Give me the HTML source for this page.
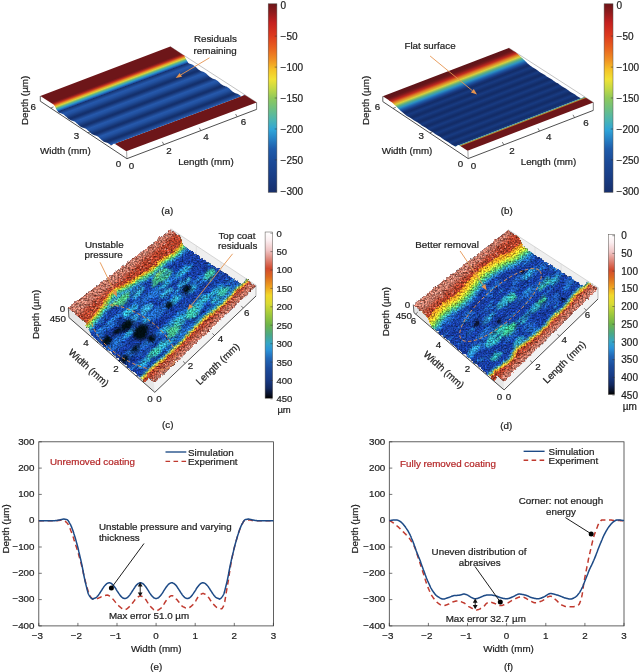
<!DOCTYPE html>
<html><head><meta charset="utf-8"><title>Figure</title>
<style>html,body{margin:0;padding:0;background:#fff;}body{width:639px;height:672px;overflow:hidden;font-family:"Liberation Sans",sans-serif;}svg{display:block;}</style></head>
<body>
<svg width="639" height="672" viewBox="0 0 639 672" font-family="'Liberation Sans', sans-serif">
<defs>
<linearGradient id="jet" x1="0" y1="0" x2="0" y2="1" gradientUnits="objectBoundingBox"><stop offset="0" stop-color="#6f1519"/><stop offset="0.04" stop-color="#8a1a1c"/><stop offset="0.1" stop-color="#c4201f"/><stop offset="0.17" stop-color="#dd3a1e"/><stop offset="0.24" stop-color="#e9651f"/><stop offset="0.3" stop-color="#f09323"/><stop offset="0.35" stop-color="#f5c327"/><stop offset="0.4" stop-color="#f1e235"/><stop offset="0.45" stop-color="#c3d945"/><stop offset="0.5" stop-color="#8fc95a"/><stop offset="0.56" stop-color="#6cbf84"/><stop offset="0.62" stop-color="#4ab4b4"/><stop offset="0.67" stop-color="#2fa4d8"/><stop offset="0.72" stop-color="#2680c4"/><stop offset="0.77" stop-color="#1f5cab"/><stop offset="0.84" stop-color="#1b4a97"/><stop offset="0.92" stop-color="#193d85"/><stop offset="1" stop-color="#172f6c"/></linearGradient>
<linearGradient id="hot" x1="0" y1="0" x2="0" y2="1" gradientUnits="objectBoundingBox"><stop offset="0" stop-color="#ffffff"/><stop offset="0.05" stop-color="#fbeef0"/><stop offset="0.11" stop-color="#f0c4c4"/><stop offset="0.16" stop-color="#e08c80"/><stop offset="0.22" stop-color="#d24a2e"/><stop offset="0.27" stop-color="#dd6a20"/><stop offset="0.33" stop-color="#eea21f"/><stop offset="0.38" stop-color="#f2d82a"/><stop offset="0.43" stop-color="#dadb33"/><stop offset="0.5" stop-color="#9cc83c"/><stop offset="0.56" stop-color="#6db44a"/><stop offset="0.62" stop-color="#4aa887"/><stop offset="0.67" stop-color="#35a6c6"/><stop offset="0.71" stop-color="#2b93d8"/><stop offset="0.76" stop-color="#2268b8"/><stop offset="0.82" stop-color="#1c4c9c"/><stop offset="0.89" stop-color="#183a84"/><stop offset="0.94" stop-color="#12285e"/><stop offset="0.98" stop-color="#080f22"/><stop offset="1" stop-color="#000000"/></linearGradient>
<linearGradient id="ga" gradientUnits="userSpaceOnUse" x1="126.30" y1="151.30" x2="97.49" y2="74.54"><stop offset="0.0000" stop-color="#6d1619"/><stop offset="0.1342" stop-color="#6d1619"/><stop offset="0.1354" stop-color="#1c4590"/><stop offset="0.1423" stop-color="#2659ac"/><stop offset="0.1882" stop-color="#15316e"/><stop offset="0.2021" stop-color="#14306c"/><stop offset="0.2535" stop-color="#21509f"/><stop offset="0.2813" stop-color="#2659ac"/><stop offset="0.3272" stop-color="#15316e"/><stop offset="0.3411" stop-color="#14306c"/><stop offset="0.3926" stop-color="#21509f"/><stop offset="0.4204" stop-color="#2659ac"/><stop offset="0.4663" stop-color="#15316e"/><stop offset="0.4802" stop-color="#14306c"/><stop offset="0.5316" stop-color="#21509f"/><stop offset="0.5594" stop-color="#2659ac"/><stop offset="0.6053" stop-color="#15316e"/><stop offset="0.6192" stop-color="#14306c"/><stop offset="0.6707" stop-color="#21509f"/><stop offset="0.6985" stop-color="#2659ac"/><stop offset="0.7443" stop-color="#15316e"/><stop offset="0.7391" stop-color="#183a84"/><stop offset="0.7562" stop-color="#1f62b4"/><stop offset="0.7733" stop-color="#2e9acb"/><stop offset="0.7915" stop-color="#66b784"/><stop offset="0.8098" stop-color="#d8d43c"/><stop offset="0.8281" stop-color="#e58f26"/><stop offset="0.8452" stop-color="#c93a1f"/><stop offset="0.8635" stop-color="#8a1a1c"/><stop offset="0.8781" stop-color="#6d1619"/><stop offset="1.0001" stop-color="#6d1619"/></linearGradient>
<linearGradient id="gb" gradientUnits="userSpaceOnUse" x1="467.60" y1="150.70" x2="438.48" y2="74.91"><stop offset="0.0000" stop-color="#6d1619"/><stop offset="0.0764" stop-color="#6d1619"/><stop offset="0.0825" stop-color="#9c3a1f"/><stop offset="0.0899" stop-color="#a89a3c"/><stop offset="0.0985" stop-color="#3d8c86"/><stop offset="0.1084" stop-color="#173a80"/><stop offset="0.1316" stop-color="#132d69"/><stop offset="0.1696" stop-color="#183b82"/><stop offset="0.2034" stop-color="#132c67"/><stop offset="0.2161" stop-color="#132d69"/><stop offset="0.2541" stop-color="#183b82"/><stop offset="0.2878" stop-color="#132c67"/><stop offset="0.3005" stop-color="#132d69"/><stop offset="0.3385" stop-color="#183b82"/><stop offset="0.3723" stop-color="#132c67"/><stop offset="0.3850" stop-color="#132d69"/><stop offset="0.4230" stop-color="#183b82"/><stop offset="0.4567" stop-color="#132c67"/><stop offset="0.4694" stop-color="#132d69"/><stop offset="0.5074" stop-color="#183b82"/><stop offset="0.5412" stop-color="#132c67"/><stop offset="0.5539" stop-color="#132d69"/><stop offset="0.5919" stop-color="#183b82"/><stop offset="0.6256" stop-color="#132c67"/><stop offset="0.6383" stop-color="#132d69"/><stop offset="0.6763" stop-color="#183b82"/><stop offset="0.7101" stop-color="#132c67"/><stop offset="0.7328" stop-color="#17357a"/><stop offset="0.7636" stop-color="#1e5aa8"/><stop offset="0.7919" stop-color="#2c92c4"/><stop offset="0.8202" stop-color="#5fb080"/><stop offset="0.8486" stop-color="#d6cf3c"/><stop offset="0.8769" stop-color="#e08226"/><stop offset="0.9052" stop-color="#c02a1f"/><stop offset="0.9335" stop-color="#821a1c"/><stop offset="0.9557" stop-color="#64161a"/><stop offset="1.0099" stop-color="#5e1418"/></linearGradient>

<filter id="rough" x="-5%" y="-5%" width="110%" height="110%" color-interpolation-filters="sRGB">
  <feTurbulence type="fractalNoise" baseFrequency="0.33" numOctaves="2" seed="7" result="n1"/>
  <feDisplacementMap in="SourceGraphic" in2="n1" scale="3.4" xChannelSelector="R" yChannelSelector="G" result="d"/>
  <feTurbulence type="fractalNoise" baseFrequency="0.62" numOctaves="2" seed="11" result="n2"/>
  <feColorMatrix in="n2" type="matrix" values="1.5 0 0 0 -0.25  1.5 0 0 0 -0.25  1.5 0 0 0 -0.25  0 0 0 0 1" result="gn"/>
  <feComposite in="gn" in2="d" operator="arithmetic" k1="0.95" k2="0" k3="0.53" k4="0" result="m"/>
  <feComposite in="m" in2="d" operator="in"/>
</filter>
<filter id="mottc" x="0" y="0" width="100%" height="100%" color-interpolation-filters="sRGB">
  <feTurbulence type="fractalNoise" baseFrequency="0.05 0.26" numOctaves="3" seed="4" result="n"/>
  <feColorMatrix in="n" type="matrix" values="0 0 0 0 0.17  0 0 0 0 0.60  0 0 0 0 0.86  3.4 0 0 0 -1.98" result="w"/>
  <feComposite in="w" in2="SourceGraphic" operator="in"/>
</filter>
<filter id="mottd" x="0" y="0" width="100%" height="100%" color-interpolation-filters="sRGB">
  <feTurbulence type="fractalNoise" baseFrequency="0.07 0.3" numOctaves="3" seed="19" result="n"/>
  <feColorMatrix in="n" type="matrix" values="0 0 0 0 0.06  0 0 0 0 0.14  0 0 0 0 0.45  3.2 0 0 0 -1.7" result="w"/>
  <feComposite in="w" in2="SourceGraphic" operator="in"/>
</filter>
<filter id="speckd" x="0" y="0" width="100%" height="100%" color-interpolation-filters="sRGB">
  <feTurbulence type="fractalNoise" baseFrequency="0.5" numOctaves="2" seed="23" result="n"/>
  <feColorMatrix in="n" type="matrix" values="0 0 0 0 0.45  0 0 0 0 0.13  0 0 0 0 0.08  2.6 0 0 0 -1.3" result="w"/>
  <feComposite in="w" in2="SourceGraphic" operator="in"/>
</filter>
<filter id="bl2"><feGaussianBlur stdDeviation="2"/></filter>
<filter id="bl1"><feGaussianBlur stdDeviation="1.1"/></filter>
<filter id="bl3"><feGaussianBlur stdDeviation="3.2"/></filter>
<filter id="speck" x="0" y="0" width="100%" height="100%" color-interpolation-filters="sRGB">
  <feTurbulence type="fractalNoise" baseFrequency="0.55" numOctaves="2" seed="5" result="n"/>
  <feColorMatrix in="n" type="matrix" values="0 0 0 0 0.98  0 0 0 0 0.86  0 0 0 0 0.84  2.2 0 0 0 -1.3" result="w"/>
  <feComposite in="w" in2="SourceGraphic" operator="in"/>
</filter>

<clipPath id="clipc"><polygon points="68.1,308.0 86.2,323.8 91.4,335.8 145.9,383.0 148.5,377.8 154.5,383.0 256.0,286.0 245.8,279.2 242.4,284.5 183.5,245.6 179.2,235.2 170.7,229.6"/></clipPath>
<clipPath id="clipd"><polygon points="413.1,304.6 427.2,316.5 432.1,327.5 494.7,380.6 497.9,376.5 503.8,381.5 598.0,288.5 587.2,281.5 583.6,286.0 523.3,247.0 518.8,237.3 508.0,230.3"/></clipPath>
</defs>
<g opacity="0.999">
<polygon points="40.3,96.0 126.3,151.3 126.9,158.7 40.3,101.2" fill="#fff"/>
<polygon points="126.3,151.3 256.6,102.4 256.6,109.4 126.9,158.7" fill="#fff"/>
<polyline points="170.3,46.6 256.6,102.4" fill="none" stroke="#9a9a9a" stroke-width="0.6"/>
<polygon points="114.7,143.8 113.9,143.7 113.1,144.1 112.4,144.7 111.6,145.2 110.8,145.4 110.1,144.5 109.3,144.0 108.5,143.5 107.7,143.1 107.0,142.8 106.2,142.6 105.4,142.3 104.6,142.0 103.9,141.7 103.1,141.2 102.3,140.6 101.6,139.9 100.8,139.2 100.0,138.4 99.2,137.7 98.5,137.1 97.7,136.5 96.9,136.1 96.1,135.7 95.4,135.4 94.6,135.2 93.8,134.9 93.0,134.6 92.3,134.2 91.5,133.7 90.7,133.1 90.0,132.4 89.2,131.6 88.4,130.9 87.6,130.2 86.9,129.6 86.1,129.0 85.3,128.6 84.5,128.3 83.8,128.1 83.0,127.8 82.2,127.5 81.5,127.2 80.7,126.8 79.9,126.2 79.1,125.6 78.4,124.9 77.6,124.1 76.8,123.4 76.0,122.7 75.3,122.1 74.5,121.6 73.7,121.2 73.0,120.9 72.2,120.7 71.4,120.4 70.6,120.1 69.9,119.8 69.1,119.3 68.3,118.7 67.5,118.1 66.8,117.3 66.0,116.6 65.2,115.9 64.5,115.2 63.7,114.6 62.9,114.2 62.1,113.8 61.4,113.5 60.6,113.3 59.8,113.1 59.0,112.7 58.3,112.3 57.5,111.1 56.7,110.0 55.9,108.4 55.2,106.8 54.4,105.4 53.6,104.6 183.7,55.2 184.5,56.1 185.2,57.5 186.0,59.1 186.8,60.6 187.6,61.8 188.3,63.0 189.1,63.4 189.9,63.8 190.7,64.0 191.4,64.3 192.2,64.6 193.0,64.9 193.8,65.4 194.5,65.9 195.3,66.6 196.1,67.3 196.9,68.1 197.6,68.8 198.4,69.5 199.2,70.1 200.0,70.5 200.7,70.9 201.5,71.2 202.3,71.5 203.1,71.7 203.8,72.0 204.6,72.4 205.4,72.9 206.2,73.5 206.9,74.2 207.7,74.9 208.5,75.7 209.3,76.4 210.0,77.1 210.8,77.6 211.6,78.0 212.4,78.4 213.1,78.7 213.9,78.9 214.7,79.2 215.5,79.5 216.3,79.9 217.0,80.4 217.8,81.1 218.6,81.8 219.4,82.5 220.1,83.3 220.9,84.0 221.7,84.6 222.5,85.1 223.2,85.5 224.0,85.8 224.8,86.1 225.6,86.4 226.3,86.6 227.1,87.0 227.9,87.4 228.7,88.0 229.4,88.6 230.2,89.4 231.0,90.1 231.8,90.9 232.5,91.6 233.3,92.1 234.1,92.6 234.9,93.0 235.6,93.3 236.4,93.5 237.2,93.8 238.0,94.1 238.7,94.5 239.5,95.0 240.3,95.6 241.1,96.4 241.8,96.3 242.6,95.7 243.4,95.1 244.2,94.7 244.9,94.9" fill="url(#ga)"/>
<polygon points="54.7,105.2 40.3,96.0 170.3,46.6 184.7,55.9" fill="url(#ga)"/>
<polygon points="126.3,151.3 114.7,143.8 244.9,94.9 256.6,102.4" fill="url(#ga)"/>
<polyline points="40.3,101.2 126.9,158.7 256.6,109.4" fill="none" stroke="#222" stroke-width="0.8"/>
<line x1="40.3" y1="96.0" x2="40.3" y2="101.2" stroke="#222" stroke-width="0.7"/>
<line x1="126.6" y1="151.3" x2="126.9" y2="158.7" stroke="#444" stroke-width="0.5"/>
<line x1="256.6" y1="102.4" x2="256.6" y2="109.4" stroke="#222" stroke-width="0.6"/>
<line x1="163.9" y1="144.6" x2="162.3" y2="141.8" stroke="#222" stroke-width="0.6"/>
<line x1="200.8" y1="130.6" x2="199.3" y2="127.8" stroke="#222" stroke-width="0.6"/>
<line x1="237.1" y1="116.8" x2="235.6" y2="114.0" stroke="#222" stroke-width="0.6"/>
<line x1="50.7" y1="108.1" x2="53.5" y2="106.9" stroke="#222" stroke-width="0.6"/>
<line x1="87.9" y1="132.8" x2="90.7" y2="131.7" stroke="#222" stroke-width="0.6"/>
<text x="33.2" y="109.9" font-size="9.8" text-anchor="middle" fill="#1e1e1e" stroke="#1e1e1e" stroke-width="0.22">6</text>
<text x="76.4" y="138.5" font-size="9.8" text-anchor="middle" fill="#1e1e1e" stroke="#1e1e1e" stroke-width="0.22">3</text>
<text x="118.6" y="166.7" font-size="9.8" text-anchor="middle" fill="#1e1e1e" stroke="#1e1e1e" stroke-width="0.22">0</text>
<text x="131.6" y="168.7" font-size="9.8" text-anchor="middle" fill="#1e1e1e" stroke="#1e1e1e" stroke-width="0.22">0</text>
<text x="169.1" y="154.4" font-size="9.8" text-anchor="middle" fill="#1e1e1e" stroke="#1e1e1e" stroke-width="0.22">2</text>
<text x="205.9" y="139.8" font-size="9.8" text-anchor="middle" fill="#1e1e1e" stroke="#1e1e1e" stroke-width="0.22">4</text>
<text x="243.4" y="125.1" font-size="9.8" text-anchor="middle" fill="#1e1e1e" stroke="#1e1e1e" stroke-width="0.22">6</text>
<text x="65.4" y="154.4" font-size="9.8" text-anchor="middle" fill="#1e1e1e" stroke="#1e1e1e" stroke-width="0.22">Width (mm)</text>
<text x="205.9" y="165.0" font-size="9.8" text-anchor="middle" fill="#1e1e1e" stroke="#1e1e1e" stroke-width="0.22">Length (mm)</text>
<text x="24.5" y="103.9" font-size="9.8" text-anchor="middle" fill="#1e1e1e" stroke="#1e1e1e" stroke-width="0.22" transform="rotate(-90 24.5 100.4)">Depth (µm)</text>
<text x="215.4" y="42.3" font-size="9.8" text-anchor="middle" fill="#1e1e1e" stroke="#1e1e1e" stroke-width="0.22">Residuals</text>
<text x="215.1" y="53.8" font-size="9.8" text-anchor="middle" fill="#1e1e1e" stroke="#1e1e1e" stroke-width="0.22">remaining</text>
<line x1="209.5" y1="57.8" x2="180.9" y2="74.8" stroke="#e59450" stroke-width="0.9"/>
<polygon points="175.7,77.9 179.7,72.9 182.0,76.8" fill="#e59450"/>
<text x="167.3" y="214.2" font-size="9.8" text-anchor="middle" fill="#1e1e1e" stroke="#1e1e1e" stroke-width="0.22">(a)</text>
<polygon points="382.8,96.3 467.6,150.7 468.2,158.6 382.8,101.6" fill="#fff"/>
<polygon points="467.6,150.7 593.3,102.4 593.3,110.4 468.2,158.6" fill="#fff"/>
<polyline points="508.8,47.9 593.3,102.4" fill="none" stroke="#9a9a9a" stroke-width="0.6"/>
<polygon points="459.1,145.3 458.2,145.1 457.3,145.6 456.4,146.3 455.6,146.7 454.7,146.3 453.8,145.8 452.9,145.3 452.0,144.8 451.1,144.3 450.2,143.6 449.3,142.9 448.4,142.3 447.5,141.7 446.6,141.2 445.8,140.7 444.9,140.2 444.0,139.7 443.1,139.1 442.2,138.4 441.3,137.7 440.4,137.1 439.5,136.6 438.6,136.1 437.7,135.6 436.8,135.1 436.0,134.5 435.1,133.9 434.2,133.2 433.3,132.5 432.4,132.0 431.5,131.5 430.6,131.0 429.7,130.5 428.8,130.0 427.9,129.3 427.0,128.7 426.2,128.0 425.3,127.4 424.4,126.9 423.5,126.4 422.6,125.9 421.7,125.4 420.8,124.8 419.9,124.1 419.0,123.5 418.1,122.8 417.2,122.3 416.4,121.8 415.5,121.3 414.6,120.8 413.7,120.3 412.8,119.6 411.9,118.9 411.0,118.3 410.1,117.7 409.2,117.2 408.3,116.7 407.4,116.2 406.6,115.7 405.7,114.9 404.8,114.3 403.9,113.6 403.0,112.8 402.1,112.1 401.2,111.2 400.3,110.4 399.4,109.6 398.5,108.7 397.6,107.8 396.8,107.0 395.9,106.1 395.0,105.2 394.1,104.4 393.2,103.6 392.3,102.8 391.4,102.1 390.5,101.4 389.6,100.7 388.7,100.1 514.7,51.7 515.6,52.3 516.5,53.0 517.4,53.7 518.3,54.4 519.2,55.2 520.0,56.0 520.9,56.9 521.8,57.7 522.7,58.6 523.6,59.4 524.5,60.3 525.4,61.2 526.3,62.0 527.1,62.9 528.0,63.7 528.9,64.5 529.8,65.2 530.7,65.9 531.6,66.6 532.5,67.3 533.4,67.8 534.2,68.3 535.1,68.8 536.0,69.3 536.9,69.9 537.8,70.6 538.7,71.2 539.6,71.9 540.5,72.5 541.3,73.0 542.2,73.4 543.1,73.9 544.0,74.5 544.9,75.1 545.8,75.8 546.7,76.4 547.6,77.1 548.5,77.6 549.3,78.0 550.2,78.5 551.1,79.0 552.0,79.6 552.9,80.3 553.8,81.0 554.7,81.6 555.6,82.2 556.4,82.7 557.3,83.1 558.2,83.6 559.1,84.2 560.0,84.9 560.9,85.5 561.8,86.2 562.7,86.8 563.5,87.3 564.4,87.8 565.3,88.2 566.2,88.8 567.1,89.4 568.0,90.1 568.9,90.7 569.8,91.4 570.6,91.9 571.5,92.4 572.4,92.9 573.3,93.4 574.2,93.9 575.1,94.6 576.0,95.3 576.9,95.9 577.7,96.5 578.6,97.0 579.5,97.5 580.4,98.0 581.3,98.4 582.2,98.0 583.1,97.3 584.0,96.8 584.8,97.0" fill="url(#gb)"/>
<polygon points="389.8,100.8 382.8,96.3 508.8,47.9 515.7,52.4" fill="url(#gb)"/>
<polygon points="467.6,150.7 459.1,145.3 584.8,97.0 593.3,102.4" fill="url(#gb)"/>
<polyline points="382.8,101.6 468.2,158.6 593.3,110.4" fill="none" stroke="#222" stroke-width="0.8"/>
<line x1="382.8" y1="96.3" x2="382.8" y2="101.6" stroke="#222" stroke-width="0.7"/>
<line x1="467.9" y1="150.7" x2="468.2" y2="158.6" stroke="#444" stroke-width="0.5"/>
<line x1="593.3" y1="102.4" x2="593.3" y2="110.4" stroke="#222" stroke-width="0.6"/>
<line x1="503.9" y1="144.9" x2="502.3" y2="142.1" stroke="#222" stroke-width="0.6"/>
<line x1="539.5" y1="131.1" x2="538.0" y2="128.3" stroke="#222" stroke-width="0.6"/>
<line x1="574.5" y1="117.6" x2="573.0" y2="114.8" stroke="#222" stroke-width="0.6"/>
<line x1="393.0" y1="108.4" x2="395.8" y2="107.3" stroke="#222" stroke-width="0.6"/>
<line x1="429.8" y1="132.9" x2="432.5" y2="131.8" stroke="#222" stroke-width="0.6"/>
<text x="377.5" y="109.8" font-size="9.8" text-anchor="middle" fill="#1e1e1e" stroke="#1e1e1e" stroke-width="0.22">6</text>
<text x="421.2" y="138.5" font-size="9.8" text-anchor="middle" fill="#1e1e1e" stroke="#1e1e1e" stroke-width="0.22">3</text>
<text x="460.6" y="167.4" font-size="9.8" text-anchor="middle" fill="#1e1e1e" stroke="#1e1e1e" stroke-width="0.22">0</text>
<text x="473.6" y="169.0" font-size="9.8" text-anchor="middle" fill="#1e1e1e" stroke="#1e1e1e" stroke-width="0.22">0</text>
<text x="512.0" y="154.4" font-size="9.8" text-anchor="middle" fill="#1e1e1e" stroke="#1e1e1e" stroke-width="0.22">2</text>
<text x="548.8" y="139.5" font-size="9.8" text-anchor="middle" fill="#1e1e1e" stroke="#1e1e1e" stroke-width="0.22">4</text>
<text x="585.9" y="125.5" font-size="9.8" text-anchor="middle" fill="#1e1e1e" stroke="#1e1e1e" stroke-width="0.22">6</text>
<text x="407.0" y="154.4" font-size="9.8" text-anchor="middle" fill="#1e1e1e" stroke="#1e1e1e" stroke-width="0.22">Width (mm)</text>
<text x="548.5" y="165.0" font-size="9.8" text-anchor="middle" fill="#1e1e1e" stroke="#1e1e1e" stroke-width="0.22">Length (mm)</text>
<text x="365.6" y="103.9" font-size="9.8" text-anchor="middle" fill="#1e1e1e" stroke="#1e1e1e" stroke-width="0.22" transform="rotate(-90 365.6 100.4)">Depth (µm)</text>
<text x="430.0" y="48.8" font-size="9.8" text-anchor="middle" fill="#1e1e1e" stroke="#1e1e1e" stroke-width="0.22">Flat surface</text>
<line x1="430.1" y1="56.0" x2="472.4" y2="90.7" stroke="#e59450" stroke-width="0.9"/>
<polygon points="477.0,94.5 470.9,92.5 473.8,88.9" fill="#e59450"/>
<text x="506.8" y="214.2" font-size="9.8" text-anchor="middle" fill="#1e1e1e" stroke="#1e1e1e" stroke-width="0.22">(b)</text>
<polygon points="170.7,228.8 256.0,285.2 256.0,295.5 170.7,239.1" fill="#efefef"/>
<line x1="170.7" y1="228.8" x2="256.0" y2="285.2" stroke="#bdbdbd" stroke-width="0.6"/>
<line x1="196.3" y1="245.7" x2="196.3" y2="254.0" stroke="#d2d2d2" stroke-width="0.5"/>
<line x1="221.0" y1="262.1" x2="221.0" y2="270.4" stroke="#d2d2d2" stroke-width="0.5"/>
<line x1="245.3" y1="278.1" x2="245.3" y2="286.4" stroke="#d2d2d2" stroke-width="0.5"/>
<polygon points="68.1,308.0 154.5,383.0 154.8,392.3 68.9,317.5" fill="#e6e6e6"/>
<polygon points="154.5,383.0 256.0,286.0 256.0,296.0 154.8,392.3" fill="#f3f3f3"/>
<g filter="url(#rough)"><g clip-path="url(#clipc)">
<polygon points="68.1,308.0 86.2,323.8 91.4,335.8 145.9,383.0 148.5,377.8 154.5,383.0 256.0,286.0 245.8,279.2 242.4,284.5 183.5,245.6 179.2,235.2 170.7,229.6" fill="#193ea2"/>
<path d="M108.5,350.9 C110.5,351.1 114.6,349.2 117.0,347.5 C119.3,345.8 120.6,342.4 122.9,340.6 C125.2,338.7 128.1,337.8 130.7,336.4 C133.3,334.9 135.9,333.6 138.3,331.9 C140.7,330.1 142.6,327.7 144.9,325.9 C147.1,324.1 149.6,322.4 152.1,320.8 C154.6,319.3 157.4,318.2 159.8,316.5 C162.1,314.7 163.8,311.9 166.1,310.2 C168.5,308.5 171.7,307.9 174.0,306.1 C176.3,304.2 177.7,301.1 179.9,299.2 C182.2,297.3 185.0,296.2 187.6,294.8 C190.3,293.5 193.4,292.8 195.8,291.1 C198.3,289.5 200.1,287.0 202.2,285.0 C204.4,282.9 208.2,280.7 208.6,278.7 C209.0,276.7 206.3,273.0 204.4,272.9 C202.5,272.8 199.5,276.1 197.1,277.9 C194.8,279.6 192.6,281.6 190.3,283.5 C188.1,285.4 186.1,287.7 183.6,289.3 C181.1,290.8 177.7,291.1 175.3,292.8 C172.9,294.5 171.7,297.8 169.4,299.6 C167.1,301.5 164.2,302.4 161.6,303.9 C159.0,305.3 156.3,306.5 153.9,308.3 C151.5,310.0 149.6,312.4 147.4,314.3 C145.1,316.2 142.6,317.7 140.4,319.6 C138.1,321.5 136.2,323.9 133.9,325.8 C131.6,327.6 129.2,329.2 126.7,330.8 C124.2,332.4 121.6,333.7 119.0,335.3 C116.5,336.8 114.0,338.3 111.6,340.0 C109.3,341.8 105.6,344.2 105.1,346.0 C104.6,347.8 106.6,350.6 108.5,350.9Z" fill="#2777d2" opacity="0.85" filter="url(#bl1)"/>
<path d="M149.6,318.0 C149.8,318.5 148.7,319.9 148.3,320.8 C148.0,321.6 148.2,322.6 147.6,323.1 C147.0,323.7 145.8,323.8 144.9,324.0 C144.0,324.3 142.7,324.9 142.0,324.8 C141.4,324.6 140.7,323.7 140.8,323.0 C140.9,322.2 142.0,321.4 142.5,320.5 C143.0,319.7 143.2,318.5 144.0,317.9 C144.7,317.4 146.1,317.4 147.0,317.4 C147.9,317.4 149.4,317.4 149.6,318.0Z" fill="#33b2cc" opacity="0.9" filter="url(#bl1)"/>
<path d="M181.0,295.4 C181.6,295.7 181.7,296.9 180.9,297.9 C180.1,298.9 177.6,300.1 176.2,301.3 C174.7,302.4 173.3,304.4 172.2,304.9 C171.1,305.5 170.1,304.9 169.5,304.7 C168.8,304.4 168.0,304.2 168.2,303.5 C168.5,302.8 169.9,301.6 170.8,300.6 C171.8,299.5 172.7,297.9 173.8,297.2 C174.9,296.5 176.2,296.5 177.4,296.2 C178.6,295.9 180.4,295.1 181.0,295.4Z" fill="#33b2cc" opacity="0.9" filter="url(#bl1)"/>
<path d="M195.9,284.7 C196.3,285.1 196.8,285.9 196.4,286.6 C196.1,287.3 194.7,288.3 193.9,288.9 C193.0,289.5 192.3,289.9 191.4,290.3 C190.4,290.7 188.9,291.6 188.2,291.6 C187.4,291.5 186.9,290.6 186.9,289.9 C187.0,289.1 187.7,288.0 188.4,287.1 C189.1,286.2 190.0,284.7 190.9,284.2 C191.8,283.8 193.0,284.4 193.8,284.4 C194.6,284.5 195.4,284.4 195.9,284.7Z" fill="#33b2cc" opacity="0.9" filter="url(#bl1)"/>
<path d="M194.1,286.0 C194.6,286.4 194.6,287.5 194.4,288.5 C194.3,289.4 194.0,290.8 193.3,291.6 C192.5,292.4 190.9,292.9 189.8,293.1 C188.7,293.4 187.1,293.4 186.7,292.9 C186.2,292.4 186.9,291.0 186.9,290.1 C186.9,289.3 186.4,288.6 186.8,288.0 C187.2,287.4 188.4,286.9 189.1,286.5 C189.9,286.2 190.6,285.8 191.5,285.8 C192.3,285.7 193.6,285.5 194.1,286.0Z" fill="#33b2cc" opacity="0.9" filter="url(#bl1)"/>
<path d="M135.4,328.2 C135.9,328.3 135.9,329.0 135.5,329.8 C135.0,330.6 134.1,332.0 132.8,333.1 C131.5,334.2 129.0,335.9 127.6,336.6 C126.2,337.3 124.7,337.5 124.2,337.2 C123.8,336.9 124.7,335.7 125.0,334.9 C125.3,334.2 125.1,333.7 125.9,332.7 C126.7,331.8 128.7,330.0 129.9,329.3 C131.1,328.6 132.0,328.9 133.0,328.7 C133.9,328.5 135.0,328.0 135.4,328.2Z" fill="#33b2cc" opacity="0.9" filter="url(#bl1)"/>
<path d="M178.8,297.0 C179.2,297.4 179.2,298.5 178.8,299.3 C178.4,300.2 177.3,301.3 176.3,302.1 C175.4,302.9 174.0,303.8 173.1,304.1 C172.2,304.3 171.6,303.8 170.9,303.6 C170.3,303.4 169.2,303.3 169.3,302.7 C169.3,302.1 170.5,301.0 171.1,300.2 C171.8,299.4 172.3,298.4 173.2,297.8 C174.0,297.1 175.4,296.6 176.4,296.5 C177.3,296.4 178.4,296.5 178.8,297.0Z" fill="#33b2cc" opacity="0.9" filter="url(#bl1)"/>
<path d="M126.8,363.1 C128.5,363.0 130.4,358.1 132.6,356.2 C134.8,354.2 137.5,352.9 139.9,351.3 C142.4,349.7 144.7,348.0 147.3,346.5 C149.8,345.0 152.8,344.1 155.2,342.4 C157.5,340.6 159.1,337.8 161.3,335.9 C163.5,334.0 166.2,332.6 168.6,330.9 C171.0,329.2 173.3,327.5 175.7,325.8 C178.1,324.1 180.3,322.2 182.8,320.6 C185.2,319.0 188.0,317.9 190.4,316.2 C192.8,314.5 194.8,312.3 197.2,310.5 C199.5,308.7 202.0,307.3 204.3,305.4 C206.6,303.6 208.6,301.4 210.8,299.4 C213.0,297.4 215.2,295.5 217.5,293.7 C219.8,291.9 224.1,290.3 224.6,288.5 C225.1,286.7 222.3,282.9 220.4,282.9 C218.5,282.8 215.7,286.4 213.4,288.2 C211.2,290.1 209.0,292.1 206.8,294.0 C204.5,295.8 202.3,297.9 199.9,299.4 C197.4,301.0 194.4,301.9 191.9,303.5 C189.4,305.0 187.1,306.9 184.8,308.6 C182.5,310.4 180.3,312.4 177.9,314.1 C175.6,315.8 172.8,317.0 170.6,319.0 C168.4,321.0 167.1,324.1 164.9,326.1 C162.7,328.0 159.9,329.1 157.5,330.7 C155.0,332.4 152.7,334.2 150.3,335.9 C148.0,337.6 145.8,339.6 143.3,341.2 C140.9,342.8 138.1,343.9 135.7,345.6 C133.3,347.3 131.2,349.5 129.0,351.4 C126.7,353.2 122.5,355.0 122.2,356.9 C121.8,358.9 125.0,363.2 126.8,363.1Z" fill="#2777d2" opacity="0.85" filter="url(#bl1)"/>
<path d="M184.4,314.6 C184.8,314.9 185.4,315.6 185.1,316.2 C184.8,316.8 183.4,317.6 182.6,318.2 C181.9,318.7 181.4,319.1 180.6,319.5 C179.9,319.8 178.7,320.4 178.2,320.2 C177.7,320.1 177.6,319.4 177.5,318.9 C177.4,318.3 177.4,317.4 177.9,316.8 C178.3,316.2 179.6,315.4 180.4,315.0 C181.2,314.7 181.9,314.5 182.6,314.4 C183.3,314.4 184.0,314.3 184.4,314.6Z" fill="#33b2cc" opacity="0.9" filter="url(#bl1)"/>
<path d="M217.0,290.3 C217.1,290.8 217.3,291.2 216.9,291.8 C216.6,292.4 215.8,293.1 215.0,293.8 C214.3,294.5 213.4,295.3 212.5,295.8 C211.5,296.4 209.7,297.3 209.3,297.1 C208.9,296.9 210.0,295.4 210.2,294.7 C210.4,294.1 210.2,293.8 210.6,293.1 C211.1,292.4 212.0,291.4 213.0,290.7 C213.9,290.0 215.6,289.0 216.3,289.0 C217.0,288.9 216.9,289.9 217.0,290.3Z" fill="#33b2cc" opacity="0.9" filter="url(#bl1)"/>
<path d="M224.2,284.9 C224.5,285.2 223.0,286.8 222.6,287.6 C222.2,288.4 222.5,289.2 221.9,289.8 C221.4,290.3 220.2,290.4 219.3,290.7 C218.4,291.1 217.1,292.0 216.4,292.0 C215.6,292.0 214.8,291.3 214.9,290.6 C214.9,290.0 215.9,288.6 216.6,287.9 C217.3,287.2 218.4,286.9 219.2,286.5 C220.0,286.2 220.4,286.0 221.2,285.7 C222.0,285.5 224.0,284.6 224.2,284.9Z" fill="#33b2cc" opacity="0.9" filter="url(#bl1)"/>
<path d="M172.1,323.8 C172.2,324.3 171.4,325.5 170.7,326.4 C169.9,327.4 168.8,328.3 167.6,329.4 C166.4,330.4 164.6,332.1 163.5,332.7 C162.4,333.3 161.6,333.0 161.1,332.8 C160.5,332.7 160.1,332.5 160.1,332.0 C160.1,331.4 160.1,330.5 161.0,329.5 C161.9,328.6 164.0,327.3 165.5,326.3 C167.0,325.3 168.9,323.9 170.0,323.5 C171.1,323.1 172.0,323.3 172.1,323.8Z" fill="#33b2cc" opacity="0.9" filter="url(#bl1)"/>
<path d="M179.5,318.3 C179.8,318.8 179.2,319.9 178.8,320.7 C178.5,321.5 178.2,322.8 177.5,323.4 C176.8,323.9 175.4,323.6 174.5,323.8 C173.6,324.0 172.9,324.6 172.2,324.6 C171.5,324.7 170.5,324.5 170.4,324.0 C170.3,323.4 171.0,322.2 171.6,321.4 C172.2,320.7 173.3,319.9 174.2,319.3 C175.2,318.7 176.2,318.2 177.1,318.1 C178.0,317.9 179.2,317.9 179.5,318.3Z" fill="#33b2cc" opacity="0.9" filter="url(#bl1)"/>
<path d="M213.9,292.6 C214.3,293.0 214.5,293.9 213.9,294.8 C213.3,295.7 211.7,296.9 210.5,297.9 C209.3,298.9 207.9,300.2 206.8,300.8 C205.6,301.4 204.3,301.6 203.5,301.5 C202.7,301.4 201.7,301.1 201.9,300.4 C202.0,299.7 203.4,298.0 204.4,297.1 C205.4,296.2 206.8,295.6 208.0,294.9 C209.2,294.1 210.6,292.7 211.6,292.4 C212.6,292.0 213.6,292.2 213.9,292.6Z" fill="#33b2cc" opacity="0.9" filter="url(#bl1)"/>
<path d="M142.3,369.1 C144.2,369.2 146.7,365.4 148.8,363.5 C151.0,361.5 153.1,359.6 155.2,357.6 C157.4,355.7 159.2,353.4 161.6,351.8 C164.0,350.3 167.4,349.9 169.6,348.2 C171.9,346.4 173.1,343.2 175.3,341.4 C177.6,339.7 181.0,339.4 183.3,337.7 C185.6,336.0 187.0,333.0 189.2,331.2 C191.4,329.4 194.3,328.4 196.6,326.7 C198.9,325.0 200.9,322.9 203.2,321.1 C205.4,319.4 208.0,318.0 210.3,316.3 C212.7,314.7 215.1,313.1 217.3,311.2 C219.5,309.4 221.4,307.2 223.5,305.3 C225.7,303.3 227.9,301.5 230.1,299.7 C232.3,297.9 236.3,296.0 236.8,294.3 C237.3,292.6 235.0,289.6 233.2,289.6 C231.4,289.6 228.2,292.5 225.9,294.2 C223.6,295.9 221.7,298.2 219.6,300.1 C217.4,302.0 215.1,303.7 212.9,305.6 C210.8,307.5 209.1,310.0 206.7,311.7 C204.4,313.4 201.3,314.0 198.9,315.7 C196.6,317.4 195.1,320.1 192.9,321.9 C190.7,323.7 188.1,325.0 185.7,326.7 C183.4,328.4 181.1,330.1 178.9,331.9 C176.7,333.8 174.9,336.2 172.5,337.7 C170.1,339.3 166.9,339.8 164.4,341.3 C161.9,342.8 159.9,345.0 157.7,346.8 C155.5,348.6 153.3,350.4 151.1,352.3 C149.0,354.2 147.1,356.4 144.8,358.2 C142.6,360.0 138.0,361.2 137.6,363.0 C137.2,364.8 140.5,369.1 142.3,369.1Z" fill="#2777d2" opacity="0.85" filter="url(#bl1)"/>
<path d="M164.0,347.2 C164.2,347.7 162.3,349.6 161.7,350.7 C161.1,351.7 161.3,352.5 160.4,353.4 C159.5,354.4 157.3,356.2 156.3,356.6 C155.3,357.0 154.8,356.0 154.2,355.7 C153.6,355.4 152.8,355.5 152.7,354.9 C152.5,354.3 152.6,353.2 153.4,352.2 C154.1,351.3 155.8,349.7 157.0,349.0 C158.2,348.2 159.4,348.1 160.6,347.8 C161.7,347.5 163.8,346.8 164.0,347.2Z" fill="#33b2cc" opacity="0.9" filter="url(#bl1)"/>
<path d="M205.7,315.1 C206.1,315.2 205.6,316.4 205.0,317.3 C204.4,318.2 203.4,319.5 202.3,320.4 C201.2,321.3 199.4,322.4 198.4,322.9 C197.3,323.4 196.4,323.5 195.8,323.4 C195.2,323.4 194.9,323.2 194.8,322.7 C194.7,322.1 194.6,321.2 195.4,320.3 C196.3,319.5 198.6,318.3 199.8,317.6 C201.0,316.9 201.6,316.6 202.6,316.2 C203.6,315.7 205.3,314.9 205.7,315.1Z" fill="#33b2cc" opacity="0.9" filter="url(#bl1)"/>
<path d="M148.8,358.9 C149.0,359.4 149.1,360.2 148.6,361.0 C148.1,361.8 147.0,362.9 146.0,363.9 C144.9,364.9 143.4,366.5 142.2,367.1 C141.0,367.8 139.8,367.8 138.9,367.7 C137.9,367.7 136.4,367.7 136.6,367.0 C136.8,366.2 139.0,364.4 140.1,363.1 C141.2,361.9 141.9,360.2 143.0,359.3 C144.2,358.5 146.2,358.1 147.1,358.1 C148.1,358.0 148.5,358.5 148.8,358.9Z" fill="#33b2cc" opacity="0.9" filter="url(#bl1)"/>
<path d="M220.9,303.4 C221.2,303.9 221.4,304.7 220.9,305.6 C220.4,306.6 219.0,308.2 217.8,309.1 C216.7,310.0 215.2,310.5 213.9,311.1 C212.7,311.7 211.4,312.5 210.3,312.6 C209.3,312.8 207.9,312.8 207.8,312.0 C207.8,311.3 208.8,309.3 210.0,308.3 C211.1,307.2 213.3,306.7 214.8,305.7 C216.2,304.8 217.8,303.1 218.8,302.7 C219.9,302.3 220.5,302.9 220.9,303.4Z" fill="#33b2cc" opacity="0.9" filter="url(#bl1)"/>
<path d="M176.2,337.8 C176.6,338.0 176.7,338.8 176.3,339.5 C175.9,340.2 174.5,341.3 173.7,341.9 C172.8,342.6 172.0,343.1 171.2,343.5 C170.4,343.8 169.6,344.1 169.0,344.1 C168.4,344.2 167.6,344.1 167.6,343.6 C167.6,343.1 168.2,341.9 168.9,341.3 C169.6,340.6 170.9,340.1 171.7,339.7 C172.5,339.2 173.0,338.8 173.7,338.5 C174.5,338.2 175.8,337.7 176.2,337.8Z" fill="#33b2cc" opacity="0.9" filter="url(#bl1)"/>
<path d="M226.0,299.4 C226.3,299.9 225.9,301.0 225.4,301.9 C224.9,302.8 224.0,304.1 223.0,305.0 C222.0,305.8 220.3,306.8 219.4,307.1 C218.4,307.5 217.7,307.3 217.2,307.1 C216.7,306.9 216.7,306.5 216.5,306.0 C216.3,305.4 215.3,304.6 216.0,303.9 C216.6,303.3 218.9,302.7 220.1,301.9 C221.4,301.1 222.6,299.7 223.5,299.3 C224.5,298.8 225.7,299.0 226.0,299.4Z" fill="#33b2cc" opacity="0.9" filter="url(#bl1)"/>
<path d="M100.3,338.3 C102.0,338.2 103.6,333.4 105.7,331.5 C107.8,329.7 110.5,328.8 112.8,327.3 C115.2,325.8 117.5,324.3 119.7,322.6 C121.9,320.8 123.8,318.7 125.9,317.0 C128.0,315.2 130.2,313.4 132.5,311.9 C134.8,310.3 137.4,309.2 139.7,307.6 C141.9,305.9 143.5,303.5 145.8,301.9 C148.2,300.4 151.2,299.9 153.6,298.5 C156.1,297.2 158.4,295.6 160.6,293.9 C162.7,292.1 164.6,290.0 166.6,288.1 C168.6,286.1 170.5,284.0 172.7,282.3 C175.0,280.7 177.8,279.8 180.0,278.3 C182.3,276.7 184.3,274.7 186.4,272.9 C188.6,271.1 192.3,269.2 192.9,267.6 C193.4,266.0 191.5,263.4 189.7,263.3 C188.0,263.3 184.6,265.7 182.4,267.3 C180.1,269.0 178.6,271.6 176.3,273.2 C174.0,274.7 171.0,275.3 168.6,276.8 C166.3,278.3 164.3,280.3 162.3,282.2 C160.2,284.1 158.6,286.5 156.3,288.1 C154.1,289.8 151.2,290.5 148.9,292.0 C146.5,293.5 144.7,295.7 142.4,297.3 C140.2,298.9 137.7,300.2 135.3,301.6 C132.9,303.1 130.5,304.5 128.2,306.1 C125.9,307.6 123.8,309.3 121.5,311.0 C119.3,312.6 116.9,314.1 114.8,315.9 C112.7,317.7 111.0,320.0 108.9,321.9 C106.8,323.7 104.5,325.2 102.3,326.9 C100.1,328.7 96.2,330.3 95.9,332.2 C95.5,334.1 98.7,338.4 100.3,338.3Z" fill="#2777d2" opacity="0.85" filter="url(#bl1)"/>
<path d="M131.5,309.7 C131.9,310.2 132.5,310.9 132.3,311.7 C132.0,312.5 130.7,313.9 129.7,314.6 C128.8,315.3 127.5,315.5 126.6,315.8 C125.7,316.0 124.7,316.2 124.2,316.0 C123.8,315.8 123.8,315.0 123.8,314.4 C123.8,313.9 123.9,313.2 124.3,312.5 C124.7,311.8 125.4,310.7 126.3,310.0 C127.2,309.4 128.7,308.7 129.6,308.7 C130.4,308.6 131.0,309.2 131.5,309.7Z" fill="#33b2cc" opacity="0.9" filter="url(#bl1)"/>
<path d="M131.9,309.3 C132.2,309.7 130.5,311.7 129.8,312.6 C129.2,313.4 129.0,313.8 128.3,314.6 C127.6,315.4 126.5,316.9 125.6,317.4 C124.7,317.8 123.6,317.4 123.0,317.1 C122.4,316.8 122.1,316.1 122.1,315.5 C122.0,314.8 122.1,313.8 122.6,313.0 C123.2,312.1 124.6,310.6 125.5,310.2 C126.4,309.8 127.1,310.5 128.2,310.4 C129.3,310.3 131.7,309.0 131.9,309.3Z" fill="#33b2cc" opacity="0.9" filter="url(#bl1)"/>
<path d="M191.5,265.7 C191.8,266.0 190.9,267.2 190.2,268.2 C189.6,269.1 188.9,270.4 187.8,271.3 C186.7,272.2 185.0,272.8 183.6,273.5 C182.2,274.2 180.7,275.1 179.7,275.3 C178.7,275.5 177.2,275.5 177.4,274.8 C177.6,274.1 179.7,272.2 180.9,271.0 C182.2,269.7 183.7,267.9 185.0,267.1 C186.3,266.4 187.4,266.6 188.5,266.3 C189.6,266.1 191.2,265.4 191.5,265.7Z" fill="#33b2cc" opacity="0.9" filter="url(#bl1)"/>
<path d="M182.4,272.3 C182.6,272.8 181.9,273.8 181.5,274.4 C181.1,275.1 180.4,275.7 179.8,276.2 C179.2,276.7 178.6,277.0 177.8,277.4 C176.9,277.8 175.2,279.0 174.9,278.8 C174.5,278.7 175.3,277.3 175.6,276.7 C175.8,276.1 175.9,275.9 176.2,275.2 C176.6,274.6 176.9,273.3 177.7,272.7 C178.4,272.1 179.9,271.8 180.7,271.7 C181.5,271.7 182.3,271.9 182.4,272.3Z" fill="#33b2cc" opacity="0.9" filter="url(#bl1)"/>
<path d="M137.5,305.2 C137.9,305.7 137.8,306.9 137.5,307.7 C137.1,308.6 136.2,309.6 135.4,310.3 C134.6,311.0 133.6,311.5 132.6,311.9 C131.6,312.4 129.8,313.1 129.2,312.9 C128.6,312.6 128.6,311.2 128.8,310.4 C129.0,309.6 129.9,308.7 130.5,308.1 C131.1,307.4 131.6,307.0 132.3,306.4 C133.1,305.9 134.2,304.9 135.0,304.7 C135.9,304.5 137.1,304.7 137.5,305.2Z" fill="#33b2cc" opacity="0.9" filter="url(#bl1)"/>
<path d="M169.7,281.6 C169.9,282.2 170.1,282.8 169.7,283.6 C169.3,284.4 168.2,285.5 167.2,286.3 C166.2,287.2 164.9,288.2 163.9,288.6 C162.9,289.0 162.1,288.9 161.2,288.8 C160.3,288.8 158.4,289.1 158.5,288.5 C158.6,287.9 160.8,286.1 161.8,285.1 C162.8,284.1 163.4,283.5 164.5,282.7 C165.6,281.9 167.5,280.4 168.4,280.2 C169.3,280.0 169.5,281.1 169.7,281.6Z" fill="#33b2cc" opacity="0.9" filter="url(#bl1)"/>
<path d="M155.4,373.9 C157.1,373.8 160.4,371.3 162.5,369.5 C164.6,367.7 165.9,365.0 167.9,363.1 C169.9,361.3 172.5,360.0 174.6,358.3 C176.8,356.6 178.6,354.5 180.8,352.8 C183.0,351.1 185.5,349.8 187.6,348.1 C189.7,346.3 191.4,344.1 193.4,342.2 C195.4,340.3 197.5,338.4 199.6,336.6 C201.7,334.8 203.7,332.9 205.9,331.4 C208.2,329.8 211.0,328.8 213.2,327.2 C215.4,325.6 217.2,323.4 219.2,321.5 C221.2,319.6 223.2,317.7 225.2,315.8 C227.3,314.0 229.4,312.3 231.6,310.5 C233.7,308.8 236.0,307.3 238.1,305.5 C240.3,303.8 243.9,301.7 244.4,300.2 C244.9,298.6 242.7,295.9 241.2,296.2 C239.7,296.5 237.4,300.2 235.2,302.0 C233.1,303.7 230.3,304.7 228.3,306.6 C226.3,308.4 225.0,311.2 222.9,313.0 C220.9,314.9 218.2,316.0 216.1,317.7 C213.9,319.4 211.8,321.2 209.8,323.1 C207.7,324.9 205.8,326.9 203.7,328.7 C201.7,330.5 199.6,332.4 197.4,334.0 C195.2,335.6 192.6,336.8 190.3,338.4 C188.1,340.0 185.9,341.6 183.8,343.4 C181.6,345.2 179.7,347.2 177.7,349.0 C175.6,350.8 173.3,352.4 171.3,354.3 C169.3,356.1 167.6,358.5 165.4,360.2 C163.3,361.8 160.3,362.6 158.2,364.3 C156.0,366.0 152.9,368.8 152.5,370.4 C152.0,372.0 153.7,374.1 155.4,373.9Z" fill="#2777d2" opacity="0.85" filter="url(#bl1)"/>
<path d="M219.5,318.0 C219.9,318.1 219.9,318.7 219.6,319.4 C219.2,320.1 218.2,321.2 217.3,322.0 C216.4,322.9 215.3,323.7 214.2,324.3 C213.1,325.0 211.7,325.8 211.0,325.9 C210.3,326.0 209.6,325.6 210.0,324.9 C210.4,324.2 212.3,322.7 213.2,321.8 C214.0,320.9 214.5,320.1 215.2,319.6 C215.9,319.1 216.7,319.0 217.4,318.7 C218.1,318.5 219.1,317.9 219.5,318.0Z" fill="#33b2cc" opacity="0.9" filter="url(#bl1)"/>
<path d="M193.8,339.2 C193.7,339.8 192.4,341.1 191.8,342.0 C191.3,342.9 191.4,343.7 190.5,344.7 C189.5,345.6 187.2,347.1 186.1,347.7 C185.0,348.3 184.5,348.1 183.7,348.3 C182.9,348.4 181.2,349.0 181.5,348.4 C181.7,347.9 184.1,345.8 185.2,344.8 C186.2,343.8 186.7,343.2 187.8,342.2 C189.0,341.2 191.1,339.4 192.1,338.9 C193.1,338.4 193.8,338.7 193.8,339.2Z" fill="#33b2cc" opacity="0.9" filter="url(#bl1)"/>
<path d="M164.3,363.5 C164.6,363.7 164.4,364.6 163.9,365.3 C163.5,365.9 162.4,366.7 161.6,367.3 C160.9,367.9 160.4,368.5 159.7,369.0 C158.9,369.4 157.6,370.3 157.2,370.2 C156.7,370.2 156.9,369.3 157.1,368.8 C157.3,368.3 157.7,367.6 158.2,367.0 C158.7,366.4 159.5,365.9 160.1,365.5 C160.8,365.0 161.4,364.4 162.2,364.1 C162.9,363.8 164.0,363.3 164.3,363.5Z" fill="#33b2cc" opacity="0.9" filter="url(#bl1)"/>
<path d="M238.6,302.3 C238.8,302.6 238.6,303.5 238.2,304.2 C237.7,304.9 236.8,305.6 236.1,306.3 C235.3,306.9 234.5,308.0 233.9,308.2 C233.3,308.5 233.0,308.0 232.5,307.9 C232.1,307.8 231.2,308.0 231.2,307.6 C231.2,307.2 231.9,306.4 232.4,305.7 C232.9,305.0 233.3,304.0 234.0,303.4 C234.7,302.8 236.0,302.3 236.8,302.1 C237.5,301.9 238.4,301.9 238.6,302.3Z" fill="#33b2cc" opacity="0.9" filter="url(#bl1)"/>
<path d="M225.8,312.8 C226.1,313.0 224.8,314.7 224.2,315.6 C223.6,316.5 223.2,317.4 222.4,318.1 C221.7,318.8 220.4,319.3 219.6,319.7 C218.8,320.0 218.3,320.1 217.7,320.2 C217.0,320.3 215.4,320.8 215.5,320.4 C215.6,319.9 217.3,318.5 218.1,317.6 C218.8,316.7 219.2,315.6 220.0,315.0 C220.7,314.5 221.4,314.8 222.4,314.4 C223.4,314.0 225.5,312.6 225.8,312.8Z" fill="#33b2cc" opacity="0.9" filter="url(#bl1)"/>
<path d="M217.7,319.5 C218.1,319.7 217.8,320.6 217.3,321.4 C216.8,322.2 215.8,323.3 214.8,324.4 C213.7,325.4 212.2,326.9 210.9,327.7 C209.7,328.4 207.7,329.3 207.3,329.1 C206.9,328.9 208.0,327.3 208.3,326.5 C208.7,325.7 208.5,325.2 209.2,324.4 C209.9,323.7 211.4,322.7 212.4,321.9 C213.5,321.1 214.6,320.3 215.5,319.9 C216.4,319.5 217.4,319.2 217.7,319.5Z" fill="#33b2cc" opacity="0.9" filter="url(#bl1)"/>
<path d="M127.8,288.3 C129.3,289.7 130.7,292.0 130.2,294.7 C129.8,297.4 127.4,302.3 125.0,304.2 C122.6,306.2 118.3,305.5 115.6,306.3 C112.8,307.1 110.8,309.0 108.5,309.1 C106.2,309.2 102.4,308.8 102.0,307.0 C101.6,305.3 104.4,300.9 106.2,298.4 C108.0,295.9 110.3,294.1 112.9,292.0 C115.4,290.0 118.8,286.8 121.3,286.1 C123.8,285.5 126.3,286.8 127.8,288.3Z" fill="#4fc37a" opacity="0.95" filter="url(#bl1)"/>
<path d="M118.2,295.6 C118.7,296.3 116.9,299.1 116.4,300.6 C115.9,302.2 116.3,303.7 115.4,304.8 C114.5,305.8 112.3,306.3 111.0,306.7 C109.6,307.1 108.5,307.3 107.4,307.2 C106.2,307.0 104.4,306.8 104.2,305.8 C103.9,304.9 105.3,303.1 106.0,301.5 C106.7,300.0 107.2,297.5 108.4,296.6 C109.6,295.7 111.6,296.2 113.2,296.0 C114.9,295.8 117.6,294.8 118.2,295.6Z" fill="#9fd640" opacity="0.95" filter="url(#bl1)"/>
<path d="M168.4,268.5 C169.8,269.3 172.3,270.8 172.1,272.6 C171.9,274.3 168.8,277.4 167.0,278.9 C165.2,280.5 163.6,280.6 161.2,282.0 C158.8,283.4 154.1,287.7 152.7,287.3 C151.3,286.9 152.5,281.8 152.7,279.6 C152.9,277.4 153.1,276.1 153.9,274.2 C154.7,272.2 155.8,269.0 157.4,267.9 C159.0,266.9 161.7,267.8 163.5,267.9 C165.4,268.0 167.0,267.7 168.4,268.5Z" fill="#45bd80" opacity="0.95" filter="url(#bl1)"/>
<path d="M164.0,264.6 C164.5,265.1 163.0,267.8 162.5,269.0 C161.9,270.2 161.6,270.6 160.8,271.9 C160.1,273.2 159.1,276.0 158.0,276.7 C156.8,277.3 155.3,276.1 154.1,275.7 C152.8,275.2 151.0,275.2 150.6,274.1 C150.2,273.1 150.8,270.8 151.6,269.4 C152.4,267.9 154.3,266.0 155.6,265.4 C156.9,264.8 158.1,266.0 159.5,265.8 C160.9,265.7 163.5,264.1 164.0,264.6Z" fill="#9fd640" opacity="0.95" filter="url(#bl1)"/>
<path d="M215.9,270.0 C216.2,270.9 215.2,272.8 214.7,274.0 C214.2,275.1 213.8,275.7 213.0,276.9 C212.3,278.1 211.3,280.8 210.2,281.3 C209.2,281.9 207.9,280.4 206.8,280.0 C205.7,279.6 203.8,279.7 203.5,278.8 C203.2,277.9 204.2,275.9 204.9,274.5 C205.7,273.1 206.6,271.3 207.8,270.3 C209.1,269.4 211.1,268.9 212.4,268.9 C213.8,268.8 215.5,269.2 215.9,270.0Z" fill="#3fc09a" opacity="0.95" filter="url(#bl1)"/>
<path d="M202.4,302.6 C203.2,303.2 201.3,306.4 200.7,308.3 C200.0,310.2 199.8,312.2 198.4,313.9 C196.9,315.6 193.8,317.8 191.9,318.7 C190.0,319.5 188.0,319.4 186.8,318.9 C185.7,318.5 184.9,317.4 184.9,316.2 C184.9,314.9 185.8,313.0 186.8,311.3 C187.8,309.6 189.5,307.1 191.0,306.0 C192.5,304.9 194.1,305.5 196.0,304.9 C197.9,304.3 201.6,302.0 202.4,302.6Z" fill="#3cc3a0" opacity="0.95" filter="url(#bl1)"/>
<path d="M207.4,295.6 C208.0,296.2 208.7,297.0 208.4,298.0 C208.0,299.1 206.3,300.7 205.3,301.7 C204.2,302.7 202.9,303.6 201.9,304.0 C200.9,304.4 200.3,304.2 199.2,304.2 C198.2,304.3 196.2,304.9 195.8,304.2 C195.3,303.6 196.0,301.6 196.8,300.2 C197.6,298.9 199.3,297.1 200.7,296.1 C202.1,295.1 204.1,294.3 205.2,294.2 C206.3,294.2 206.9,295.0 207.4,295.6Z" fill="#36b4c4" opacity="0.95" filter="url(#bl1)"/>
<path d="M182.1,322.8 C182.4,324.0 180.6,326.1 180.2,327.9 C179.9,329.6 181.1,331.6 180.0,333.1 C178.9,334.5 175.6,335.6 173.5,336.4 C171.5,337.3 168.8,338.7 167.8,338.3 C166.9,337.8 168.0,335.2 167.8,333.8 C167.6,332.4 165.8,331.2 166.6,329.9 C167.4,328.5 170.5,327.5 172.5,325.9 C174.5,324.3 177.0,320.8 178.6,320.3 C180.2,319.8 181.8,321.5 182.1,322.8Z" fill="#46c489" opacity="0.95" filter="url(#bl1)"/>
<path d="M185.5,317.5 C186.1,317.9 185.8,319.5 185.5,320.6 C185.2,321.7 184.7,323.2 183.8,324.1 C183.0,324.9 181.5,325.2 180.3,325.6 C179.2,326.1 177.7,326.9 177.1,326.7 C176.5,326.5 176.7,325.1 176.7,324.2 C176.6,323.4 176.4,322.7 176.8,321.8 C177.2,321.0 178.3,319.8 179.2,319.2 C180.0,318.6 181.0,318.4 182.1,318.2 C183.1,317.9 184.9,317.1 185.5,317.5Z" fill="#38b6c0" opacity="0.95" filter="url(#bl1)"/>
<path d="M161.8,346.0 C162.3,346.6 161.4,348.7 160.8,349.9 C160.2,351.1 159.5,352.2 158.5,353.4 C157.5,354.6 156.4,355.9 154.8,357.1 C153.2,358.3 150.0,360.5 148.8,360.4 C147.5,360.4 147.1,358.3 147.2,356.8 C147.4,355.4 148.6,353.3 149.8,351.9 C150.9,350.4 152.6,349.1 154.0,348.2 C155.3,347.2 156.7,346.8 158.0,346.4 C159.3,346.1 161.4,345.4 161.8,346.0Z" fill="#3cc3a0" opacity="0.95" filter="url(#bl1)"/>
<path d="M167.5,340.1 C168.1,340.6 168.7,341.4 168.6,342.4 C168.5,343.4 167.9,345.2 166.9,346.1 C166.0,347.1 164.4,347.5 163.1,348.1 C161.8,348.7 160.2,349.6 159.2,349.5 C158.3,349.4 157.6,348.3 157.4,347.3 C157.3,346.3 157.4,344.7 158.2,343.6 C158.9,342.6 160.7,341.7 161.9,341.0 C163.1,340.3 164.2,339.4 165.2,339.3 C166.1,339.1 167.0,339.6 167.5,340.1Z" fill="#36b4c4" opacity="0.95" filter="url(#bl1)"/>
<path d="M171.8,287.4 C172.5,288.0 174.0,288.4 173.6,289.5 C173.2,290.5 170.6,292.3 169.2,293.7 C167.9,295.1 166.6,297.1 165.4,297.8 C164.2,298.5 163.1,297.9 162.1,297.7 C161.0,297.6 159.4,297.7 159.3,296.9 C159.3,296.0 160.8,293.9 161.8,292.7 C162.8,291.4 164.0,290.5 165.4,289.4 C166.7,288.3 168.6,286.4 169.7,286.1 C170.8,285.7 171.2,286.8 171.8,287.4Z" fill="#38b0d0" opacity="0.95" filter="url(#bl1)"/>
<path d="M152.5,303.7 C153.2,304.2 153.6,305.5 153.1,306.7 C152.5,308.0 150.4,309.6 149.1,311.0 C147.7,312.4 146.3,314.3 145.0,315.1 C143.8,315.8 142.1,315.8 141.3,315.4 C140.6,315.1 140.7,314.0 140.6,313.1 C140.5,312.1 140.0,311.2 140.7,309.9 C141.3,308.6 143.1,306.2 144.5,305.2 C145.9,304.1 147.8,303.9 149.1,303.7 C150.4,303.5 151.8,303.2 152.5,303.7Z" fill="#37a8d8" opacity="0.95" filter="url(#bl1)"/>
<path d="M190.3,276.9 C191.1,277.2 191.4,278.9 190.7,280.1 C190.0,281.3 187.4,282.9 186.1,284.1 C184.8,285.3 183.9,286.4 182.8,287.0 C181.7,287.7 180.4,288.1 179.4,288.1 C178.4,288.1 177.0,288.1 176.9,287.3 C176.8,286.5 177.8,284.7 178.7,283.3 C179.6,282.0 181.1,280.1 182.3,279.3 C183.5,278.5 184.6,278.9 186.0,278.5 C187.3,278.1 189.5,276.6 190.3,276.9Z" fill="#38b0d0" opacity="0.95" filter="url(#bl1)"/>
<path d="M138.8,314.2 C139.1,314.7 138.7,315.8 138.5,316.9 C138.2,318.0 138.3,319.5 137.4,320.8 C136.4,322.0 133.9,323.8 132.5,324.3 C131.2,324.9 130.4,324.2 129.3,324.2 C128.2,324.1 125.8,324.7 125.8,323.9 C125.9,323.1 128.4,320.5 129.6,319.2 C130.7,318.0 131.5,317.3 132.6,316.3 C133.8,315.4 135.4,313.9 136.4,313.5 C137.4,313.2 138.4,313.6 138.8,314.2Z" fill="#37a8d8" opacity="0.95" filter="url(#bl1)"/>
<path d="M229.3,286.4 C230.1,286.7 230.9,288.0 230.3,289.3 C229.8,290.5 227.5,292.8 226.1,293.9 C224.7,295.1 223.4,295.5 222.0,296.2 C220.6,297.0 218.4,298.7 217.7,298.5 C217.1,298.4 218.2,296.3 218.1,295.3 C218.0,294.4 216.3,293.8 216.9,292.8 C217.4,291.8 220.2,290.0 221.6,289.1 C223.0,288.3 223.8,288.3 225.1,287.8 C226.4,287.4 228.4,286.2 229.3,286.4Z" fill="#3cc3a0" opacity="0.95" filter="url(#bl1)"/>
<path d="M220.1,295.3 C220.7,295.6 222.1,295.8 222.1,296.6 C222.0,297.5 220.9,299.5 219.9,300.4 C218.9,301.3 217.4,301.1 216.1,301.8 C214.8,302.5 212.9,304.3 212.0,304.4 C211.1,304.4 210.5,303.1 210.6,302.2 C210.8,301.2 212.1,299.6 212.9,298.6 C213.7,297.7 214.7,297.0 215.6,296.4 C216.5,295.8 217.5,295.1 218.2,294.9 C219.0,294.7 219.4,295.0 220.1,295.3Z" fill="#36b4c4" opacity="0.95" filter="url(#bl1)"/>
<path d="M144.0,287.1 C144.3,288.0 143.9,289.3 143.5,290.5 C143.0,291.6 142.2,292.9 141.3,293.9 C140.3,295.0 139.1,295.9 137.7,296.9 C136.2,297.8 133.3,299.9 132.6,299.6 C131.9,299.3 133.6,296.5 133.4,295.3 C133.3,294.1 131.2,293.5 131.7,292.4 C132.2,291.3 135.1,289.7 136.7,288.5 C138.3,287.4 140.2,285.7 141.5,285.5 C142.7,285.2 143.6,286.3 144.0,287.1Z" fill="#38b0d0" opacity="0.95" filter="url(#bl1)"/>
<g transform="rotate(-42 162.1 306.3)" opacity="0.9"><rect x="52.1" y="226.3" width="220" height="160" fill="#fff" filter="url(#mottd)"/><rect x="52.1" y="226.3" width="220" height="160" fill="#fff" filter="url(#mottc)"/></g>
<path d="M133.6,318.7 C135.0,319.3 137.1,321.2 136.6,322.8 C136.0,324.5 132.1,327.0 130.3,328.6 C128.4,330.2 127.3,331.4 125.5,332.3 C123.8,333.2 121.2,334.3 119.8,334.0 C118.4,333.8 117.1,332.3 116.9,330.8 C116.8,329.3 117.8,327.0 118.9,325.3 C119.9,323.6 121.7,321.6 123.2,320.6 C124.8,319.6 126.5,319.6 128.2,319.3 C130.0,319.0 132.2,318.1 133.6,318.7Z" fill="#14327a" opacity="0.8" filter="url(#bl2)"/>
<path d="M130.9,321.1 C131.6,321.9 132.7,322.7 132.6,323.9 C132.5,325.1 131.3,327.4 130.2,328.5 C129.0,329.6 127.1,329.9 125.6,330.6 C124.0,331.3 121.9,332.8 120.7,332.7 C119.5,332.6 118.3,331.2 118.3,330.0 C118.4,328.8 120.2,326.7 121.2,325.5 C122.2,324.2 123.1,323.8 124.3,322.7 C125.4,321.7 127.2,319.4 128.3,319.1 C129.4,318.9 130.2,320.3 130.9,321.1Z" fill="#05070f" opacity="0.95" filter="url(#bl1)"/>
<path d="M153.8,321.4 C155.4,322.4 154.4,326.8 154.1,329.6 C153.7,332.5 153.5,336.4 151.5,338.5 C149.6,340.5 145.2,341.3 142.5,342.0 C139.7,342.6 136.5,343.4 135.1,342.5 C133.6,341.6 134.0,338.4 133.7,336.4 C133.3,334.4 132.3,333.0 132.8,330.6 C133.3,328.2 134.7,323.2 136.7,322.1 C138.7,320.9 141.8,323.7 144.6,323.6 C147.5,323.5 152.2,320.4 153.8,321.4Z" fill="#14327a" opacity="0.8" filter="url(#bl2)"/>
<path d="M147.0,327.5 C147.6,328.6 147.5,329.6 147.5,330.9 C147.5,332.3 147.9,334.1 147.0,335.4 C146.2,336.8 144.0,338.5 142.3,339.1 C140.7,339.7 138.9,339.4 137.4,339.0 C135.8,338.6 133.6,338.0 133.1,336.7 C132.7,335.3 133.7,332.7 134.7,330.9 C135.7,329.2 137.3,327.3 138.9,326.3 C140.5,325.2 143.0,324.2 144.4,324.4 C145.7,324.6 146.5,326.4 147.0,327.5Z" fill="#05070f" opacity="0.95" filter="url(#bl1)"/>
<path d="M113.7,334.1 C114.2,334.9 113.1,337.2 112.6,338.6 C112.0,339.9 111.5,340.9 110.5,342.3 C109.5,343.8 107.9,346.5 106.6,347.1 C105.3,347.7 103.8,346.5 102.7,346.0 C101.6,345.6 100.3,345.3 99.8,344.3 C99.4,343.3 99.3,341.3 100.0,339.8 C100.8,338.2 103.0,336.0 104.5,335.0 C106.1,334.1 107.9,334.2 109.4,334.1 C110.9,333.9 113.1,333.4 113.7,334.1Z" fill="#14327a" opacity="0.8" filter="url(#bl2)"/>
<path d="M110.8,336.7 C111.2,337.2 111.0,338.1 110.9,339.1 C110.8,340.0 111.0,341.2 110.3,342.2 C109.6,343.2 107.7,344.7 106.7,345.0 C105.7,345.2 104.9,344.3 104.3,343.9 C103.6,343.5 102.7,343.3 102.6,342.7 C102.5,342.0 103.1,341.0 103.5,340.0 C104.0,339.0 104.5,337.4 105.3,336.7 C106.2,336.0 107.7,336.0 108.6,336.0 C109.6,336.0 110.5,336.2 110.8,336.7Z" fill="#05070f" opacity="0.95" filter="url(#bl1)"/>
<path d="M192.8,283.7 C193.4,284.2 192.1,286.7 191.8,288.0 C191.5,289.4 191.7,290.8 190.9,291.9 C190.1,293.0 188.3,294.0 186.9,294.7 C185.4,295.4 183.3,296.2 182.2,295.9 C181.1,295.5 180.6,293.9 180.3,292.7 C180.0,291.4 179.7,289.7 180.4,288.4 C181.1,287.1 183.3,285.4 184.6,284.9 C185.9,284.3 186.8,285.3 188.1,285.1 C189.5,284.9 192.2,283.2 192.8,283.7Z" fill="#14327a" opacity="0.8" filter="url(#bl2)"/>
<path d="M189.8,286.4 C190.3,286.8 191.2,287.5 191.1,288.2 C191.0,288.9 189.8,289.9 189.1,290.7 C188.4,291.5 187.5,292.7 186.8,292.9 C186.1,293.1 185.5,292.2 184.8,292.0 C184.1,291.7 182.8,291.9 182.6,291.4 C182.4,290.9 183.2,289.7 183.6,288.8 C184.0,287.8 184.3,286.2 185.0,285.8 C185.7,285.4 186.9,286.2 187.7,286.3 C188.5,286.4 189.2,286.1 189.8,286.4Z" fill="#05070f" opacity="0.95" filter="url(#bl1)"/>
<path d="M155.5,334.6 C156.2,335.4 157.6,336.2 157.5,337.2 C157.4,338.3 155.9,339.8 154.9,340.7 C153.9,341.7 152.8,342.8 151.8,343.1 C150.7,343.4 149.3,343.2 148.5,342.8 C147.8,342.3 147.6,341.2 147.3,340.3 C147.1,339.5 146.8,338.6 147.0,337.5 C147.3,336.4 147.7,334.3 148.7,333.5 C149.7,332.6 152.0,332.1 153.1,332.3 C154.2,332.5 154.8,333.8 155.5,334.6Z" fill="#14327a" opacity="0.8" filter="url(#bl2)"/>
<path d="M154.0,335.9 C154.5,336.5 155.3,336.9 155.3,337.6 C155.3,338.4 154.9,339.6 154.3,340.3 C153.7,341.1 152.4,342.0 151.7,342.1 C150.9,342.2 150.3,341.2 149.8,340.8 C149.3,340.4 149.0,340.3 148.6,339.7 C148.2,339.2 147.1,338.2 147.3,337.6 C147.6,336.9 149.2,336.5 150.1,336.0 C151.0,335.4 151.9,334.3 152.5,334.3 C153.2,334.3 153.6,335.4 154.0,335.9Z" fill="#05070f" opacity="0.95" filter="url(#bl1)"/>
<path d="M121.1,327.1 C121.8,327.8 122.8,328.9 122.4,329.9 C122.0,330.8 119.8,331.8 118.8,333.0 C117.8,334.2 117.4,336.2 116.3,336.9 C115.2,337.6 113.0,337.7 112.3,337.1 C111.6,336.6 112.2,334.9 112.0,333.8 C111.9,332.8 110.9,331.8 111.4,331.0 C111.9,330.1 113.9,329.8 115.1,328.9 C116.3,328.0 117.5,325.9 118.5,325.6 C119.5,325.3 120.5,326.4 121.1,327.1Z" fill="#14327a" opacity="0.8" filter="url(#bl2)"/>
<path d="M119.2,328.9 C119.6,329.2 120.2,329.8 120.1,330.4 C120.1,331.1 119.5,332.5 118.9,333.0 C118.2,333.5 117.2,333.2 116.3,333.6 C115.4,334.0 114.1,335.4 113.6,335.2 C113.2,335.1 113.7,333.6 113.7,332.9 C113.8,332.2 113.7,331.8 114.0,331.2 C114.2,330.6 114.7,329.6 115.2,329.2 C115.8,328.7 116.7,328.7 117.4,328.6 C118.0,328.6 118.7,328.6 119.2,328.9Z" fill="#05070f" opacity="0.95" filter="url(#bl1)"/>
<path d="M139.9,344.3 C140.3,345.0 139.5,346.5 139.3,347.6 C139.0,348.7 139.3,349.8 138.6,350.8 C137.9,351.8 136.3,353.1 135.1,353.7 C133.8,354.3 131.7,355.0 130.9,354.6 C130.1,354.2 130.3,352.3 130.4,351.3 C130.4,350.2 130.7,349.3 131.2,348.3 C131.7,347.2 132.4,345.9 133.3,345.0 C134.3,344.2 136.0,343.5 137.1,343.4 C138.2,343.2 139.6,343.6 139.9,344.3Z" fill="#14327a" opacity="0.8" filter="url(#bl2)"/>
<path d="M138.8,345.3 C139.2,345.6 138.9,347.0 138.6,347.7 C138.4,348.5 137.8,349.4 137.2,349.9 C136.6,350.5 135.8,350.9 135.1,351.2 C134.3,351.6 133.2,352.3 132.6,352.2 C132.0,352.1 131.4,351.3 131.5,350.7 C131.5,350.0 132.4,349.1 132.9,348.4 C133.3,347.7 133.6,347.0 134.1,346.6 C134.6,346.2 135.3,346.2 136.1,346.0 C136.9,345.8 138.4,345.0 138.8,345.3Z" fill="#05070f" opacity="0.95" filter="url(#bl1)"/>
<path d="M173.4,301.3 C174.0,301.7 174.1,303.1 173.8,304.0 C173.6,304.8 172.8,305.7 172.1,306.5 C171.4,307.4 170.7,308.6 169.8,309.1 C168.8,309.5 167.2,309.8 166.5,309.4 C165.8,309.1 165.7,307.9 165.4,307.0 C165.1,306.0 164.2,304.8 164.6,304.0 C165.1,303.2 167.2,302.6 168.2,302.2 C169.1,301.8 169.7,301.6 170.6,301.4 C171.5,301.3 172.9,300.9 173.4,301.3Z" fill="#14327a" opacity="0.8" filter="url(#bl2)"/>
<path d="M172.4,302.2 C172.8,302.6 172.8,303.5 172.7,304.2 C172.6,304.9 172.4,305.8 171.9,306.4 C171.4,307.1 170.4,308.1 169.7,308.3 C169.0,308.5 168.3,307.9 167.7,307.7 C167.0,307.4 166.2,307.2 166.0,306.7 C165.8,306.1 166.2,305.0 166.6,304.3 C167.0,303.7 167.7,303.0 168.3,302.6 C169.0,302.1 169.8,301.9 170.5,301.8 C171.1,301.8 172.1,301.8 172.4,302.2Z" fill="#05070f" opacity="0.95" filter="url(#bl1)"/>
<path d="M131.3,353.2 C131.9,353.9 130.4,356.6 129.8,358.0 C129.3,359.5 128.9,360.8 127.9,361.9 C127.0,363.1 125.4,364.2 124.0,364.9 C122.6,365.6 120.4,366.3 119.6,365.9 C118.9,365.5 119.7,363.4 119.4,362.3 C119.2,361.2 117.8,360.1 118.3,359.2 C118.9,358.2 121.3,357.4 122.7,356.5 C124.0,355.6 124.9,354.5 126.3,354.0 C127.8,353.4 130.7,352.5 131.3,353.2Z" fill="#14327a" opacity="0.8" filter="url(#bl2)"/>
<path d="M127.8,356.3 C128.2,356.9 128.6,357.6 128.5,358.4 C128.3,359.2 127.6,360.4 126.9,361.3 C126.2,362.1 124.8,363.2 124.0,363.4 C123.2,363.6 122.7,362.7 122.1,362.5 C121.5,362.2 120.7,362.3 120.4,361.7 C120.0,361.2 119.7,360.1 120.1,359.3 C120.5,358.5 121.9,357.7 122.9,356.9 C123.9,356.2 125.2,355.0 126.0,354.9 C126.8,354.8 127.4,355.8 127.8,356.3Z" fill="#05070f" opacity="0.95" filter="url(#bl1)"/>
<path d="M80.0,329.0 C80.5,328.6 82.0,327.3 83.0,326.5 C84.0,325.7 84.8,325.3 86.0,324.0 C87.2,322.7 88.4,320.7 90.3,318.5 C92.2,316.3 95.2,313.1 97.2,310.7 C99.2,308.3 100.7,306.5 102.4,303.9 C104.1,301.3 105.5,297.9 107.5,295.3 C109.5,292.7 111.8,290.1 114.4,288.4 C117.0,286.7 120.1,286.3 123.0,284.9 C125.9,283.5 128.7,281.5 131.6,279.8 C134.5,278.1 137.4,276.3 140.3,274.6 C143.2,272.9 146.3,271.1 148.9,269.4 C151.5,267.7 153.7,266.0 155.7,264.3 C157.7,262.6 158.6,260.8 160.9,259.1 C163.2,257.4 166.9,255.6 169.5,253.9 C172.1,252.2 174.4,250.8 176.4,248.8 C178.4,246.8 180.0,244.0 181.6,241.9 C183.2,239.8 184.8,237.7 186.0,236.0 C187.2,234.3 188.5,232.7 189.0,232.0" fill="none" stroke="#2f8fd0" stroke-width="17" stroke-linejoin="round" filter="url(#bl1)"/>
<path d="M80.0,329.0 C80.5,328.6 82.0,327.3 83.0,326.5 C84.0,325.7 84.8,325.3 86.0,324.0 C87.2,322.7 88.4,320.7 90.3,318.5 C92.2,316.3 95.2,313.1 97.2,310.7 C99.2,308.3 100.7,306.5 102.4,303.9 C104.1,301.3 105.5,297.9 107.5,295.3 C109.5,292.7 111.8,290.1 114.4,288.4 C117.0,286.7 120.1,286.3 123.0,284.9 C125.9,283.5 128.7,281.5 131.6,279.8 C134.5,278.1 137.4,276.3 140.3,274.6 C143.2,272.9 146.3,271.1 148.9,269.4 C151.5,267.7 153.7,266.0 155.7,264.3 C157.7,262.6 158.6,260.8 160.9,259.1 C163.2,257.4 166.9,255.6 169.5,253.9 C172.1,252.2 174.4,250.8 176.4,248.8 C178.4,246.8 180.0,244.0 181.6,241.9 C183.2,239.8 184.8,237.7 186.0,236.0 C187.2,234.3 188.5,232.7 189.0,232.0" fill="none" stroke="#3fb58c" stroke-width="12.5" stroke-linejoin="round" filter="url(#bl1)"/>
<path d="M80.0,329.0 C80.5,328.6 82.0,327.3 83.0,326.5 C84.0,325.7 84.8,325.3 86.0,324.0 C87.2,322.7 88.4,320.7 90.3,318.5 C92.2,316.3 95.2,313.1 97.2,310.7 C99.2,308.3 100.7,306.5 102.4,303.9 C104.1,301.3 105.5,297.9 107.5,295.3 C109.5,292.7 111.8,290.1 114.4,288.4 C117.0,286.7 120.1,286.3 123.0,284.9 C125.9,283.5 128.7,281.5 131.6,279.8 C134.5,278.1 137.4,276.3 140.3,274.6 C143.2,272.9 146.3,271.1 148.9,269.4 C151.5,267.7 153.7,266.0 155.7,264.3 C157.7,262.6 158.6,260.8 160.9,259.1 C163.2,257.4 166.9,255.6 169.5,253.9 C172.1,252.2 174.4,250.8 176.4,248.8 C178.4,246.8 180.0,244.0 181.6,241.9 C183.2,239.8 184.8,237.7 186.0,236.0 C187.2,234.3 188.5,232.7 189.0,232.0" fill="none" stroke="#7fcf50" stroke-width="8" stroke-linejoin="round" filter="url(#bl1)"/>
<path d="M80.0,329.0 C80.5,328.6 82.0,327.3 83.0,326.5 C84.0,325.7 84.8,325.3 86.0,324.0 C87.2,322.7 88.4,320.7 90.3,318.5 C92.2,316.3 95.2,313.1 97.2,310.7 C99.2,308.3 100.7,306.5 102.4,303.9 C104.1,301.3 105.5,297.9 107.5,295.3 C109.5,292.7 111.8,290.1 114.4,288.4 C117.0,286.7 120.1,286.3 123.0,284.9 C125.9,283.5 128.7,281.5 131.6,279.8 C134.5,278.1 137.4,276.3 140.3,274.6 C143.2,272.9 146.3,271.1 148.9,269.4 C151.5,267.7 153.7,266.0 155.7,264.3 C157.7,262.6 158.6,260.8 160.9,259.1 C163.2,257.4 166.9,255.6 169.5,253.9 C172.1,252.2 174.4,250.8 176.4,248.8 C178.4,246.8 180.0,244.0 181.6,241.9 C183.2,239.8 184.8,237.7 186.0,236.0 C187.2,234.3 188.5,232.7 189.0,232.0" fill="none" stroke="#e6c72c" stroke-width="4.6" stroke-linejoin="round" filter="url(#bl1)"/>
<path d="M80.0,329.0 C80.5,328.6 82.0,327.3 83.0,326.5 C84.0,325.7 84.8,325.3 86.0,324.0 C87.2,322.7 88.4,320.7 90.3,318.5 C92.2,316.3 95.2,313.1 97.2,310.7 C99.2,308.3 100.7,306.5 102.4,303.9 C104.1,301.3 105.5,297.9 107.5,295.3 C109.5,292.7 111.8,290.1 114.4,288.4 C117.0,286.7 120.1,286.3 123.0,284.9 C125.9,283.5 128.7,281.5 131.6,279.8 C134.5,278.1 137.4,276.3 140.3,274.6 C143.2,272.9 146.3,271.1 148.9,269.4 C151.5,267.7 153.7,266.0 155.7,264.3 C157.7,262.6 158.6,260.8 160.9,259.1 C163.2,257.4 166.9,255.6 169.5,253.9 C172.1,252.2 174.4,250.8 176.4,248.8 C178.4,246.8 180.0,244.0 181.6,241.9 C183.2,239.8 184.8,237.7 186.0,236.0 C187.2,234.3 188.5,232.7 189.0,232.0" fill="none" stroke="#ec8522" stroke-width="2.6" stroke-linejoin="round" filter="url(#bl1)"/>
<path d="M139.0,384.0 C139.7,383.3 141.2,381.9 143.0,380.0 C144.8,378.1 147.3,375.0 150.0,372.3 C152.7,369.6 156.6,366.2 159.4,363.8 C162.2,361.4 164.4,360.4 166.9,358.2 C169.4,356.0 172.1,352.9 174.4,350.7 C176.8,348.5 178.8,347.3 181.0,345.1 C183.2,342.9 184.9,340.4 187.6,337.6 C190.2,334.8 193.8,331.3 196.9,328.2 C200.0,325.1 203.2,321.5 206.3,318.8 C209.4,316.1 212.6,314.7 215.7,312.2 C218.8,309.7 222.3,306.6 225.1,304.0 C227.9,301.4 230.4,298.8 232.6,296.5 C234.8,294.2 236.4,291.8 238.3,290.0 C240.2,288.2 242.1,287.2 244.0,285.5 C245.9,283.8 248.3,281.6 250.0,280.0 C251.7,278.4 253.3,276.7 254.0,276.0" fill="none" stroke="#2f8fd0" stroke-width="8" stroke-linejoin="round" filter="url(#bl1)"/>
<path d="M139.0,384.0 C139.7,383.3 141.2,381.9 143.0,380.0 C144.8,378.1 147.3,375.0 150.0,372.3 C152.7,369.6 156.6,366.2 159.4,363.8 C162.2,361.4 164.4,360.4 166.9,358.2 C169.4,356.0 172.1,352.9 174.4,350.7 C176.8,348.5 178.8,347.3 181.0,345.1 C183.2,342.9 184.9,340.4 187.6,337.6 C190.2,334.8 193.8,331.3 196.9,328.2 C200.0,325.1 203.2,321.5 206.3,318.8 C209.4,316.1 212.6,314.7 215.7,312.2 C218.8,309.7 222.3,306.6 225.1,304.0 C227.9,301.4 230.4,298.8 232.6,296.5 C234.8,294.2 236.4,291.8 238.3,290.0 C240.2,288.2 242.1,287.2 244.0,285.5 C245.9,283.8 248.3,281.6 250.0,280.0 C251.7,278.4 253.3,276.7 254.0,276.0" fill="none" stroke="#5fc070" stroke-width="5.5" stroke-linejoin="round" filter="url(#bl1)"/>
<path d="M139.0,384.0 C139.7,383.3 141.2,381.9 143.0,380.0 C144.8,378.1 147.3,375.0 150.0,372.3 C152.7,369.6 156.6,366.2 159.4,363.8 C162.2,361.4 164.4,360.4 166.9,358.2 C169.4,356.0 172.1,352.9 174.4,350.7 C176.8,348.5 178.8,347.3 181.0,345.1 C183.2,342.9 184.9,340.4 187.6,337.6 C190.2,334.8 193.8,331.3 196.9,328.2 C200.0,325.1 203.2,321.5 206.3,318.8 C209.4,316.1 212.6,314.7 215.7,312.2 C218.8,309.7 222.3,306.6 225.1,304.0 C227.9,301.4 230.4,298.8 232.6,296.5 C234.8,294.2 236.4,291.8 238.3,290.0 C240.2,288.2 242.1,287.2 244.0,285.5 C245.9,283.8 248.3,281.6 250.0,280.0 C251.7,278.4 253.3,276.7 254.0,276.0" fill="none" stroke="#e9d030" stroke-width="3.6" stroke-linejoin="round" filter="url(#bl1)"/>
<path d="M139.0,384.0 C139.7,383.3 141.2,381.9 143.0,380.0 C144.8,378.1 147.3,375.0 150.0,372.3 C152.7,369.6 156.6,366.2 159.4,363.8 C162.2,361.4 164.4,360.4 166.9,358.2 C169.4,356.0 172.1,352.9 174.4,350.7 C176.8,348.5 178.8,347.3 181.0,345.1 C183.2,342.9 184.9,340.4 187.6,337.6 C190.2,334.8 193.8,331.3 196.9,328.2 C200.0,325.1 203.2,321.5 206.3,318.8 C209.4,316.1 212.6,314.7 215.7,312.2 C218.8,309.7 222.3,306.6 225.1,304.0 C227.9,301.4 230.4,298.8 232.6,296.5 C234.8,294.2 236.4,291.8 238.3,290.0 C240.2,288.2 242.1,287.2 244.0,285.5 C245.9,283.8 248.3,281.6 250.0,280.0 C251.7,278.4 253.3,276.7 254.0,276.0" fill="none" stroke="#ee8c22" stroke-width="2.0" stroke-linejoin="round" filter="url(#bl1)"/>
<path d="M80.0,329.0 C80.5,328.6 82.0,327.3 83.0,326.5 C84.0,325.7 84.8,325.3 86.0,324.0 C87.2,322.7 88.4,320.7 90.3,318.5 C92.2,316.3 95.2,313.1 97.2,310.7 C99.2,308.3 100.7,306.5 102.4,303.9 C104.1,301.3 105.5,297.9 107.5,295.3 C109.5,292.7 111.8,290.1 114.4,288.4 C117.0,286.7 120.1,286.3 123.0,284.9 C125.9,283.5 128.7,281.5 131.6,279.8 C134.5,278.1 137.4,276.3 140.3,274.6 C143.2,272.9 146.3,271.1 148.9,269.4 C151.5,267.7 153.7,266.0 155.7,264.3 C157.7,262.6 158.6,260.8 160.9,259.1 C163.2,257.4 166.9,255.6 169.5,253.9 C172.1,252.2 174.4,250.8 176.4,248.8 C178.4,246.8 180.0,244.0 181.6,241.9 C183.2,239.8 184.8,237.7 186.0,236.0 C187.2,234.3 188.5,232.7 189.0,232.0 L167.7,223.6 L60.1,305.0 Z" fill="#b4412a"/>
<path d="M139.0,384.0 C139.7,383.3 141.2,381.9 143.0,380.0 C144.8,378.1 147.3,375.0 150.0,372.3 C152.7,369.6 156.6,366.2 159.4,363.8 C162.2,361.4 164.4,360.4 166.9,358.2 C169.4,356.0 172.1,352.9 174.4,350.7 C176.8,348.5 178.8,347.3 181.0,345.1 C183.2,342.9 184.9,340.4 187.6,337.6 C190.2,334.8 193.8,331.3 196.9,328.2 C200.0,325.1 203.2,321.5 206.3,318.8 C209.4,316.1 212.6,314.7 215.7,312.2 C218.8,309.7 222.3,306.6 225.1,304.0 C227.9,301.4 230.4,298.8 232.6,296.5 C234.8,294.2 236.4,291.8 238.3,290.0 C240.2,288.2 242.1,287.2 244.0,285.5 C245.9,283.8 248.3,281.6 250.0,280.0 C251.7,278.4 253.3,276.7 254.0,276.0 L262.0,290.0 L156.5,391.0 Z" fill="#b4412a"/>
<polygon points="76.7,315.5 175.4,232.7 168.7,224.6 62.1,306.0" fill="#cf9a8c" opacity="0.7" filter="url(#bl2)"/>
<polygon points="150.6,379.6 251.3,282.9 261.0,289.0 156.5,389.0" fill="#cf9a8c" opacity="0.7" filter="url(#bl2)"/>
<g filter="url(#speck)"><path d="M80.0,329.0 C80.5,328.6 82.0,327.3 83.0,326.5 C84.0,325.7 84.8,325.3 86.0,324.0 C87.2,322.7 88.4,320.7 90.3,318.5 C92.2,316.3 95.2,313.1 97.2,310.7 C99.2,308.3 100.7,306.5 102.4,303.9 C104.1,301.3 105.5,297.9 107.5,295.3 C109.5,292.7 111.8,290.1 114.4,288.4 C117.0,286.7 120.1,286.3 123.0,284.9 C125.9,283.5 128.7,281.5 131.6,279.8 C134.5,278.1 137.4,276.3 140.3,274.6 C143.2,272.9 146.3,271.1 148.9,269.4 C151.5,267.7 153.7,266.0 155.7,264.3 C157.7,262.6 158.6,260.8 160.9,259.1 C163.2,257.4 166.9,255.6 169.5,253.9 C172.1,252.2 174.4,250.8 176.4,248.8 C178.4,246.8 180.0,244.0 181.6,241.9 C183.2,239.8 184.8,237.7 186.0,236.0 C187.2,234.3 188.5,232.7 189.0,232.0 L167.7,223.6 L60.1,305.0 Z" fill="#fff"/><path d="M139.0,384.0 C139.7,383.3 141.2,381.9 143.0,380.0 C144.8,378.1 147.3,375.0 150.0,372.3 C152.7,369.6 156.6,366.2 159.4,363.8 C162.2,361.4 164.4,360.4 166.9,358.2 C169.4,356.0 172.1,352.9 174.4,350.7 C176.8,348.5 178.8,347.3 181.0,345.1 C183.2,342.9 184.9,340.4 187.6,337.6 C190.2,334.8 193.8,331.3 196.9,328.2 C200.0,325.1 203.2,321.5 206.3,318.8 C209.4,316.1 212.6,314.7 215.7,312.2 C218.8,309.7 222.3,306.6 225.1,304.0 C227.9,301.4 230.4,298.8 232.6,296.5 C234.8,294.2 236.4,291.8 238.3,290.0 C240.2,288.2 242.1,287.2 244.0,285.5 C245.9,283.8 248.3,281.6 250.0,280.0 C251.7,278.4 253.3,276.7 254.0,276.0 L262.0,290.0 L156.5,391.0 Z" fill="#fff"/></g>
<g filter="url(#speckd)"><path d="M80.0,329.0 C80.5,328.6 82.0,327.3 83.0,326.5 C84.0,325.7 84.8,325.3 86.0,324.0 C87.2,322.7 88.4,320.7 90.3,318.5 C92.2,316.3 95.2,313.1 97.2,310.7 C99.2,308.3 100.7,306.5 102.4,303.9 C104.1,301.3 105.5,297.9 107.5,295.3 C109.5,292.7 111.8,290.1 114.4,288.4 C117.0,286.7 120.1,286.3 123.0,284.9 C125.9,283.5 128.7,281.5 131.6,279.8 C134.5,278.1 137.4,276.3 140.3,274.6 C143.2,272.9 146.3,271.1 148.9,269.4 C151.5,267.7 153.7,266.0 155.7,264.3 C157.7,262.6 158.6,260.8 160.9,259.1 C163.2,257.4 166.9,255.6 169.5,253.9 C172.1,252.2 174.4,250.8 176.4,248.8 C178.4,246.8 180.0,244.0 181.6,241.9 C183.2,239.8 184.8,237.7 186.0,236.0 C187.2,234.3 188.5,232.7 189.0,232.0 L167.7,223.6 L60.1,305.0 Z" fill="#fff"/><path d="M139.0,384.0 C139.7,383.3 141.2,381.9 143.0,380.0 C144.8,378.1 147.3,375.0 150.0,372.3 C152.7,369.6 156.6,366.2 159.4,363.8 C162.2,361.4 164.4,360.4 166.9,358.2 C169.4,356.0 172.1,352.9 174.4,350.7 C176.8,348.5 178.8,347.3 181.0,345.1 C183.2,342.9 184.9,340.4 187.6,337.6 C190.2,334.8 193.8,331.3 196.9,328.2 C200.0,325.1 203.2,321.5 206.3,318.8 C209.4,316.1 212.6,314.7 215.7,312.2 C218.8,309.7 222.3,306.6 225.1,304.0 C227.9,301.4 230.4,298.8 232.6,296.5 C234.8,294.2 236.4,291.8 238.3,290.0 C240.2,288.2 242.1,287.2 244.0,285.5 C245.9,283.8 248.3,281.6 250.0,280.0 C251.7,278.4 253.3,276.7 254.0,276.0 L262.0,290.0 L156.5,391.0 Z" fill="#fff"/></g>
</g></g>
<polyline points="68.9,317.5 154.8,392.3 256.0,296.0" fill="none" stroke="#222" stroke-width="0.8"/>
<line x1="68.3" y1="308.0" x2="68.9" y2="317.5" stroke="#222" stroke-width="0.7"/>
<line x1="256.0" y1="285.0" x2="256.0" y2="296.0" stroke="#777" stroke-width="0.5"/>
<line x1="185.2" y1="363.4" x2="183.0" y2="361.3" stroke="#222" stroke-width="0.6"/>
<line x1="214.5" y1="335.5" x2="212.4" y2="333.4" stroke="#222" stroke-width="0.6"/>
<line x1="243.3" y1="308.0" x2="241.2" y2="305.9" stroke="#222" stroke-width="0.6"/>
<line x1="97.2" y1="342.2" x2="99.4" y2="340.1" stroke="#222" stroke-width="0.6"/>
<line x1="126.0" y1="367.2" x2="128.1" y2="365.1" stroke="#222" stroke-width="0.6"/>
<text x="62.5" y="312.0" font-size="9.8" text-anchor="middle" fill="#1e1e1e" stroke="#1e1e1e" stroke-width="0.22">0</text>
<text x="66.0" y="322.3" font-size="9.8" text-anchor="end" fill="#1e1e1e" stroke="#1e1e1e" stroke-width="0.22">450</text>
<text x="86.0" y="345.8" font-size="9.8" text-anchor="middle" fill="#1e1e1e" stroke="#1e1e1e" stroke-width="0.22">4</text>
<text x="116.0" y="372.0" font-size="9.8" text-anchor="middle" fill="#1e1e1e" stroke="#1e1e1e" stroke-width="0.22">2</text>
<text x="150.0" y="401.9" font-size="9.8" text-anchor="middle" fill="#1e1e1e" stroke="#1e1e1e" stroke-width="0.22">0</text>
<text x="159.0" y="401.9" font-size="9.8" text-anchor="middle" fill="#1e1e1e" stroke="#1e1e1e" stroke-width="0.22">0</text>
<text x="190.4" y="369.2" font-size="9.8" text-anchor="middle" fill="#1e1e1e" stroke="#1e1e1e" stroke-width="0.22">2</text>
<text x="220.4" y="342.0" font-size="9.8" text-anchor="middle" fill="#1e1e1e" stroke="#1e1e1e" stroke-width="0.22">4</text>
<text x="246.7" y="315.7" font-size="9.8" text-anchor="middle" fill="#1e1e1e" stroke="#1e1e1e" stroke-width="0.22">6</text>
<text x="88.8" y="371.1" font-size="9.8" text-anchor="middle" fill="#1e1e1e" stroke="#1e1e1e" stroke-width="0.22" transform="rotate(42 88.8 367.6)">Width (mm)</text>
<text x="217.6" y="367.3" font-size="9.8" text-anchor="middle" fill="#1e1e1e" stroke="#1e1e1e" stroke-width="0.22" transform="rotate(-43.5 217.6 363.8)">Length (mm)</text>
<text x="35.6" y="317.9" font-size="9.8" text-anchor="middle" fill="#1e1e1e" stroke="#1e1e1e" stroke-width="0.22" transform="rotate(-90 35.6 314.4)">Depth (µm)</text>
<text x="104.3" y="247.9" font-size="9.8" text-anchor="middle" fill="#1e1e1e" stroke="#1e1e1e" stroke-width="0.22">Unstable</text>
<text x="103.6" y="258.2" font-size="9.8" text-anchor="middle" fill="#1e1e1e" stroke="#1e1e1e" stroke-width="0.22">pressure</text>
<line x1="100.1" y1="262.3" x2="114.4" y2="291.6" stroke="#e59450" stroke-width="0.9"/>
<polygon points="117.0,297.0 112.3,292.6 116.4,290.6" fill="#e59450"/>
<text x="236.9" y="239.1" font-size="9.8" text-anchor="middle" fill="#1e1e1e" stroke="#1e1e1e" stroke-width="0.22">Top coat</text>
<text x="237.7" y="249.4" font-size="9.8" text-anchor="middle" fill="#1e1e1e" stroke="#1e1e1e" stroke-width="0.22">residuals</text>
<line x1="232.6" y1="253.8" x2="191.3" y2="305.4" stroke="#e59450" stroke-width="0.9"/>
<polygon points="187.6,310.1 189.5,304.0 193.1,306.8" fill="#e59450"/>
<ellipse cx="133.5" cy="337.5" rx="48" ry="23" transform="rotate(33 133.5 337)" fill="none" stroke="#e59450" stroke-width="0.9" stroke-dasharray="3.4 2.4"/>
<text x="167.8" y="427.8" font-size="9.8" text-anchor="middle" fill="#1e1e1e" stroke="#1e1e1e" stroke-width="0.22">(c)</text>
<polygon points="508.0,229.5 598.0,287.7 598.0,297.3 508.0,239.1" fill="#efefef"/>
<line x1="508.0" y1="229.5" x2="598.0" y2="287.7" stroke="#bdbdbd" stroke-width="0.6"/>
<line x1="535.0" y1="247.0" x2="535.0" y2="254.6" stroke="#d2d2d2" stroke-width="0.5"/>
<line x1="561.1" y1="263.8" x2="561.1" y2="271.4" stroke="#d2d2d2" stroke-width="0.5"/>
<line x1="586.8" y1="280.4" x2="586.8" y2="288.0" stroke="#d2d2d2" stroke-width="0.5"/>
<polygon points="413.1,304.6 503.8,381.5 504.1,389.9 413.9,312.6" fill="#e6e6e6"/>
<polygon points="503.8,381.5 598.0,288.5 598.0,299.0 504.1,389.9" fill="#f3f3f3"/>
<g filter="url(#rough)"><g clip-path="url(#clipd)">
<polygon points="413.1,304.6 427.2,316.5 432.1,327.5 494.7,380.6 497.9,376.5 503.8,381.5 598.0,288.5 587.2,281.5 583.6,286.0 523.3,247.0 518.8,237.3 508.0,230.3" fill="#193ea2"/>
<path d="M476.8,295.2 C477.3,295.6 477.4,296.7 477.0,297.7 C476.6,298.6 475.4,300.1 474.4,300.9 C473.4,301.7 472.1,302.1 471.0,302.6 C469.8,303.2 468.0,304.2 467.3,304.1 C466.6,303.9 466.7,302.7 466.8,301.9 C466.8,301.1 467.2,300.0 467.9,299.2 C468.6,298.3 469.8,297.2 470.9,296.5 C471.9,295.9 473.1,295.4 474.1,295.2 C475.1,294.9 476.3,294.8 476.8,295.2Z" fill="#2670c8" opacity="0.7" filter="url(#bl1)"/>
<path d="M545.9,278.5 C546.6,278.9 547.3,279.9 546.8,280.9 C546.3,281.9 544.1,283.4 542.9,284.4 C541.8,285.4 541.0,286.6 540.0,287.1 C539.1,287.6 537.8,287.8 537.3,287.6 C536.8,287.4 536.9,286.4 536.9,285.8 C536.9,285.1 536.8,284.4 537.3,283.6 C537.8,282.7 538.7,281.4 539.6,280.6 C540.6,279.8 541.9,279.2 543.0,278.8 C544.0,278.5 545.3,278.2 545.9,278.5Z" fill="#2670c8" opacity="0.7" filter="url(#bl1)"/>
<path d="M527.5,291.4 C527.7,292.0 527.1,293.2 526.7,294.2 C526.3,295.3 525.9,296.5 525.0,297.7 C524.1,299.0 522.6,300.7 521.3,301.9 C520.0,303.1 518.3,304.6 517.3,305.0 C516.3,305.4 515.1,305.3 515.4,304.3 C515.8,303.3 518.2,300.6 519.2,298.9 C520.3,297.2 520.4,295.5 521.5,294.1 C522.6,292.7 525.0,291.1 526.0,290.6 C527.0,290.2 527.4,290.8 527.5,291.4Z" fill="#2670c8" opacity="0.7" filter="url(#bl1)"/>
<path d="M575.3,275.4 C575.6,276.0 576.0,276.6 575.6,277.5 C575.2,278.4 573.8,279.7 572.8,280.7 C571.7,281.8 570.3,283.0 569.2,283.7 C568.0,284.3 566.5,284.8 565.7,284.8 C564.9,284.7 564.3,284.2 564.3,283.4 C564.3,282.6 564.6,281.2 565.5,280.1 C566.4,279.1 568.3,278.1 569.7,277.1 C571.0,276.1 572.7,274.6 573.7,274.3 C574.6,274.0 575.0,274.9 575.3,275.4Z" fill="#2670c8" opacity="0.7" filter="url(#bl1)"/>
<path d="M473.9,327.0 C474.1,327.5 474.9,327.3 474.6,328.1 C474.4,328.9 473.3,330.6 472.3,331.8 C471.4,333.0 469.7,334.8 468.8,335.5 C467.8,336.2 467.5,335.6 466.7,335.8 C465.8,336.1 463.9,337.3 463.8,336.8 C463.8,336.3 465.4,334.0 466.3,332.8 C467.2,331.5 468.1,330.5 469.3,329.2 C470.5,327.9 472.8,325.2 473.5,324.8 C474.3,324.4 473.7,326.4 473.9,327.0Z" fill="#2670c8" opacity="0.7" filter="url(#bl1)"/>
<path d="M515.5,286.1 C515.7,286.7 516.2,286.9 515.9,287.8 C515.5,288.7 514.3,290.3 513.3,291.6 C512.3,292.9 511.3,294.4 510.0,295.6 C508.7,296.9 506.5,299.0 505.6,299.3 C504.7,299.6 504.5,298.4 504.8,297.3 C505.1,296.2 506.4,294.3 507.4,292.9 C508.3,291.5 509.2,290.3 510.4,289.0 C511.6,287.6 513.6,285.1 514.5,284.6 C515.3,284.1 515.2,285.6 515.5,286.1Z" fill="#2670c8" opacity="0.7" filter="url(#bl1)"/>
<path d="M549.1,260.0 C549.7,260.4 550.9,260.6 550.6,261.5 C550.3,262.5 548.3,264.3 547.3,265.5 C546.4,266.7 545.7,267.9 544.7,268.7 C543.7,269.5 542.4,270.3 541.5,270.5 C540.6,270.7 539.3,270.7 539.2,269.9 C539.0,269.1 540.1,267.1 540.8,265.8 C541.6,264.6 542.7,263.3 543.8,262.3 C544.8,261.2 546.2,259.8 547.1,259.4 C548.0,259.1 548.5,259.7 549.1,260.0Z" fill="#2670c8" opacity="0.7" filter="url(#bl1)"/>
<path d="M518.9,330.6 C519.0,331.2 518.2,332.3 517.6,333.3 C517.0,334.3 516.7,335.4 515.4,336.7 C514.1,338.0 511.5,339.9 509.5,341.1 C507.5,342.3 504.5,343.8 503.5,343.8 C502.6,343.8 502.9,342.1 503.7,340.9 C504.5,339.7 506.8,337.9 508.2,336.5 C509.6,335.0 510.6,333.4 512.1,332.3 C513.6,331.2 515.9,330.2 517.1,330.0 C518.2,329.7 518.9,330.1 518.9,330.6Z" fill="#2670c8" opacity="0.7" filter="url(#bl1)"/>
<path d="M475.5,309.1 C476.2,309.3 476.0,311.1 475.2,312.5 C474.4,313.8 472.2,315.7 470.7,317.2 C469.2,318.7 467.9,320.3 466.3,321.4 C464.6,322.6 461.8,324.3 460.9,324.1 C460.1,324.0 460.7,321.9 461.1,320.7 C461.6,319.5 462.5,318.1 463.5,316.9 C464.5,315.7 465.9,314.4 467.1,313.5 C468.3,312.5 469.4,311.9 470.8,311.2 C472.2,310.5 474.7,308.9 475.5,309.1Z" fill="#2670c8" opacity="0.7" filter="url(#bl1)"/>
<path d="M536.4,321.1 C536.8,321.6 535.5,323.5 534.7,324.9 C533.9,326.2 533.3,327.7 531.8,329.1 C530.4,330.4 527.3,332.5 525.9,332.9 C524.6,333.4 524.1,332.3 523.5,331.9 C523.0,331.4 522.7,331.1 522.7,330.5 C522.8,329.8 523.0,329.0 523.8,327.8 C524.6,326.5 526.0,324.0 527.4,323.0 C528.8,322.0 530.7,322.2 532.2,321.9 C533.7,321.6 536.0,320.6 536.4,321.1Z" fill="#2670c8" opacity="0.7" filter="url(#bl1)"/>
<path d="M550.9,279.3 C551.5,279.6 552.4,280.1 551.8,281.2 C551.2,282.4 548.9,284.6 547.2,286.2 C545.4,287.7 542.7,290.0 541.3,290.7 C539.8,291.4 539.1,290.6 538.5,290.3 C537.9,290.0 537.7,289.6 537.7,288.9 C537.7,288.2 537.6,287.3 538.6,286.1 C539.6,284.9 541.9,282.7 543.4,281.6 C545.0,280.6 546.7,280.0 548.0,279.6 C549.2,279.2 550.2,279.0 550.9,279.3Z" fill="#2670c8" opacity="0.7" filter="url(#bl1)"/>
<path d="M500.5,333.0 C500.5,333.7 499.2,335.7 498.3,337.1 C497.5,338.5 496.7,339.6 495.4,341.3 C494.0,343.0 491.8,346.1 490.3,347.5 C488.8,348.8 487.1,349.2 486.4,349.1 C485.8,349.0 486.4,347.7 486.4,346.9 C486.4,346.1 485.3,345.6 486.3,344.2 C487.3,342.8 490.5,340.2 492.5,338.4 C494.4,336.6 496.6,334.0 498.0,333.1 C499.3,332.2 500.4,332.3 500.5,333.0Z" fill="#2670c8" opacity="0.7" filter="url(#bl1)"/>
<path d="M549.6,300.3 C550.3,300.6 551.8,300.7 551.8,301.5 C551.9,302.3 550.6,304.0 549.8,305.1 C549.0,306.3 548.1,307.8 547.1,308.5 C546.1,309.2 544.5,309.6 543.6,309.4 C542.8,309.2 541.9,308.3 541.9,307.4 C541.9,306.5 543.2,305.1 543.6,304.0 C544.1,302.9 544.1,301.6 544.8,301.0 C545.4,300.3 546.8,300.0 547.6,299.8 C548.4,299.7 548.9,300.0 549.6,300.3Z" fill="#2670c8" opacity="0.7" filter="url(#bl1)"/>
<path d="M492.5,325.6 C493.4,325.8 494.4,326.7 493.8,328.1 C493.3,329.4 490.9,332.0 489.2,333.8 C487.5,335.6 485.3,338.1 483.7,339.0 C482.1,340.0 480.8,339.6 479.6,339.7 C478.3,339.7 476.0,340.4 475.9,339.4 C475.8,338.4 477.7,335.5 479.1,333.8 C480.5,332.0 482.7,330.0 484.2,328.8 C485.8,327.7 487.1,327.4 488.5,326.9 C489.9,326.3 491.6,325.4 492.5,325.6Z" fill="#2670c8" opacity="0.7" filter="url(#bl1)"/>
<path d="M571.6,283.7 C571.7,284.2 570.5,285.6 569.9,286.3 C569.4,287.1 569.0,287.6 568.4,288.2 C567.8,288.8 567.0,289.4 566.1,289.9 C565.2,290.5 563.6,291.6 563.0,291.5 C562.5,291.5 562.9,290.5 562.9,289.8 C562.9,289.2 562.6,288.7 563.2,287.8 C563.7,287.0 565.2,285.5 566.3,284.8 C567.3,284.1 568.6,283.8 569.5,283.6 C570.4,283.4 571.5,283.3 571.6,283.7Z" fill="#2670c8" opacity="0.7" filter="url(#bl1)"/>
<path d="M493.4,288.5 C494.0,289.1 495.0,289.2 495.0,290.1 C495.0,291.1 494.3,293.0 493.4,294.2 C492.6,295.4 491.0,296.5 489.9,297.2 C488.8,297.9 487.8,298.4 486.8,298.5 C485.9,298.6 484.7,298.6 484.4,297.8 C484.2,297.1 484.5,295.4 485.1,294.0 C485.7,292.7 486.8,291.1 487.9,289.8 C489.0,288.6 490.9,286.8 491.8,286.6 C492.7,286.4 492.9,288.0 493.4,288.5Z" fill="#2670c8" opacity="0.7" filter="url(#bl1)"/>
<path d="M491.9,339.2 C492.6,339.6 493.5,340.5 492.9,341.7 C492.3,342.9 489.8,345.4 488.2,346.6 C486.6,347.9 485.1,348.0 483.2,349.0 C481.4,350.0 478.2,352.6 477.2,352.6 C476.3,352.6 476.8,350.5 477.4,349.3 C477.9,348.1 479.5,346.6 480.6,345.4 C481.7,344.1 482.7,342.8 484.0,341.9 C485.3,340.9 487.0,340.1 488.3,339.7 C489.6,339.2 491.1,338.9 491.9,339.2Z" fill="#2670c8" opacity="0.7" filter="url(#bl1)"/>
<path d="M457.3,313.0 C457.9,313.2 456.8,315.5 456.0,316.7 C455.3,318.0 454.1,319.3 453.0,320.4 C451.9,321.6 450.4,322.9 449.3,323.6 C448.2,324.2 447.2,324.2 446.3,324.3 C445.3,324.3 443.8,324.7 443.6,324.0 C443.4,323.3 443.9,321.4 444.9,320.2 C445.9,319.0 448.3,317.7 449.6,316.9 C450.8,316.1 451.3,316.1 452.6,315.4 C453.9,314.8 456.8,312.7 457.3,313.0Z" fill="#2670c8" opacity="0.7" filter="url(#bl1)"/>
<path d="M542.8,262.0 C542.9,262.5 540.0,266.3 539.2,268.0 C538.4,269.6 539.0,270.4 537.8,272.1 C536.7,273.8 533.9,276.5 532.1,278.1 C530.3,279.6 528.0,281.3 527.2,281.4 C526.4,281.4 526.8,279.8 527.2,278.5 C527.6,277.3 528.8,275.4 529.9,273.9 C531.0,272.4 532.4,271.1 533.8,269.5 C535.2,268.0 536.8,266.0 538.3,264.7 C539.8,263.4 542.6,261.5 542.8,262.0Z" fill="#2670c8" opacity="0.7" filter="url(#bl1)"/>
<path d="M567.5,265.3 C567.6,265.8 566.0,267.8 565.2,269.0 C564.4,270.2 563.8,271.4 562.7,272.4 C561.6,273.5 559.7,274.6 558.5,275.3 C557.3,276.0 556.0,276.7 555.4,276.7 C554.9,276.6 555.3,275.7 555.4,275.1 C555.5,274.4 555.3,273.9 556.0,272.9 C556.7,271.8 558.3,269.8 559.7,268.6 C561.1,267.4 563.2,266.3 564.5,265.7 C565.8,265.2 567.4,264.8 567.5,265.3Z" fill="#2670c8" opacity="0.7" filter="url(#bl1)"/>
<path d="M538.9,285.8 C539.3,286.3 538.1,288.7 537.6,290.0 C537.0,291.4 536.6,292.7 535.7,293.8 C534.8,295.0 533.5,295.8 532.3,296.7 C531.2,297.7 529.8,299.1 528.8,299.5 C527.8,299.8 526.4,299.9 526.4,299.0 C526.3,298.2 527.6,296.0 528.5,294.5 C529.3,293.0 530.3,291.4 531.4,290.1 C532.6,288.8 534.2,287.5 535.5,286.7 C536.7,286.0 538.6,285.2 538.9,285.8Z" fill="#2670c8" opacity="0.7" filter="url(#bl1)"/>
<path d="M535.9,255.7 C536.5,256.0 537.1,256.8 536.4,257.8 C535.7,258.8 533.2,260.6 531.8,261.7 C530.4,262.8 529.5,263.6 528.2,264.4 C526.8,265.2 524.7,266.5 523.9,266.6 C523.0,266.7 522.7,265.8 523.0,265.0 C523.3,264.1 524.6,262.6 525.6,261.5 C526.6,260.3 528.0,259.1 529.2,258.2 C530.4,257.3 531.9,256.5 533.0,256.1 C534.2,255.7 535.4,255.5 535.9,255.7Z" fill="#2670c8" opacity="0.7" filter="url(#bl1)"/>
<path d="M559.6,292.8 C560.0,293.2 559.8,294.5 559.7,295.5 C559.5,296.6 559.5,298.0 558.7,299.1 C558.0,300.3 556.2,302.0 555.2,302.5 C554.2,303.0 553.2,302.6 552.5,302.3 C551.9,302.0 551.4,301.6 551.4,300.9 C551.3,300.2 551.8,299.2 552.2,298.2 C552.6,297.3 552.9,295.9 553.7,295.1 C554.5,294.2 555.8,293.4 556.8,293.0 C557.8,292.6 559.1,292.4 559.6,292.8Z" fill="#2670c8" opacity="0.7" filter="url(#bl1)"/>
<path d="M525.1,272.6 C525.4,273.2 524.5,274.6 524.0,275.8 C523.5,277.1 523.3,278.6 522.1,280.0 C520.8,281.5 517.7,284.1 516.3,284.8 C514.9,285.5 514.2,284.5 513.5,284.2 C512.8,284.0 512.1,283.9 512.0,283.2 C511.8,282.5 511.9,281.2 512.8,279.9 C513.8,278.7 516.0,277.0 517.6,275.8 C519.2,274.5 521.1,272.9 522.4,272.4 C523.6,271.8 524.8,272.0 525.1,272.6Z" fill="#2670c8" opacity="0.7" filter="url(#bl1)"/>
<path d="M558.6,274.0 C558.9,274.6 559.4,275.3 558.9,276.3 C558.3,277.4 556.5,279.2 555.4,280.4 C554.3,281.6 553.5,282.4 552.2,283.6 C550.8,284.8 548.0,287.4 547.3,287.5 C546.6,287.6 547.6,285.1 547.9,284.0 C548.2,282.9 548.1,282.2 548.8,281.0 C549.5,279.8 550.7,278.1 552.1,276.7 C553.5,275.3 555.9,272.9 557.0,272.5 C558.1,272.0 558.3,273.4 558.6,274.0Z" fill="#2670c8" opacity="0.7" filter="url(#bl1)"/>
<path d="M536.8,284.2 C537.1,284.4 537.5,284.9 537.0,285.8 C536.5,286.6 535.0,288.2 533.7,289.4 C532.4,290.6 530.3,292.3 529.1,293.0 C527.9,293.7 527.4,293.3 526.3,293.6 C525.2,293.9 522.2,295.3 522.3,294.7 C522.4,294.1 525.3,291.4 526.8,289.9 C528.2,288.4 529.7,286.6 531.0,285.6 C532.4,284.7 533.9,284.5 534.8,284.2 C535.8,284.0 536.4,283.9 536.8,284.2Z" fill="#2670c8" opacity="0.7" filter="url(#bl1)"/>
<path d="M508.2,325.5 C508.9,326.5 508.9,328.6 508.1,330.4 C507.2,332.2 504.7,334.3 502.9,336.3 C501.2,338.3 499.6,341.0 497.5,342.6 C495.5,344.1 492.4,345.3 490.6,345.4 C488.9,345.5 487.1,344.6 487.0,342.9 C486.9,341.3 488.4,338.2 490.0,335.8 C491.5,333.3 494.1,330.1 496.4,328.3 C498.8,326.4 501.9,324.9 503.9,324.5 C505.9,324.0 507.5,324.6 508.2,325.5Z" fill="#34bfae" opacity="0.95" filter="url(#bl1)"/>
<path d="M517.1,322.9 C517.6,323.6 516.8,325.6 516.3,327.1 C515.7,328.5 514.8,330.2 513.6,331.6 C512.4,332.9 510.6,334.1 509.1,335.0 C507.5,336.0 505.3,337.3 504.3,337.2 C503.3,337.1 503.2,335.6 503.2,334.5 C503.1,333.4 503.3,332.1 504.1,330.5 C504.9,328.9 506.4,326.4 507.9,325.1 C509.4,323.8 511.7,323.1 513.3,322.7 C514.8,322.3 516.6,322.2 517.1,322.9Z" fill="#3cc58c" opacity="0.95" filter="url(#bl1)"/>
<path d="M496.9,334.6 C497.4,335.4 497.4,336.5 497.1,337.8 C496.9,339.1 496.3,340.9 495.2,342.3 C494.1,343.7 492.1,345.3 490.5,346.2 C488.9,347.1 486.5,348.2 485.6,347.8 C484.7,347.4 485.3,345.2 485.3,344.0 C485.4,342.8 485.2,341.8 485.9,340.5 C486.5,339.2 487.9,337.4 489.2,336.2 C490.6,335.0 492.8,333.4 494.1,333.1 C495.4,332.8 496.4,333.8 496.9,334.6Z" fill="#36b4c4" opacity="0.95" filter="url(#bl1)"/>
<path d="M512.4,294.7 C512.8,295.1 511.5,297.2 511.0,298.6 C510.5,300.0 510.4,301.9 509.3,303.1 C508.1,304.4 505.6,305.2 504.0,306.2 C502.3,307.2 500.7,308.6 499.2,309.1 C497.8,309.5 495.6,309.9 495.5,308.9 C495.3,307.9 496.8,305.2 498.2,303.3 C499.6,301.3 502.0,298.4 503.8,297.2 C505.5,295.9 507.1,296.2 508.5,295.8 C509.9,295.4 512.0,294.2 512.4,294.7Z" fill="#36b4c4" opacity="0.95" filter="url(#bl1)"/>
<path d="M516.1,293.3 C516.5,293.7 516.6,294.2 516.6,295.0 C516.6,295.7 516.9,296.9 516.2,298.0 C515.5,299.0 513.8,300.6 512.5,301.3 C511.3,302.0 509.4,302.6 508.7,302.3 C508.0,301.9 508.4,300.4 508.4,299.4 C508.3,298.5 508.0,297.7 508.5,296.6 C509.0,295.5 510.4,293.6 511.4,293.0 C512.4,292.4 513.7,292.9 514.5,292.9 C515.2,293.0 515.8,293.0 516.1,293.3Z" fill="#3cc3a0" opacity="0.95" filter="url(#bl1)"/>
<path d="M546.2,296.8 C546.7,297.5 547.5,298.2 546.9,299.4 C546.3,300.7 544.1,302.9 542.7,304.4 C541.3,305.8 539.4,307.7 538.3,308.3 C537.1,309.0 536.4,308.3 535.7,308.1 C535.0,308.0 534.0,308.1 534.0,307.4 C533.9,306.8 534.7,305.4 535.4,304.2 C536.2,302.9 537.1,301.4 538.5,299.9 C539.9,298.5 542.7,296.0 544.0,295.5 C545.2,295.0 545.7,296.2 546.2,296.8Z" fill="#3cc58c" opacity="0.95" filter="url(#bl1)"/>
<path d="M550.4,278.6 C550.8,279.3 550.8,280.4 550.3,281.6 C549.7,282.8 548.3,284.5 547.1,285.6 C546.0,286.7 544.8,287.4 543.5,288.2 C542.3,289.0 540.6,290.2 539.7,290.4 C538.8,290.5 538.2,289.7 538.2,288.8 C538.2,288.0 539.1,286.3 540.0,285.2 C540.8,284.0 542.0,283.3 543.4,282.0 C544.7,280.7 546.8,277.9 548.0,277.3 C549.2,276.7 550.0,277.8 550.4,278.6Z" fill="#3cc3a0" opacity="0.95" filter="url(#bl1)"/>
<path d="M539.5,303.5 C540.0,304.0 540.0,305.1 539.7,306.1 C539.4,307.1 538.7,308.4 537.8,309.4 C537.0,310.4 535.6,311.5 534.5,312.1 C533.4,312.7 532.2,313.0 531.4,312.8 C530.6,312.7 529.7,312.2 529.7,311.4 C529.7,310.6 530.8,309.1 531.4,308.1 C532.1,307.2 532.9,306.5 533.8,305.6 C534.8,304.8 536.0,303.5 536.9,303.2 C537.9,302.8 539.1,303.0 539.5,303.5Z" fill="#36b4c4" opacity="0.95" filter="url(#bl1)"/>
<path d="M495.5,311.6 C496.1,311.9 494.8,314.3 494.1,315.7 C493.4,317.1 492.5,318.9 491.3,320.1 C490.1,321.3 488.4,321.8 487.0,322.8 C485.5,323.7 483.4,325.5 482.6,325.6 C481.7,325.7 482.0,324.3 481.8,323.4 C481.7,322.5 481.0,321.4 481.9,320.2 C482.8,319.0 485.6,317.4 487.1,316.3 C488.6,315.2 489.5,314.4 490.9,313.6 C492.3,312.8 495.0,311.2 495.5,311.6Z" fill="#36a8d8" opacity="0.95" filter="url(#bl1)"/>
<path d="M530.6,312.5 C530.7,313.2 528.9,315.5 528.3,316.7 C527.6,318.0 527.6,318.8 526.7,319.9 C525.8,321.1 524.1,322.8 522.8,323.6 C521.6,324.5 520.1,324.9 519.2,324.9 C518.4,324.9 517.9,324.3 517.7,323.5 C517.5,322.7 517.1,321.2 518.0,320.0 C518.9,318.9 521.6,317.9 523.2,316.6 C524.7,315.4 526.1,313.3 527.3,312.6 C528.6,311.9 530.4,311.8 530.6,312.5Z" fill="#36b4c4" opacity="0.95" filter="url(#bl1)"/>
<path d="M480.6,343.6 C481.1,344.0 481.1,345.3 480.7,346.3 C480.2,347.3 479.0,348.7 478.0,349.8 C477.0,350.9 476.1,351.8 474.8,352.9 C473.4,353.9 471.0,355.9 469.8,356.1 C468.6,356.3 467.8,355.1 467.7,354.0 C467.6,352.9 468.1,350.9 469.2,349.4 C470.2,347.9 472.6,346.1 474.0,345.2 C475.4,344.3 476.6,344.2 477.7,343.9 C478.8,343.7 480.1,343.2 480.6,343.6Z" fill="#36a8d8" opacity="0.95" filter="url(#bl1)"/>
<path d="M558.5,276.6 C558.8,277.3 559.4,277.4 559.4,278.2 C559.3,278.9 558.8,280.2 558.0,281.2 C557.3,282.1 556.0,283.0 554.9,283.7 C553.7,284.4 551.9,285.5 551.2,285.4 C550.5,285.3 550.6,283.8 550.5,282.9 C550.4,282.0 550.0,281.0 550.6,280.0 C551.2,279.1 552.9,278.3 554.1,277.3 C555.3,276.3 557.0,274.1 557.7,274.0 C558.5,273.9 558.2,275.9 558.5,276.6Z" fill="#36b4c4" opacity="0.95" filter="url(#bl1)"/>
<path d="M534.2,268.2 C534.5,268.8 532.9,271.1 532.3,272.5 C531.7,273.9 531.9,275.2 530.8,276.5 C529.7,277.8 527.3,279.3 525.9,280.0 C524.6,280.7 523.4,280.8 522.7,280.6 C521.9,280.5 521.5,279.9 521.5,279.2 C521.4,278.4 521.7,277.0 522.5,276.0 C523.3,274.9 524.9,274.0 526.3,272.8 C527.6,271.5 529.3,269.3 530.6,268.5 C531.9,267.8 533.9,267.5 534.2,268.2Z" fill="#36a8d8" opacity="0.95" filter="url(#bl1)"/>
<path d="M500.2,352.2 C500.8,352.4 502.1,352.9 501.8,353.7 C501.4,354.6 499.2,356.3 498.1,357.5 C497.0,358.6 496.0,360.2 495.1,360.7 C494.1,361.2 493.4,360.8 492.6,360.7 C491.8,360.6 490.6,360.9 490.3,360.3 C490.1,359.7 490.3,358.2 491.0,357.1 C491.7,355.9 493.4,354.2 494.6,353.4 C495.7,352.6 496.9,352.5 497.8,352.3 C498.7,352.1 499.5,352.0 500.2,352.2Z" fill="#34bfae" opacity="0.95" filter="url(#bl1)"/>
<path d="M524.0,336.3 C524.5,336.8 524.5,338.2 524.0,339.5 C523.6,340.8 522.5,342.8 521.3,344.0 C520.2,345.2 518.3,346.0 517.0,346.6 C515.7,347.2 514.2,348.0 513.6,347.8 C513.0,347.6 513.1,346.3 513.2,345.5 C513.3,344.7 513.6,343.9 514.1,342.8 C514.6,341.8 515.3,340.2 516.4,339.2 C517.5,338.1 519.3,337.1 520.5,336.6 C521.8,336.1 523.4,335.8 524.0,336.3Z" fill="#36b4c4" opacity="0.95" filter="url(#bl1)"/>
<g transform="rotate(-42 505.6 305.9)" opacity="0.9"><rect x="395.6" y="225.9" width="220" height="160" fill="#fff" filter="url(#mottd)"/><rect x="395.6" y="225.9" width="220" height="160" fill="#fff" filter="url(#mottc)"/></g>
<path d="M479.9,320.2 C480.5,320.9 481.2,321.5 481.2,322.4 C481.1,323.3 480.5,324.8 479.7,325.7 C479.0,326.5 477.6,327.2 476.6,327.5 C475.7,327.9 474.8,327.7 473.9,327.6 C472.9,327.4 471.1,327.4 471.0,326.7 C470.9,325.9 472.5,324.2 473.1,323.3 C473.8,322.3 474.0,321.6 474.8,320.8 C475.6,320.0 477.0,318.4 477.9,318.3 C478.7,318.2 479.4,319.5 479.9,320.2Z" fill="#14327a" opacity="0.8" filter="url(#bl1)"/>
<path d="M478.8,321.2 C479.2,321.6 479.3,322.3 479.2,322.9 C479.1,323.5 478.7,324.3 478.3,324.8 C477.8,325.2 477.1,325.5 476.5,325.8 C475.9,326.1 475.1,326.6 474.6,326.5 C474.1,326.4 473.7,325.7 473.6,325.2 C473.5,324.7 473.8,324.0 474.1,323.4 C474.4,322.8 474.7,322.0 475.2,321.6 C475.7,321.2 476.6,320.9 477.2,320.8 C477.8,320.7 478.5,320.9 478.8,321.2Z" fill="#0a1430" opacity="0.9"/>
<path d="M502.1,318.3 C502.4,318.9 502.0,320.0 501.8,320.7 C501.6,321.4 501.2,322.0 500.7,322.5 C500.3,323.1 499.7,323.5 499.1,323.8 C498.4,324.2 497.5,324.7 496.9,324.7 C496.2,324.6 495.6,324.1 495.3,323.5 C495.0,322.9 494.8,321.8 495.1,321.0 C495.5,320.2 496.7,319.6 497.5,318.9 C498.3,318.3 499.3,317.3 500.1,317.2 C500.9,317.1 501.8,317.7 502.1,318.3Z" fill="#14327a" opacity="0.8" filter="url(#bl1)"/>
<path d="M500.7,319.6 C500.9,320.0 500.7,320.6 500.6,321.0 C500.5,321.4 500.3,321.7 500.0,322.1 C499.8,322.5 499.4,323.2 499.0,323.4 C498.7,323.6 498.0,323.5 497.7,323.4 C497.4,323.2 497.3,322.7 497.2,322.4 C497.1,322.0 497.0,321.7 497.1,321.2 C497.2,320.7 497.4,320.0 497.8,319.6 C498.3,319.1 499.2,318.6 499.7,318.6 C500.2,318.6 500.6,319.2 500.7,319.6Z" fill="#0a1430" opacity="0.9"/>
<path d="M524.3,270.1 C524.5,270.5 524.7,271.0 524.7,271.4 C524.6,271.9 524.4,272.5 524.0,273.0 C523.7,273.5 523.2,274.3 522.6,274.5 C522.1,274.8 521.2,274.9 520.7,274.7 C520.2,274.5 520.0,273.9 519.7,273.4 C519.5,272.9 518.9,272.1 519.1,271.5 C519.4,270.9 520.6,270.4 521.2,270.0 C521.9,269.6 522.6,269.1 523.1,269.2 C523.6,269.2 524.0,269.7 524.3,270.1Z" fill="#14327a" opacity="0.8" filter="url(#bl1)"/>
<path d="M523.8,270.5 C524.1,270.8 524.3,271.2 524.2,271.5 C524.2,271.9 523.8,272.3 523.5,272.7 C523.3,273.1 522.9,273.7 522.6,273.9 C522.2,274.1 521.6,274.0 521.2,273.8 C520.9,273.7 520.4,273.4 520.3,273.1 C520.3,272.7 520.5,272.1 520.7,271.7 C520.9,271.3 521.3,271.0 521.6,270.7 C522.0,270.4 522.5,270.1 522.9,270.1 C523.2,270.0 523.6,270.3 523.8,270.5Z" fill="#0a1430" opacity="0.9"/>
<path d="M566.2,296.4 C566.8,296.7 567.4,297.8 567.3,298.6 C567.2,299.4 566.5,300.7 565.8,301.3 C565.2,301.9 564.1,301.9 563.4,302.1 C562.6,302.4 561.9,302.6 561.3,302.5 C560.6,302.4 559.7,302.1 559.4,301.5 C559.1,300.9 558.9,299.6 559.3,298.9 C559.7,298.2 561.0,297.7 561.8,297.3 C562.5,296.9 563.0,296.8 563.8,296.7 C564.5,296.5 565.6,296.1 566.2,296.4Z" fill="#14327a" opacity="0.8" filter="url(#bl1)"/>
<path d="M564.5,298.1 C564.7,298.5 565.4,298.6 565.4,299.0 C565.4,299.4 564.7,299.9 564.3,300.3 C564.0,300.7 563.7,301.4 563.3,301.6 C562.9,301.8 562.3,301.7 561.8,301.6 C561.4,301.4 560.8,301.2 560.7,300.8 C560.6,300.4 561.0,299.7 561.2,299.2 C561.4,298.7 561.7,298.2 562.1,297.8 C562.5,297.5 563.3,296.8 563.7,296.9 C564.1,296.9 564.2,297.8 564.5,298.1Z" fill="#0a1430" opacity="0.9"/>
<path d="M421.0,325.0 C421.6,324.4 423.3,322.6 424.5,321.5 C425.7,320.4 426.2,320.4 428.1,318.3 C430.0,316.2 432.9,311.7 435.7,308.9 C438.5,306.1 441.9,303.6 445.0,301.4 C448.1,299.2 451.3,298.2 454.4,295.7 C457.5,293.2 461.0,289.4 463.8,286.3 C466.6,283.2 468.8,279.7 471.3,276.9 C473.8,274.1 475.7,271.9 478.8,269.4 C481.9,266.9 486.7,264.1 490.1,261.9 C493.6,259.7 496.4,257.9 499.5,256.3 C502.6,254.7 506.1,254.1 508.9,252.5 C511.7,250.9 514.2,248.5 516.4,246.9 C518.6,245.3 520.4,244.5 522.0,243.1 C523.6,241.7 524.7,240.0 526.0,238.5 C527.3,237.0 529.3,234.8 530.0,234.0" fill="none" stroke="#2f8fd0" stroke-width="31" stroke-linejoin="round" filter="url(#bl1)"/>
<path d="M421.0,325.0 C421.6,324.4 423.3,322.6 424.5,321.5 C425.7,320.4 426.2,320.4 428.1,318.3 C430.0,316.2 432.9,311.7 435.7,308.9 C438.5,306.1 441.9,303.6 445.0,301.4 C448.1,299.2 451.3,298.2 454.4,295.7 C457.5,293.2 461.0,289.4 463.8,286.3 C466.6,283.2 468.8,279.7 471.3,276.9 C473.8,274.1 475.7,271.9 478.8,269.4 C481.9,266.9 486.7,264.1 490.1,261.9 C493.6,259.7 496.4,257.9 499.5,256.3 C502.6,254.7 506.1,254.1 508.9,252.5 C511.7,250.9 514.2,248.5 516.4,246.9 C518.6,245.3 520.4,244.5 522.0,243.1 C523.6,241.7 524.7,240.0 526.0,238.5 C527.3,237.0 529.3,234.8 530.0,234.0" fill="none" stroke="#3fb58c" stroke-width="25" stroke-linejoin="round" filter="url(#bl1)"/>
<path d="M421.0,325.0 C421.6,324.4 423.3,322.6 424.5,321.5 C425.7,320.4 426.2,320.4 428.1,318.3 C430.0,316.2 432.9,311.7 435.7,308.9 C438.5,306.1 441.9,303.6 445.0,301.4 C448.1,299.2 451.3,298.2 454.4,295.7 C457.5,293.2 461.0,289.4 463.8,286.3 C466.6,283.2 468.8,279.7 471.3,276.9 C473.8,274.1 475.7,271.9 478.8,269.4 C481.9,266.9 486.7,264.1 490.1,261.9 C493.6,259.7 496.4,257.9 499.5,256.3 C502.6,254.7 506.1,254.1 508.9,252.5 C511.7,250.9 514.2,248.5 516.4,246.9 C518.6,245.3 520.4,244.5 522.0,243.1 C523.6,241.7 524.7,240.0 526.0,238.5 C527.3,237.0 529.3,234.8 530.0,234.0" fill="none" stroke="#8ccf45" stroke-width="19" stroke-linejoin="round" filter="url(#bl1)"/>
<path d="M421.0,325.0 C421.6,324.4 423.3,322.6 424.5,321.5 C425.7,320.4 426.2,320.4 428.1,318.3 C430.0,316.2 432.9,311.7 435.7,308.9 C438.5,306.1 441.9,303.6 445.0,301.4 C448.1,299.2 451.3,298.2 454.4,295.7 C457.5,293.2 461.0,289.4 463.8,286.3 C466.6,283.2 468.8,279.7 471.3,276.9 C473.8,274.1 475.7,271.9 478.8,269.4 C481.9,266.9 486.7,264.1 490.1,261.9 C493.6,259.7 496.4,257.9 499.5,256.3 C502.6,254.7 506.1,254.1 508.9,252.5 C511.7,250.9 514.2,248.5 516.4,246.9 C518.6,245.3 520.4,244.5 522.0,243.1 C523.6,241.7 524.7,240.0 526.0,238.5 C527.3,237.0 529.3,234.8 530.0,234.0" fill="none" stroke="#e8da30" stroke-width="13" stroke-linejoin="round" filter="url(#bl1)"/>
<path d="M421.0,325.0 C421.6,324.4 423.3,322.6 424.5,321.5 C425.7,320.4 426.2,320.4 428.1,318.3 C430.0,316.2 432.9,311.7 435.7,308.9 C438.5,306.1 441.9,303.6 445.0,301.4 C448.1,299.2 451.3,298.2 454.4,295.7 C457.5,293.2 461.0,289.4 463.8,286.3 C466.6,283.2 468.8,279.7 471.3,276.9 C473.8,274.1 475.7,271.9 478.8,269.4 C481.9,266.9 486.7,264.1 490.1,261.9 C493.6,259.7 496.4,257.9 499.5,256.3 C502.6,254.7 506.1,254.1 508.9,252.5 C511.7,250.9 514.2,248.5 516.4,246.9 C518.6,245.3 520.4,244.5 522.0,243.1 C523.6,241.7 524.7,240.0 526.0,238.5 C527.3,237.0 529.3,234.8 530.0,234.0" fill="none" stroke="#ee9a22" stroke-width="6.5" stroke-linejoin="round" filter="url(#bl1)"/>
<path d="M487.0,380.0 C487.7,379.4 489.6,377.7 491.0,376.5 C492.4,375.3 493.2,374.3 495.3,372.7 C497.4,371.1 500.8,369.2 503.8,367.0 C506.8,364.8 510.9,362.3 513.2,359.5 C515.6,356.7 515.7,352.6 517.9,350.1 C520.1,347.6 523.6,346.4 526.3,344.5 C528.9,342.6 531.3,340.7 533.8,338.8 C536.3,336.9 538.8,335.4 541.3,333.2 C543.8,331.0 546.6,328.2 548.8,325.7 C551.0,323.2 552.3,320.4 554.5,318.2 C556.7,316.0 559.5,314.8 562.0,312.6 C564.5,310.4 567.3,307.5 569.5,305.0 C571.7,302.5 573.2,299.7 575.1,297.5 C577.0,295.3 578.8,293.6 580.8,291.9 C582.8,290.2 585.4,288.7 587.3,287.2 C589.2,285.7 590.5,284.4 592.0,283.0 C593.5,281.6 595.3,279.7 596.0,279.0" fill="none" stroke="#2f8fd0" stroke-width="9" stroke-linejoin="round" filter="url(#bl1)"/>
<path d="M487.0,380.0 C487.7,379.4 489.6,377.7 491.0,376.5 C492.4,375.3 493.2,374.3 495.3,372.7 C497.4,371.1 500.8,369.2 503.8,367.0 C506.8,364.8 510.9,362.3 513.2,359.5 C515.6,356.7 515.7,352.6 517.9,350.1 C520.1,347.6 523.6,346.4 526.3,344.5 C528.9,342.6 531.3,340.7 533.8,338.8 C536.3,336.9 538.8,335.4 541.3,333.2 C543.8,331.0 546.6,328.2 548.8,325.7 C551.0,323.2 552.3,320.4 554.5,318.2 C556.7,316.0 559.5,314.8 562.0,312.6 C564.5,310.4 567.3,307.5 569.5,305.0 C571.7,302.5 573.2,299.7 575.1,297.5 C577.0,295.3 578.8,293.6 580.8,291.9 C582.8,290.2 585.4,288.7 587.3,287.2 C589.2,285.7 590.5,284.4 592.0,283.0 C593.5,281.6 595.3,279.7 596.0,279.0" fill="none" stroke="#5fc070" stroke-width="6.2" stroke-linejoin="round" filter="url(#bl1)"/>
<path d="M487.0,380.0 C487.7,379.4 489.6,377.7 491.0,376.5 C492.4,375.3 493.2,374.3 495.3,372.7 C497.4,371.1 500.8,369.2 503.8,367.0 C506.8,364.8 510.9,362.3 513.2,359.5 C515.6,356.7 515.7,352.6 517.9,350.1 C520.1,347.6 523.6,346.4 526.3,344.5 C528.9,342.6 531.3,340.7 533.8,338.8 C536.3,336.9 538.8,335.4 541.3,333.2 C543.8,331.0 546.6,328.2 548.8,325.7 C551.0,323.2 552.3,320.4 554.5,318.2 C556.7,316.0 559.5,314.8 562.0,312.6 C564.5,310.4 567.3,307.5 569.5,305.0 C571.7,302.5 573.2,299.7 575.1,297.5 C577.0,295.3 578.8,293.6 580.8,291.9 C582.8,290.2 585.4,288.7 587.3,287.2 C589.2,285.7 590.5,284.4 592.0,283.0 C593.5,281.6 595.3,279.7 596.0,279.0" fill="none" stroke="#e9d030" stroke-width="4.0" stroke-linejoin="round" filter="url(#bl1)"/>
<path d="M487.0,380.0 C487.7,379.4 489.6,377.7 491.0,376.5 C492.4,375.3 493.2,374.3 495.3,372.7 C497.4,371.1 500.8,369.2 503.8,367.0 C506.8,364.8 510.9,362.3 513.2,359.5 C515.6,356.7 515.7,352.6 517.9,350.1 C520.1,347.6 523.6,346.4 526.3,344.5 C528.9,342.6 531.3,340.7 533.8,338.8 C536.3,336.9 538.8,335.4 541.3,333.2 C543.8,331.0 546.6,328.2 548.8,325.7 C551.0,323.2 552.3,320.4 554.5,318.2 C556.7,316.0 559.5,314.8 562.0,312.6 C564.5,310.4 567.3,307.5 569.5,305.0 C571.7,302.5 573.2,299.7 575.1,297.5 C577.0,295.3 578.8,293.6 580.8,291.9 C582.8,290.2 585.4,288.7 587.3,287.2 C589.2,285.7 590.5,284.4 592.0,283.0 C593.5,281.6 595.3,279.7 596.0,279.0" fill="none" stroke="#ee8c22" stroke-width="2.2" stroke-linejoin="round" filter="url(#bl1)"/>
<path d="M421.0,325.0 C421.6,324.4 423.3,322.6 424.5,321.5 C425.7,320.4 426.2,320.4 428.1,318.3 C430.0,316.2 432.9,311.7 435.7,308.9 C438.5,306.1 441.9,303.6 445.0,301.4 C448.1,299.2 451.3,298.2 454.4,295.7 C457.5,293.2 461.0,289.4 463.8,286.3 C466.6,283.2 468.8,279.7 471.3,276.9 C473.8,274.1 475.7,271.9 478.8,269.4 C481.9,266.9 486.7,264.1 490.1,261.9 C493.6,259.7 496.4,257.9 499.5,256.3 C502.6,254.7 506.1,254.1 508.9,252.5 C511.7,250.9 514.2,248.5 516.4,246.9 C518.6,245.3 520.4,244.5 522.0,243.1 C523.6,241.7 524.7,240.0 526.0,238.5 C527.3,237.0 529.3,234.8 530.0,234.0 L505.0,224.3 L405.1,301.6 Z" fill="#b4412a"/>
<path d="M487.0,380.0 C487.7,379.4 489.6,377.7 491.0,376.5 C492.4,375.3 493.2,374.3 495.3,372.7 C497.4,371.1 500.8,369.2 503.8,367.0 C506.8,364.8 510.9,362.3 513.2,359.5 C515.6,356.7 515.7,352.6 517.9,350.1 C520.1,347.6 523.6,346.4 526.3,344.5 C528.9,342.6 531.3,340.7 533.8,338.8 C536.3,336.9 538.8,335.4 541.3,333.2 C543.8,331.0 546.6,328.2 548.8,325.7 C551.0,323.2 552.3,320.4 554.5,318.2 C556.7,316.0 559.5,314.8 562.0,312.6 C564.5,310.4 567.3,307.5 569.5,305.0 C571.7,302.5 573.2,299.7 575.1,297.5 C577.0,295.3 578.8,293.6 580.8,291.9 C582.8,290.2 585.4,288.7 587.3,287.2 C589.2,285.7 590.5,284.4 592.0,283.0 C593.5,281.6 595.3,279.7 596.0,279.0 L604.0,292.5 L505.8,389.5 Z" fill="#b4412a"/>
<polygon points="422.2,312.3 513.0,233.5 506.0,225.3 407.1,302.6" fill="#cf9a8c" opacity="0.7" filter="url(#bl2)"/>
<polygon points="499.7,378.0 593.0,285.3 603.0,291.5 505.8,387.5" fill="#cf9a8c" opacity="0.7" filter="url(#bl2)"/>
<g filter="url(#speck)"><path d="M421.0,325.0 C421.6,324.4 423.3,322.6 424.5,321.5 C425.7,320.4 426.2,320.4 428.1,318.3 C430.0,316.2 432.9,311.7 435.7,308.9 C438.5,306.1 441.9,303.6 445.0,301.4 C448.1,299.2 451.3,298.2 454.4,295.7 C457.5,293.2 461.0,289.4 463.8,286.3 C466.6,283.2 468.8,279.7 471.3,276.9 C473.8,274.1 475.7,271.9 478.8,269.4 C481.9,266.9 486.7,264.1 490.1,261.9 C493.6,259.7 496.4,257.9 499.5,256.3 C502.6,254.7 506.1,254.1 508.9,252.5 C511.7,250.9 514.2,248.5 516.4,246.9 C518.6,245.3 520.4,244.5 522.0,243.1 C523.6,241.7 524.7,240.0 526.0,238.5 C527.3,237.0 529.3,234.8 530.0,234.0 L505.0,224.3 L405.1,301.6 Z" fill="#fff"/><path d="M487.0,380.0 C487.7,379.4 489.6,377.7 491.0,376.5 C492.4,375.3 493.2,374.3 495.3,372.7 C497.4,371.1 500.8,369.2 503.8,367.0 C506.8,364.8 510.9,362.3 513.2,359.5 C515.6,356.7 515.7,352.6 517.9,350.1 C520.1,347.6 523.6,346.4 526.3,344.5 C528.9,342.6 531.3,340.7 533.8,338.8 C536.3,336.9 538.8,335.4 541.3,333.2 C543.8,331.0 546.6,328.2 548.8,325.7 C551.0,323.2 552.3,320.4 554.5,318.2 C556.7,316.0 559.5,314.8 562.0,312.6 C564.5,310.4 567.3,307.5 569.5,305.0 C571.7,302.5 573.2,299.7 575.1,297.5 C577.0,295.3 578.8,293.6 580.8,291.9 C582.8,290.2 585.4,288.7 587.3,287.2 C589.2,285.7 590.5,284.4 592.0,283.0 C593.5,281.6 595.3,279.7 596.0,279.0 L604.0,292.5 L505.8,389.5 Z" fill="#fff"/></g>
<g filter="url(#speckd)"><path d="M421.0,325.0 C421.6,324.4 423.3,322.6 424.5,321.5 C425.7,320.4 426.2,320.4 428.1,318.3 C430.0,316.2 432.9,311.7 435.7,308.9 C438.5,306.1 441.9,303.6 445.0,301.4 C448.1,299.2 451.3,298.2 454.4,295.7 C457.5,293.2 461.0,289.4 463.8,286.3 C466.6,283.2 468.8,279.7 471.3,276.9 C473.8,274.1 475.7,271.9 478.8,269.4 C481.9,266.9 486.7,264.1 490.1,261.9 C493.6,259.7 496.4,257.9 499.5,256.3 C502.6,254.7 506.1,254.1 508.9,252.5 C511.7,250.9 514.2,248.5 516.4,246.9 C518.6,245.3 520.4,244.5 522.0,243.1 C523.6,241.7 524.7,240.0 526.0,238.5 C527.3,237.0 529.3,234.8 530.0,234.0 L505.0,224.3 L405.1,301.6 Z" fill="#fff"/><path d="M487.0,380.0 C487.7,379.4 489.6,377.7 491.0,376.5 C492.4,375.3 493.2,374.3 495.3,372.7 C497.4,371.1 500.8,369.2 503.8,367.0 C506.8,364.8 510.9,362.3 513.2,359.5 C515.6,356.7 515.7,352.6 517.9,350.1 C520.1,347.6 523.6,346.4 526.3,344.5 C528.9,342.6 531.3,340.7 533.8,338.8 C536.3,336.9 538.8,335.4 541.3,333.2 C543.8,331.0 546.6,328.2 548.8,325.7 C551.0,323.2 552.3,320.4 554.5,318.2 C556.7,316.0 559.5,314.8 562.0,312.6 C564.5,310.4 567.3,307.5 569.5,305.0 C571.7,302.5 573.2,299.7 575.1,297.5 C577.0,295.3 578.8,293.6 580.8,291.9 C582.8,290.2 585.4,288.7 587.3,287.2 C589.2,285.7 590.5,284.4 592.0,283.0 C593.5,281.6 595.3,279.7 596.0,279.0 L604.0,292.5 L505.8,389.5 Z" fill="#fff"/></g>
</g></g>
<polyline points="413.9,312.6 504.1,389.9 598.0,299.0" fill="none" stroke="#222" stroke-width="0.8"/>
<line x1="413.3" y1="304.6" x2="413.9" y2="312.6" stroke="#222" stroke-width="0.7"/>
<line x1="598.0" y1="287.5" x2="598.0" y2="299.0" stroke="#777" stroke-width="0.5"/>
<line x1="532.3" y1="362.6" x2="530.1" y2="360.5" stroke="#222" stroke-width="0.6"/>
<line x1="559.5" y1="336.3" x2="557.4" y2="334.1" stroke="#222" stroke-width="0.6"/>
<line x1="586.3" y1="310.4" x2="584.1" y2="308.2" stroke="#222" stroke-width="0.6"/>
<line x1="415.7" y1="314.1" x2="417.8" y2="312.0" stroke="#222" stroke-width="0.6"/>
<line x1="443.7" y1="338.1" x2="445.8" y2="336.0" stroke="#222" stroke-width="0.6"/>
<line x1="473.9" y1="364.0" x2="476.0" y2="361.9" stroke="#222" stroke-width="0.6"/>
<text x="407.5" y="308.2" font-size="9.8" text-anchor="middle" fill="#1e1e1e" stroke="#1e1e1e" stroke-width="0.22">0</text>
<text x="412.0" y="318.5" font-size="9.8" text-anchor="end" fill="#1e1e1e" stroke="#1e1e1e" stroke-width="0.22">450</text>
<text x="413.5" y="324.2" font-size="9.8" text-anchor="middle" fill="#1e1e1e" stroke="#1e1e1e" stroke-width="0.22">6</text>
<text x="438.5" y="347.6" font-size="9.8" text-anchor="middle" fill="#1e1e1e" stroke="#1e1e1e" stroke-width="0.22">4</text>
<text x="467.6" y="372.0" font-size="9.8" text-anchor="middle" fill="#1e1e1e" stroke="#1e1e1e" stroke-width="0.22">2</text>
<text x="499.6" y="399.5" font-size="9.8" text-anchor="middle" fill="#1e1e1e" stroke="#1e1e1e" stroke-width="0.22">0</text>
<text x="508.6" y="399.5" font-size="9.8" text-anchor="middle" fill="#1e1e1e" stroke="#1e1e1e" stroke-width="0.22">0</text>
<text x="537.9" y="370.2" font-size="9.8" text-anchor="middle" fill="#1e1e1e" stroke="#1e1e1e" stroke-width="0.22">2</text>
<text x="564.2" y="342.9" font-size="9.8" text-anchor="middle" fill="#1e1e1e" stroke="#1e1e1e" stroke-width="0.22">4</text>
<text x="587.4" y="317.6" font-size="9.8" text-anchor="middle" fill="#1e1e1e" stroke="#1e1e1e" stroke-width="0.22">6</text>
<text x="444.0" y="373.0" font-size="9.8" text-anchor="middle" fill="#1e1e1e" stroke="#1e1e1e" stroke-width="0.22" transform="rotate(42 444.0 369.5)">Width (mm)</text>
<text x="564.2" y="365.5" font-size="9.8" text-anchor="middle" fill="#1e1e1e" stroke="#1e1e1e" stroke-width="0.22" transform="rotate(-45 564.2 362.0)">Length (mm)</text>
<text x="385.6" y="315.1" font-size="9.8" text-anchor="middle" fill="#1e1e1e" stroke="#1e1e1e" stroke-width="0.22" transform="rotate(-90 385.6 311.6)">Depth (µm)</text>
<text x="447.1" y="248.3" font-size="9.8" text-anchor="middle" fill="#1e1e1e" stroke="#1e1e1e" stroke-width="0.22">Better removal</text>
<line x1="460.1" y1="251.0" x2="483.4" y2="285.4" stroke="#e59450" stroke-width="0.9"/>
<polygon points="486.8,290.4 481.5,286.7 485.3,284.1" fill="#e59450"/>
<ellipse cx="500.5" cy="305" rx="52" ry="17" transform="rotate(-41 500.5 305)" fill="none" stroke="#e59450" stroke-width="0.9" stroke-dasharray="3.4 2.4"/>
<text x="506.3" y="428.8" font-size="9.8" text-anchor="middle" fill="#1e1e1e" stroke="#1e1e1e" stroke-width="0.22">(d)</text>
<rect x="38.8" y="441.8" width="234.59999999999997" height="184.09999999999997" fill="#fff" stroke="#3a3a3a" stroke-width="0.8"/>
<line x1="38.8" y1="625.9" x2="41.8" y2="625.9" stroke="#3a3a3a" stroke-width="0.7"/>
<text x="34.5" y="628.6" font-size="9.8" text-anchor="end" fill="#1e1e1e" stroke="#1e1e1e" stroke-width="0.22">−400</text>
<line x1="38.8" y1="599.6" x2="41.8" y2="599.6" stroke="#3a3a3a" stroke-width="0.7"/>
<text x="34.5" y="602.3" font-size="9.8" text-anchor="end" fill="#1e1e1e" stroke="#1e1e1e" stroke-width="0.22">−300</text>
<line x1="38.8" y1="573.3" x2="41.8" y2="573.3" stroke="#3a3a3a" stroke-width="0.7"/>
<text x="34.5" y="576.0" font-size="9.8" text-anchor="end" fill="#1e1e1e" stroke="#1e1e1e" stroke-width="0.22">−200</text>
<line x1="38.8" y1="547.0" x2="41.8" y2="547.0" stroke="#3a3a3a" stroke-width="0.7"/>
<text x="34.5" y="549.7" font-size="9.8" text-anchor="end" fill="#1e1e1e" stroke="#1e1e1e" stroke-width="0.22">−100</text>
<line x1="38.8" y1="520.7" x2="41.8" y2="520.7" stroke="#3a3a3a" stroke-width="0.7"/>
<text x="34.5" y="523.4" font-size="9.8" text-anchor="end" fill="#1e1e1e" stroke="#1e1e1e" stroke-width="0.22">0</text>
<line x1="38.8" y1="494.4" x2="41.8" y2="494.4" stroke="#3a3a3a" stroke-width="0.7"/>
<text x="34.5" y="497.1" font-size="9.8" text-anchor="end" fill="#1e1e1e" stroke="#1e1e1e" stroke-width="0.22">100</text>
<line x1="38.8" y1="468.1" x2="41.8" y2="468.1" stroke="#3a3a3a" stroke-width="0.7"/>
<text x="34.5" y="470.8" font-size="9.8" text-anchor="end" fill="#1e1e1e" stroke="#1e1e1e" stroke-width="0.22">200</text>
<line x1="38.8" y1="441.8" x2="41.8" y2="441.8" stroke="#3a3a3a" stroke-width="0.7"/>
<text x="34.5" y="444.5" font-size="9.8" text-anchor="end" fill="#1e1e1e" stroke="#1e1e1e" stroke-width="0.22">300</text>
<line x1="38.8" y1="625.9" x2="38.8" y2="622.9" stroke="#3a3a3a" stroke-width="0.7"/>
<text x="37.3" y="639.1" font-size="9.8" text-anchor="middle" fill="#1e1e1e" stroke="#1e1e1e" stroke-width="0.22">−3</text>
<line x1="77.9" y1="625.9" x2="77.9" y2="622.9" stroke="#3a3a3a" stroke-width="0.7"/>
<text x="76.4" y="639.1" font-size="9.8" text-anchor="middle" fill="#1e1e1e" stroke="#1e1e1e" stroke-width="0.22">−2</text>
<line x1="117.0" y1="625.9" x2="117.0" y2="622.9" stroke="#3a3a3a" stroke-width="0.7"/>
<text x="115.5" y="639.1" font-size="9.8" text-anchor="middle" fill="#1e1e1e" stroke="#1e1e1e" stroke-width="0.22">−1</text>
<line x1="156.1" y1="625.9" x2="156.1" y2="622.9" stroke="#3a3a3a" stroke-width="0.7"/>
<text x="156.1" y="639.1" font-size="9.8" text-anchor="middle" fill="#1e1e1e" stroke="#1e1e1e" stroke-width="0.22">0</text>
<line x1="195.2" y1="625.9" x2="195.2" y2="622.9" stroke="#3a3a3a" stroke-width="0.7"/>
<text x="195.2" y="639.1" font-size="9.8" text-anchor="middle" fill="#1e1e1e" stroke="#1e1e1e" stroke-width="0.22">1</text>
<line x1="234.3" y1="625.9" x2="234.3" y2="622.9" stroke="#3a3a3a" stroke-width="0.7"/>
<text x="234.3" y="639.1" font-size="9.8" text-anchor="middle" fill="#1e1e1e" stroke="#1e1e1e" stroke-width="0.22">2</text>
<line x1="273.4" y1="625.9" x2="273.4" y2="622.9" stroke="#3a3a3a" stroke-width="0.7"/>
<text x="273.4" y="639.1" font-size="9.8" text-anchor="middle" fill="#1e1e1e" stroke="#1e1e1e" stroke-width="0.22">3</text>
<path d="M38.8,520.7 L39.2,520.7 L39.6,520.7 L40.0,520.7 L40.4,520.7 L40.8,520.7 L41.1,520.7 L41.5,520.7 L41.9,520.7 L42.3,520.7 L42.7,520.7 L43.1,520.7 L43.5,520.7 L43.9,520.7 L44.3,520.7 L44.7,520.7 L45.1,520.7 L45.5,520.7 L45.8,520.7 L46.2,520.7 L46.6,520.7 L47.0,520.7 L47.4,520.7 L47.8,520.7 L48.2,520.7 L48.6,520.7 L49.0,520.7 L49.4,520.7 L49.8,520.7 L50.2,520.7 L50.5,520.7 L50.9,520.7 L51.3,520.7 L51.7,520.7 L52.1,520.7 L52.5,520.7 L52.9,520.7 L53.3,520.7 L53.7,520.7 L54.1,520.7 L54.5,520.7 L54.9,520.7 L55.2,520.7 L55.6,520.7 L56.0,520.7 L56.4,520.7 L56.8,520.7 L57.2,520.7 L57.6,520.6 L58.0,520.6 L58.4,520.5 L58.8,520.5 L59.2,520.4 L59.6,520.3 L59.9,520.3 L60.3,520.2 L60.7,520.2 L61.1,520.2 L61.5,520.2 L61.9,520.2 L62.3,520.3 L62.7,520.3 L63.1,520.4 L63.5,520.6 L63.9,520.7 L64.3,520.9 L64.6,521.1 L65.0,521.2 L65.4,521.5 L65.8,521.8 L66.2,522.1 L66.6,522.5 L67.0,522.9 L67.4,523.4 L67.8,523.9 L68.2,524.5 L68.6,525.1 L69.0,525.8 L69.3,526.7 L69.7,527.6 L70.1,528.6 L70.5,529.7 L70.9,530.8 L71.3,531.8 L71.7,532.9 L72.1,534.0 L72.5,535.1 L72.9,536.2 L73.3,537.3 L73.7,538.5 L74.0,539.7 L74.4,540.9 L74.8,542.2 L75.2,543.4 L75.6,544.6 L76.0,545.9 L76.4,547.1 L76.8,548.4 L77.2,549.6 L77.6,550.9 L78.0,552.2 L78.4,553.5 L78.7,554.8 L79.1,556.2 L79.5,557.6 L79.9,559.0 L80.3,560.4 L80.7,561.9 L81.1,563.5 L81.5,565.1 L81.9,566.7 L82.3,568.4 L82.7,570.0 L83.1,571.7 L83.4,573.3 L83.8,574.9 L84.2,576.5 L84.6,578.2 L85.0,579.9 L85.4,581.5 L85.8,583.1 L86.2,584.7 L86.6,586.2 L87.0,587.6 L87.4,588.8 L87.8,590.0 L88.1,591.2 L88.5,592.3 L88.9,593.4 L89.3,594.4 L89.7,595.2 L90.1,596.0 L90.5,596.6 L90.9,597.1 L91.3,597.6 L91.7,598.1 L92.1,598.5 L92.5,598.9 L92.8,599.1 L93.2,599.3 L93.6,599.3 L94.0,599.3 L94.4,599.3 L94.8,599.2 L95.2,599.1 L95.6,599.1 L96.0,599.0 L96.4,598.9 L96.8,598.7 L97.2,598.6 L97.5,598.5 L97.9,598.4 L98.3,598.2 L98.7,598.1 L99.1,597.9 L99.5,597.7 L99.9,597.5 L100.3,597.3 L100.7,597.1 L101.1,596.9 L101.5,596.7 L101.9,596.5 L102.2,596.4 L102.6,596.3 L103.0,596.1 L103.4,596.0 L103.8,595.9 L104.2,595.7 L104.6,595.6 L105.0,595.5 L105.4,595.4 L105.8,595.3 L106.2,595.2 L106.6,595.2 L106.9,595.1 L107.3,595.1 L107.7,595.2 L108.1,595.3 L108.5,595.5 L108.9,595.7 L109.3,595.9 L109.7,596.2 L110.1,596.6 L110.5,596.9 L110.9,597.2 L111.3,597.6 L111.6,598.0 L112.0,598.3 L112.4,598.7 L112.8,599.0 L113.2,599.4 L113.6,599.9 L114.0,600.4 L114.4,600.9 L114.8,601.4 L115.2,601.9 L115.6,602.4 L116.0,602.9 L116.3,603.4 L116.7,603.9 L117.1,604.4 L117.5,604.8 L117.9,605.2 L118.3,605.5 L118.7,605.8 L119.1,606.2 L119.5,606.5 L119.9,606.8 L120.3,607.2 L120.7,607.5 L121.0,607.8 L121.4,608.1 L121.8,608.4 L122.2,608.7 L122.6,608.9 L123.0,609.1 L123.4,609.3 L123.8,609.4 L124.2,609.5 L124.6,609.6 L125.0,609.6 L125.4,609.5 L125.7,609.4 L126.1,609.3 L126.5,609.1 L126.9,608.8 L127.3,608.5 L127.7,608.2 L128.1,607.9 L128.5,607.5 L128.9,607.1 L129.3,606.7 L129.7,606.4 L130.1,606.0 L130.4,605.6 L130.8,605.2 L131.2,604.8 L131.6,604.4 L132.0,603.9 L132.4,603.3 L132.8,602.8 L133.2,602.2 L133.6,601.6 L134.0,601.1 L134.4,600.5 L134.8,600.0 L135.1,599.4 L135.5,599.0 L135.9,598.6 L136.3,598.2 L136.7,597.9 L137.1,597.6 L137.5,597.3 L137.9,597.0 L138.3,596.8 L138.7,596.5 L139.1,596.3 L139.5,596.1 L139.8,596.0 L140.2,595.9 L140.6,595.9 L141.0,596.0 L141.4,596.1 L141.8,596.3 L142.2,596.5 L142.6,596.7 L143.0,597.0 L143.4,597.3 L143.8,597.6 L144.2,597.9 L144.5,598.2 L144.9,598.5 L145.3,599.0 L145.7,599.5 L146.1,600.0 L146.5,600.6 L146.9,601.3 L147.3,601.9 L147.7,602.6 L148.1,603.2 L148.5,603.8 L148.9,604.4 L149.2,605.0 L149.6,605.5 L150.0,606.0 L150.4,606.4 L150.8,606.8 L151.2,607.2 L151.6,607.6 L152.0,608.0 L152.4,608.4 L152.8,608.8 L153.2,609.1 L153.6,609.5 L153.9,609.8 L154.3,610.0 L154.7,610.3 L155.1,610.4 L155.5,610.6 L155.9,610.6 L156.3,610.6 L156.7,610.6 L157.1,610.5 L157.5,610.4 L157.9,610.2 L158.3,610.0 L158.6,609.8 L159.0,609.5 L159.4,609.3 L159.8,609.0 L160.2,608.7 L160.6,608.4 L161.0,608.1 L161.4,607.8 L161.8,607.3 L162.2,606.8 L162.6,606.3 L163.0,605.7 L163.3,605.1 L163.7,604.4 L164.1,603.8 L164.5,603.1 L164.9,602.5 L165.3,601.9 L165.7,601.3 L166.1,600.8 L166.5,600.3 L166.9,599.9 L167.3,599.4 L167.7,599.0 L168.0,598.5 L168.4,598.1 L168.8,597.6 L169.2,597.2 L169.6,596.8 L170.0,596.4 L170.4,596.1 L170.8,595.9 L171.2,595.7 L171.6,595.7 L172.0,595.7 L172.4,595.8 L172.7,595.9 L173.1,596.1 L173.5,596.4 L173.9,596.7 L174.3,597.1 L174.7,597.4 L175.1,597.8 L175.5,598.3 L175.9,598.7 L176.3,599.1 L176.7,599.4 L177.1,599.8 L177.4,600.2 L177.8,600.7 L178.2,601.2 L178.6,601.7 L179.0,602.2 L179.4,602.8 L179.8,603.3 L180.2,603.9 L180.6,604.4 L181.0,604.9 L181.4,605.3 L181.8,605.7 L182.1,606.1 L182.5,606.3 L182.9,606.6 L183.3,606.8 L183.7,607.0 L184.1,607.2 L184.5,607.4 L184.9,607.6 L185.3,607.8 L185.7,608.0 L186.1,608.1 L186.5,608.2 L186.8,608.2 L187.2,608.3 L187.6,608.3 L188.0,608.2 L188.4,608.1 L188.8,607.9 L189.2,607.7 L189.6,607.5 L190.0,607.2 L190.4,606.9 L190.8,606.6 L191.2,606.3 L191.5,605.9 L191.9,605.6 L192.3,605.2 L192.7,604.8 L193.1,604.5 L193.5,604.1 L193.9,603.6 L194.3,603.1 L194.7,602.5 L195.1,601.9 L195.5,601.3 L195.9,600.6 L196.2,599.9 L196.6,599.3 L197.0,598.6 L197.4,598.0 L197.8,597.4 L198.2,596.9 L198.6,596.4 L199.0,596.0 L199.4,595.7 L199.8,595.4 L200.2,595.0 L200.6,594.7 L200.9,594.4 L201.3,594.1 L201.7,593.9 L202.1,593.7 L202.5,593.6 L202.9,593.6 L203.3,593.6 L203.7,593.6 L204.1,593.8 L204.5,594.0 L204.9,594.2 L205.3,594.4 L205.6,594.7 L206.0,595.0 L206.4,595.3 L206.8,595.6 L207.2,595.9 L207.6,596.3 L208.0,596.7 L208.4,597.2 L208.8,597.7 L209.2,598.3 L209.6,598.9 L210.0,599.5 L210.3,600.1 L210.7,600.7 L211.1,601.3 L211.5,601.9 L211.9,602.5 L212.3,603.0 L212.7,603.4 L213.1,603.9 L213.5,604.3 L213.9,604.7 L214.3,605.1 L214.7,605.5 L215.0,605.9 L215.4,606.3 L215.8,606.7 L216.2,607.0 L216.6,607.3 L217.0,607.6 L217.4,607.8 L217.8,608.0 L218.2,608.1 L218.6,608.2 L219.0,608.4 L219.4,608.5 L219.7,608.6 L220.1,608.7 L220.5,608.7 L220.9,608.8 L221.3,608.8 L221.7,608.7 L222.1,608.4 L222.5,607.9 L222.9,607.2 L223.3,606.4 L223.7,605.5 L224.1,604.5 L224.4,603.3 L224.8,601.5 L225.2,599.2 L225.6,596.7 L226.0,594.1 L226.4,591.6 L226.8,589.4 L227.2,587.1 L227.6,584.8 L228.0,582.4 L228.4,580.1 L228.8,577.7 L229.1,575.3 L229.5,572.7 L229.9,570.1 L230.3,567.6 L230.7,565.1 L231.1,562.7 L231.5,560.5 L231.9,558.5 L232.3,556.6 L232.7,554.8 L233.1,553.1 L233.5,551.4 L233.8,549.8 L234.2,548.2 L234.6,546.6 L235.0,545.1 L235.4,543.7 L235.8,542.2 L236.2,540.8 L236.6,539.4 L237.0,538.1 L237.4,536.8 L237.8,535.5 L238.2,534.3 L238.5,533.1 L238.9,531.9 L239.3,530.8 L239.7,529.6 L240.1,528.5 L240.5,527.5 L240.9,526.4 L241.3,525.5 L241.7,524.7 L242.1,523.9 L242.5,523.3 L242.9,522.7 L243.2,522.1 L243.6,521.5 L244.0,521.0 L244.4,520.6 L244.8,520.3 L245.2,520.2 L245.6,520.1 L246.0,520.1 L246.4,520.0 L246.8,520.0 L247.2,520.0 L247.6,520.0 L247.9,519.9 L248.3,519.9 L248.7,519.9 L249.1,519.9 L249.5,519.9 L249.9,520.0 L250.3,520.0 L250.7,520.1 L251.1,520.2 L251.5,520.3 L251.9,520.4 L252.3,520.5 L252.6,520.6 L253.0,520.6 L253.4,520.7 L253.8,520.7 L254.2,520.7 L254.6,520.7 L255.0,520.7 L255.4,520.7 L255.8,520.7 L256.2,520.7 L256.6,520.7 L257.0,520.7 L257.3,520.7 L257.7,520.7 L258.1,520.7 L258.5,520.7 L258.9,520.7 L259.3,520.7 L259.7,520.7 L260.1,520.7 L260.5,520.7 L260.9,520.7 L261.3,520.7 L261.7,520.7 L262.0,520.7 L262.4,520.7 L262.8,520.7 L263.2,520.7 L263.6,520.7 L264.0,520.7 L264.4,520.7 L264.8,520.7 L265.2,520.7 L265.6,520.7 L266.0,520.7 L266.4,520.7 L266.7,520.7 L267.1,520.7 L267.5,520.7 L267.9,520.7 L268.3,520.7 L268.7,520.7 L269.1,520.7 L269.5,520.7 L269.9,520.7 L270.3,520.7 L270.7,520.7 L271.1,520.7 L271.4,520.7 L271.8,520.7 L272.2,520.7 L272.6,520.7 L273.0,520.7 L273.4,520.7" fill="none" stroke="#c0392e" stroke-width="1.5" stroke-dasharray="5.2 3.6"/>
<path d="M38.8,520.7 L39.2,520.7 L39.6,520.7 L40.0,520.7 L40.4,520.7 L40.8,520.7 L41.1,520.7 L41.5,520.7 L41.9,520.7 L42.3,520.7 L42.7,520.7 L43.1,520.7 L43.5,520.7 L43.9,520.7 L44.3,520.7 L44.7,520.7 L45.1,520.7 L45.5,520.7 L45.8,520.7 L46.2,520.7 L46.6,520.7 L47.0,520.7 L47.4,520.7 L47.8,520.7 L48.2,520.7 L48.6,520.7 L49.0,520.7 L49.4,520.7 L49.8,520.7 L50.2,520.7 L50.5,520.7 L50.9,520.7 L51.3,520.7 L51.7,520.7 L52.1,520.7 L52.5,520.7 L52.9,520.7 L53.3,520.7 L53.7,520.7 L54.1,520.7 L54.5,520.7 L54.9,520.7 L55.2,520.7 L55.6,520.6 L56.0,520.6 L56.4,520.5 L56.8,520.5 L57.2,520.4 L57.6,520.3 L58.0,520.3 L58.4,520.2 L58.8,520.1 L59.2,520.0 L59.6,520.0 L59.9,519.9 L60.3,519.8 L60.7,519.7 L61.1,519.6 L61.5,519.5 L61.9,519.4 L62.3,519.3 L62.7,519.2 L63.1,519.2 L63.5,519.1 L63.9,519.1 L64.3,519.1 L64.6,519.2 L65.0,519.2 L65.4,519.3 L65.8,519.4 L66.2,519.4 L66.6,519.5 L67.0,519.7 L67.4,519.9 L67.8,520.2 L68.2,520.7 L68.6,521.3 L69.0,521.9 L69.3,522.6 L69.7,523.3 L70.1,523.9 L70.5,524.7 L70.9,525.5 L71.3,526.4 L71.7,527.4 L72.1,528.4 L72.5,529.5 L72.9,530.6 L73.3,531.7 L73.7,532.9 L74.0,534.0 L74.4,535.2 L74.8,536.5 L75.2,537.8 L75.6,539.2 L76.0,540.6 L76.4,542.1 L76.8,543.5 L77.2,545.0 L77.6,546.5 L78.0,548.0 L78.4,549.6 L78.7,551.2 L79.1,552.8 L79.5,554.4 L79.9,556.1 L80.3,557.8 L80.7,559.5 L81.1,561.3 L81.5,563.1 L81.9,565.0 L82.3,567.0 L82.7,569.0 L83.1,571.0 L83.4,573.0 L83.8,575.0 L84.2,577.0 L84.6,578.9 L85.0,580.8 L85.4,582.5 L85.8,584.1 L86.2,585.8 L86.6,587.4 L87.0,589.0 L87.4,590.6 L87.8,592.0 L88.1,593.2 L88.5,594.3 L88.9,595.0 L89.3,595.7 L89.7,596.3 L90.1,596.9 L90.5,597.4 L90.9,597.9 L91.3,598.3 L91.7,598.6 L92.1,598.9 L92.5,599.0 L92.8,599.1 L93.2,598.8 L93.6,598.5 L94.0,598.4 L94.4,598.3 L94.8,598.2 L95.2,598.1 L95.6,597.9 L96.0,597.7 L96.4,597.3 L96.8,597.0 L97.2,596.5 L97.5,596.1 L97.9,595.7 L98.3,595.2 L98.7,594.6 L99.1,594.1 L99.5,593.5 L99.9,593.0 L100.3,592.3 L100.7,591.7 L101.1,591.1 L101.5,590.5 L101.9,589.9 L102.2,589.3 L102.6,588.6 L103.0,588.1 L103.4,587.5 L103.8,586.9 L104.2,586.4 L104.6,585.9 L105.0,585.4 L105.4,585.0 L105.8,584.6 L106.2,584.2 L106.6,583.8 L106.9,583.5 L107.3,583.3 L107.7,583.1 L108.1,583.0 L108.5,582.9 L108.9,582.8 L109.3,582.8 L109.7,582.8 L110.1,582.9 L110.5,583.1 L110.9,583.2 L111.3,583.4 L111.6,583.7 L112.0,584.0 L112.4,584.4 L112.8,584.8 L113.2,585.2 L113.6,585.7 L114.0,586.2 L114.4,586.7 L114.8,587.3 L115.2,587.8 L115.6,588.4 L116.0,589.0 L116.3,589.6 L116.7,590.3 L117.1,590.9 L117.5,591.5 L117.9,592.1 L118.3,592.7 L118.7,593.3 L119.1,593.9 L119.5,594.4 L119.9,595.0 L120.3,595.5 L120.7,596.0 L121.0,596.4 L121.4,596.8 L121.8,597.2 L122.2,597.5 L122.6,597.8 L123.0,598.0 L123.4,598.2 L123.8,598.3 L124.2,598.5 L124.6,598.5 L125.0,598.5 L125.4,598.5 L125.7,598.4 L126.1,598.2 L126.5,598.1 L126.9,597.9 L127.3,597.6 L127.7,597.3 L128.1,596.9 L128.5,596.5 L128.9,596.1 L129.3,595.6 L129.7,595.1 L130.1,594.6 L130.4,594.0 L130.8,593.5 L131.2,592.9 L131.6,592.3 L132.0,591.6 L132.4,591.0 L132.8,590.4 L133.2,589.8 L133.6,589.2 L134.0,588.6 L134.4,588.0 L134.8,587.4 L135.1,586.9 L135.5,586.3 L135.9,585.8 L136.3,585.3 L136.7,584.9 L137.1,584.5 L137.5,584.1 L137.9,583.8 L138.3,583.5 L138.7,583.3 L139.1,583.1 L139.5,583.0 L139.8,582.8 L140.2,582.8 L140.6,582.8 L141.0,582.8 L141.4,582.9 L141.8,583.1 L142.2,583.3 L142.6,583.5 L143.0,583.7 L143.4,584.1 L143.8,584.4 L144.2,584.9 L144.5,585.3 L144.9,585.7 L145.3,586.2 L145.7,586.8 L146.1,587.3 L146.5,587.9 L146.9,588.5 L147.3,589.1 L147.7,589.7 L148.1,590.3 L148.5,590.9 L148.9,591.6 L149.2,592.2 L149.6,592.8 L150.0,593.4 L150.4,593.9 L150.8,594.5 L151.2,595.0 L151.6,595.5 L152.0,596.0 L152.4,596.4 L152.8,596.8 L153.2,597.2 L153.6,597.6 L153.9,597.8 L154.3,598.0 L154.7,598.2 L155.1,598.4 L155.5,598.5 L155.9,598.5 L156.3,598.5 L156.7,598.5 L157.1,598.4 L157.5,598.2 L157.9,598.0 L158.3,597.8 L158.6,597.6 L159.0,597.2 L159.4,596.8 L159.8,596.4 L160.2,596.0 L160.6,595.5 L161.0,595.0 L161.4,594.5 L161.8,593.9 L162.2,593.4 L162.6,592.8 L163.0,592.2 L163.3,591.6 L163.7,590.9 L164.1,590.3 L164.5,589.7 L164.9,589.1 L165.3,588.5 L165.7,587.9 L166.1,587.3 L166.5,586.8 L166.9,586.2 L167.3,585.7 L167.7,585.3 L168.0,584.9 L168.4,584.4 L168.8,584.1 L169.2,583.7 L169.6,583.5 L170.0,583.3 L170.4,583.1 L170.8,582.9 L171.2,582.8 L171.6,582.8 L172.0,582.8 L172.4,582.8 L172.7,583.0 L173.1,583.1 L173.5,583.3 L173.9,583.5 L174.3,583.8 L174.7,584.1 L175.1,584.5 L175.5,584.9 L175.9,585.3 L176.3,585.8 L176.7,586.3 L177.1,586.9 L177.4,587.4 L177.8,588.0 L178.2,588.6 L178.6,589.2 L179.0,589.8 L179.4,590.4 L179.8,591.0 L180.2,591.6 L180.6,592.3 L181.0,592.9 L181.4,593.5 L181.8,594.0 L182.1,594.6 L182.5,595.1 L182.9,595.6 L183.3,596.1 L183.7,596.5 L184.1,596.9 L184.5,597.3 L184.9,597.6 L185.3,597.9 L185.7,598.1 L186.1,598.2 L186.5,598.4 L186.8,598.5 L187.2,598.5 L187.6,598.5 L188.0,598.5 L188.4,598.3 L188.8,598.2 L189.2,598.0 L189.6,597.8 L190.0,597.5 L190.4,597.2 L190.8,596.8 L191.2,596.4 L191.5,596.0 L191.9,595.5 L192.3,595.0 L192.7,594.4 L193.1,593.9 L193.5,593.3 L193.9,592.7 L194.3,592.1 L194.7,591.5 L195.1,590.9 L195.5,590.3 L195.9,589.6 L196.2,589.0 L196.6,588.4 L197.0,587.8 L197.4,587.3 L197.8,586.7 L198.2,586.2 L198.6,585.7 L199.0,585.2 L199.4,584.8 L199.8,584.4 L200.2,584.0 L200.6,583.7 L200.9,583.4 L201.3,583.2 L201.7,583.1 L202.1,582.9 L202.5,582.8 L202.9,582.8 L203.3,582.8 L203.7,582.9 L204.1,583.0 L204.5,583.1 L204.9,583.3 L205.3,583.5 L205.6,583.8 L206.0,584.2 L206.4,584.6 L206.8,585.0 L207.2,585.4 L207.6,585.9 L208.0,586.4 L208.4,586.9 L208.8,587.5 L209.2,588.1 L209.6,588.6 L210.0,589.3 L210.3,589.9 L210.7,590.5 L211.1,591.1 L211.5,591.7 L211.9,592.3 L212.3,593.0 L212.7,593.5 L213.1,594.1 L213.5,594.6 L213.9,595.2 L214.3,595.7 L214.7,596.1 L215.0,596.5 L215.4,597.0 L215.8,597.3 L216.2,597.7 L216.6,597.9 L217.0,598.1 L217.4,598.2 L217.8,598.3 L218.2,598.4 L218.6,598.5 L219.0,598.8 L219.4,599.1 L219.7,599.0 L220.1,598.9 L220.5,598.6 L220.9,598.3 L221.3,597.9 L221.7,597.4 L222.1,596.9 L222.5,596.3 L222.9,595.7 L223.3,595.0 L223.7,594.3 L224.1,593.2 L224.4,592.0 L224.8,590.6 L225.2,589.0 L225.6,587.4 L226.0,585.8 L226.4,584.1 L226.8,582.5 L227.2,580.8 L227.6,578.9 L228.0,577.0 L228.4,575.0 L228.8,573.0 L229.1,571.0 L229.5,569.0 L229.9,567.0 L230.3,565.0 L230.7,563.1 L231.1,561.3 L231.5,559.5 L231.9,557.8 L232.3,556.1 L232.7,554.4 L233.1,552.8 L233.5,551.2 L233.8,549.6 L234.2,548.0 L234.6,546.5 L235.0,545.0 L235.4,543.5 L235.8,542.1 L236.2,540.6 L236.6,539.2 L237.0,537.8 L237.4,536.5 L237.8,535.2 L238.2,534.0 L238.5,532.9 L238.9,531.7 L239.3,530.6 L239.7,529.5 L240.1,528.4 L240.5,527.4 L240.9,526.4 L241.3,525.5 L241.7,524.7 L242.1,523.9 L242.5,523.3 L242.9,522.6 L243.2,521.9 L243.6,521.3 L244.0,520.7 L244.4,520.2 L244.8,519.9 L245.2,519.7 L245.6,519.5 L246.0,519.4 L246.4,519.4 L246.8,519.3 L247.2,519.2 L247.6,519.2 L247.9,519.1 L248.3,519.1 L248.7,519.1 L249.1,519.2 L249.5,519.2 L249.9,519.3 L250.3,519.4 L250.7,519.5 L251.1,519.6 L251.5,519.7 L251.9,519.8 L252.3,519.9 L252.6,520.0 L253.0,520.0 L253.4,520.1 L253.8,520.2 L254.2,520.3 L254.6,520.3 L255.0,520.4 L255.4,520.5 L255.8,520.5 L256.2,520.6 L256.6,520.6 L257.0,520.7 L257.3,520.7 L257.7,520.7 L258.1,520.7 L258.5,520.7 L258.9,520.7 L259.3,520.7 L259.7,520.7 L260.1,520.7 L260.5,520.7 L260.9,520.7 L261.3,520.7 L261.7,520.7 L262.0,520.7 L262.4,520.7 L262.8,520.7 L263.2,520.7 L263.6,520.7 L264.0,520.7 L264.4,520.7 L264.8,520.7 L265.2,520.7 L265.6,520.7 L266.0,520.7 L266.4,520.7 L266.7,520.7 L267.1,520.7 L267.5,520.7 L267.9,520.7 L268.3,520.7 L268.7,520.7 L269.1,520.7 L269.5,520.7 L269.9,520.7 L270.3,520.7 L270.7,520.7 L271.1,520.7 L271.4,520.7 L271.8,520.7 L272.2,520.7 L272.6,520.7 L273.0,520.7 L273.4,520.7" fill="none" stroke="#1d4a86" stroke-width="1.5"/>
<text x="156.2" y="652.4" font-size="9.8" text-anchor="middle" fill="#1e1e1e" stroke="#1e1e1e" stroke-width="0.22">Width (mm)</text>
<text x="156.2" y="669.9" font-size="9.8" text-anchor="middle" fill="#1e1e1e" stroke="#1e1e1e" stroke-width="0.22">(e)</text>
<text x="5.6" y="532.4" font-size="9.8" text-anchor="middle" fill="#1e1e1e" stroke="#1e1e1e" stroke-width="0.22" transform="rotate(-90 5.6 528.9)">Depth (µm)</text>
<rect x="389.3" y="441.8" width="234.7" height="184.09999999999997" fill="#fff" stroke="#3a3a3a" stroke-width="0.8"/>
<line x1="389.3" y1="625.9" x2="392.3" y2="625.9" stroke="#3a3a3a" stroke-width="0.7"/>
<text x="385.3" y="628.6" font-size="9.8" text-anchor="end" fill="#1e1e1e" stroke="#1e1e1e" stroke-width="0.22">−400</text>
<line x1="389.3" y1="599.6" x2="392.3" y2="599.6" stroke="#3a3a3a" stroke-width="0.7"/>
<text x="385.3" y="602.3" font-size="9.8" text-anchor="end" fill="#1e1e1e" stroke="#1e1e1e" stroke-width="0.22">−300</text>
<line x1="389.3" y1="573.3" x2="392.3" y2="573.3" stroke="#3a3a3a" stroke-width="0.7"/>
<text x="385.3" y="576.0" font-size="9.8" text-anchor="end" fill="#1e1e1e" stroke="#1e1e1e" stroke-width="0.22">−200</text>
<line x1="389.3" y1="547.0" x2="392.3" y2="547.0" stroke="#3a3a3a" stroke-width="0.7"/>
<text x="385.3" y="549.7" font-size="9.8" text-anchor="end" fill="#1e1e1e" stroke="#1e1e1e" stroke-width="0.22">−100</text>
<line x1="389.3" y1="520.7" x2="392.3" y2="520.7" stroke="#3a3a3a" stroke-width="0.7"/>
<text x="385.3" y="523.4" font-size="9.8" text-anchor="end" fill="#1e1e1e" stroke="#1e1e1e" stroke-width="0.22">0</text>
<line x1="389.3" y1="494.4" x2="392.3" y2="494.4" stroke="#3a3a3a" stroke-width="0.7"/>
<text x="385.3" y="497.1" font-size="9.8" text-anchor="end" fill="#1e1e1e" stroke="#1e1e1e" stroke-width="0.22">100</text>
<line x1="389.3" y1="468.1" x2="392.3" y2="468.1" stroke="#3a3a3a" stroke-width="0.7"/>
<text x="385.3" y="470.8" font-size="9.8" text-anchor="end" fill="#1e1e1e" stroke="#1e1e1e" stroke-width="0.22">200</text>
<line x1="389.3" y1="441.8" x2="392.3" y2="441.8" stroke="#3a3a3a" stroke-width="0.7"/>
<text x="385.3" y="444.5" font-size="9.8" text-anchor="end" fill="#1e1e1e" stroke="#1e1e1e" stroke-width="0.22">300</text>
<line x1="389.3" y1="625.9" x2="389.3" y2="622.9" stroke="#3a3a3a" stroke-width="0.7"/>
<text x="387.8" y="639.1" font-size="9.8" text-anchor="middle" fill="#1e1e1e" stroke="#1e1e1e" stroke-width="0.22">−3</text>
<line x1="428.4" y1="625.9" x2="428.4" y2="622.9" stroke="#3a3a3a" stroke-width="0.7"/>
<text x="426.9" y="639.1" font-size="9.8" text-anchor="middle" fill="#1e1e1e" stroke="#1e1e1e" stroke-width="0.22">−2</text>
<line x1="467.5" y1="625.9" x2="467.5" y2="622.9" stroke="#3a3a3a" stroke-width="0.7"/>
<text x="466.0" y="639.1" font-size="9.8" text-anchor="middle" fill="#1e1e1e" stroke="#1e1e1e" stroke-width="0.22">−1</text>
<line x1="506.6" y1="625.9" x2="506.6" y2="622.9" stroke="#3a3a3a" stroke-width="0.7"/>
<text x="506.6" y="639.1" font-size="9.8" text-anchor="middle" fill="#1e1e1e" stroke="#1e1e1e" stroke-width="0.22">0</text>
<line x1="545.8" y1="625.9" x2="545.8" y2="622.9" stroke="#3a3a3a" stroke-width="0.7"/>
<text x="545.8" y="639.1" font-size="9.8" text-anchor="middle" fill="#1e1e1e" stroke="#1e1e1e" stroke-width="0.22">1</text>
<line x1="584.9" y1="625.9" x2="584.9" y2="622.9" stroke="#3a3a3a" stroke-width="0.7"/>
<text x="584.9" y="639.1" font-size="9.8" text-anchor="middle" fill="#1e1e1e" stroke="#1e1e1e" stroke-width="0.22">2</text>
<line x1="624.0" y1="625.9" x2="624.0" y2="622.9" stroke="#3a3a3a" stroke-width="0.7"/>
<text x="624.0" y="639.1" font-size="9.8" text-anchor="middle" fill="#1e1e1e" stroke="#1e1e1e" stroke-width="0.22">3</text>
<path d="M389.3,520.7 L389.7,520.9 L390.1,521.0 L390.5,521.2 L390.9,521.4 L391.3,521.6 L391.7,521.8 L392.0,522.0 L392.4,522.3 L392.8,522.5 L393.2,522.8 L393.6,523.1 L394.0,523.4 L394.4,523.7 L394.8,524.0 L395.2,524.3 L395.6,524.6 L396.0,525.0 L396.4,525.3 L396.7,525.6 L397.1,526.0 L397.5,526.3 L397.9,526.7 L398.3,527.0 L398.7,527.4 L399.1,527.8 L399.5,528.1 L399.9,528.5 L400.3,528.9 L400.7,529.3 L401.1,529.7 L401.4,530.1 L401.8,530.5 L402.2,530.8 L402.6,531.2 L403.0,531.6 L403.4,532.0 L403.8,532.4 L404.2,532.8 L404.6,533.2 L405.0,533.6 L405.4,533.9 L405.8,534.3 L406.1,534.7 L406.5,535.1 L406.9,535.6 L407.3,536.0 L407.7,536.4 L408.1,536.9 L408.5,537.3 L408.9,537.8 L409.3,538.3 L409.7,538.8 L410.1,539.4 L410.5,539.9 L410.9,540.5 L411.2,541.0 L411.6,541.6 L412.0,542.2 L412.4,542.9 L412.8,543.6 L413.2,544.3 L413.6,545.0 L414.0,545.8 L414.4,546.6 L414.8,547.5 L415.2,548.5 L415.6,549.6 L415.9,550.7 L416.3,551.9 L416.7,553.0 L417.1,554.3 L417.5,555.5 L417.9,556.7 L418.3,557.9 L418.7,559.1 L419.1,560.3 L419.5,561.5 L419.9,562.7 L420.3,563.9 L420.6,565.1 L421.0,566.3 L421.4,567.5 L421.8,568.7 L422.2,569.9 L422.6,571.2 L423.0,572.4 L423.4,573.6 L423.8,574.8 L424.2,576.0 L424.6,577.2 L425.0,578.5 L425.3,579.7 L425.7,581.0 L426.1,582.2 L426.5,583.4 L426.9,584.5 L427.3,585.6 L427.7,586.6 L428.1,587.6 L428.5,588.6 L428.9,589.5 L429.3,590.5 L429.7,591.3 L430.0,592.2 L430.4,593.0 L430.8,593.8 L431.2,594.6 L431.6,595.3 L432.0,595.9 L432.4,596.5 L432.8,597.2 L433.2,597.7 L433.6,598.3 L434.0,598.8 L434.4,599.4 L434.8,599.8 L435.1,600.3 L435.5,600.7 L435.9,601.2 L436.3,601.6 L436.7,602.0 L437.1,602.3 L437.5,602.7 L437.9,603.0 L438.3,603.3 L438.7,603.6 L439.1,603.9 L439.5,604.1 L439.8,604.3 L440.2,604.6 L440.6,604.8 L441.0,605.0 L441.4,605.2 L441.8,605.3 L442.2,605.5 L442.6,605.6 L443.0,605.6 L443.4,605.6 L443.8,605.6 L444.2,605.6 L444.5,605.5 L444.9,605.4 L445.3,605.3 L445.7,605.2 L446.1,605.0 L446.5,604.9 L446.9,604.7 L447.3,604.6 L447.7,604.4 L448.1,604.3 L448.5,604.1 L448.9,604.0 L449.2,603.8 L449.6,603.6 L450.0,603.3 L450.4,603.1 L450.8,602.9 L451.2,602.7 L451.6,602.5 L452.0,602.3 L452.4,602.1 L452.8,601.9 L453.2,601.8 L453.6,601.7 L454.0,601.6 L454.3,601.5 L454.7,601.4 L455.1,601.3 L455.5,601.2 L455.9,601.1 L456.3,601.0 L456.7,601.0 L457.1,600.9 L457.5,600.9 L457.9,600.9 L458.3,600.9 L458.7,601.0 L459.0,601.0 L459.4,601.1 L459.8,601.2 L460.2,601.4 L460.6,601.5 L461.0,601.6 L461.4,601.8 L461.8,602.0 L462.2,602.1 L462.6,602.3 L463.0,602.5 L463.4,602.6 L463.7,602.8 L464.1,603.0 L464.5,603.2 L464.9,603.5 L465.3,603.8 L465.7,604.1 L466.1,604.4 L466.5,604.7 L466.9,605.1 L467.3,605.4 L467.7,605.7 L468.1,606.0 L468.4,606.3 L468.8,606.6 L469.2,606.8 L469.6,607.0 L470.0,607.2 L470.4,607.5 L470.8,607.7 L471.2,607.9 L471.6,608.1 L472.0,608.3 L472.4,608.5 L472.8,608.7 L473.1,608.9 L473.5,609.1 L473.9,609.3 L474.3,609.4 L474.7,609.6 L475.1,609.7 L475.5,609.8 L475.9,609.8 L476.3,609.9 L476.7,609.9 L477.1,609.8 L477.5,609.8 L477.9,609.7 L478.2,609.6 L478.6,609.5 L479.0,609.3 L479.4,609.1 L479.8,609.0 L480.2,608.8 L480.6,608.5 L481.0,608.3 L481.4,608.1 L481.8,607.9 L482.2,607.6 L482.6,607.4 L482.9,607.1 L483.3,606.9 L483.7,606.5 L484.1,606.1 L484.5,605.7 L484.9,605.2 L485.3,604.7 L485.7,604.2 L486.1,603.8 L486.5,603.4 L486.9,603.1 L487.3,603.0 L487.6,602.8 L488.0,602.7 L488.4,602.5 L488.8,602.4 L489.2,602.3 L489.6,602.3 L490.0,602.2 L490.4,602.2 L490.8,602.3 L491.2,602.3 L491.6,602.4 L492.0,602.5 L492.3,602.6 L492.7,602.8 L493.1,602.9 L493.5,603.0 L493.9,603.2 L494.3,603.3 L494.7,603.5 L495.1,603.6 L495.5,603.8 L495.9,603.9 L496.3,604.1 L496.7,604.3 L497.1,604.5 L497.4,604.7 L497.8,604.9 L498.2,605.1 L498.6,605.3 L499.0,605.4 L499.4,605.5 L499.8,605.6 L500.2,605.6 L500.6,605.6 L501.0,605.6 L501.4,605.6 L501.8,605.5 L502.1,605.4 L502.5,605.3 L502.9,605.1 L503.3,605.0 L503.7,604.8 L504.1,604.7 L504.5,604.5 L504.9,604.3 L505.3,604.2 L505.7,604.0 L506.1,603.8 L506.5,603.6 L506.8,603.5 L507.2,603.3 L507.6,603.1 L508.0,602.9 L508.4,602.7 L508.8,602.4 L509.2,602.2 L509.6,601.9 L510.0,601.7 L510.4,601.4 L510.8,601.2 L511.2,600.9 L511.5,600.7 L511.9,600.4 L512.3,600.2 L512.7,600.0 L513.1,599.7 L513.5,599.5 L513.9,599.3 L514.3,599.2 L514.7,599.0 L515.1,598.8 L515.5,598.6 L515.9,598.5 L516.2,598.3 L516.6,598.1 L517.0,597.9 L517.4,597.8 L517.8,597.6 L518.2,597.4 L518.6,597.3 L519.0,597.2 L519.4,597.0 L519.8,596.9 L520.2,596.8 L520.6,596.8 L521.0,596.7 L521.3,596.7 L521.7,596.7 L522.1,596.8 L522.5,596.8 L522.9,596.9 L523.3,597.1 L523.7,597.2 L524.1,597.4 L524.5,597.6 L524.9,597.8 L525.3,598.0 L525.7,598.2 L526.0,598.5 L526.4,598.7 L526.8,598.9 L527.2,599.1 L527.6,599.3 L528.0,599.5 L528.4,599.7 L528.8,599.9 L529.2,600.1 L529.6,600.3 L530.0,600.6 L530.4,600.8 L530.7,601.0 L531.1,601.3 L531.5,601.5 L531.9,601.7 L532.3,601.9 L532.7,602.1 L533.1,602.3 L533.5,602.4 L533.9,602.6 L534.3,602.7 L534.7,602.7 L535.1,602.8 L535.4,602.8 L535.8,602.7 L536.2,602.7 L536.6,602.6 L537.0,602.6 L537.4,602.5 L537.8,602.4 L538.2,602.3 L538.6,602.1 L539.0,602.0 L539.4,601.9 L539.8,601.7 L540.2,601.6 L540.5,601.4 L540.9,601.3 L541.3,601.1 L541.7,601.0 L542.1,600.8 L542.5,600.6 L542.9,600.4 L543.3,600.1 L543.7,599.8 L544.1,599.5 L544.5,599.2 L544.9,598.9 L545.2,598.6 L545.6,598.3 L546.0,598.0 L546.4,597.7 L546.8,597.4 L547.2,597.2 L547.6,597.0 L548.0,596.9 L548.4,596.7 L548.8,596.6 L549.2,596.4 L549.6,596.3 L549.9,596.2 L550.3,596.2 L550.7,596.2 L551.1,596.3 L551.5,596.4 L551.9,596.6 L552.3,596.9 L552.7,597.2 L553.1,597.5 L553.5,597.8 L553.9,598.1 L554.3,598.5 L554.6,598.9 L555.0,599.2 L555.4,599.5 L555.8,599.8 L556.2,600.2 L556.6,600.5 L557.0,600.9 L557.4,601.3 L557.8,601.7 L558.2,602.1 L558.6,602.5 L559.0,602.9 L559.3,603.3 L559.7,603.7 L560.1,604.0 L560.5,604.3 L560.9,604.6 L561.3,604.8 L561.7,605.0 L562.1,605.2 L562.5,605.4 L562.9,605.5 L563.3,605.7 L563.7,605.9 L564.1,606.0 L564.4,606.2 L564.8,606.3 L565.2,606.4 L565.6,606.5 L566.0,606.6 L566.4,606.6 L566.8,606.7 L567.2,606.7 L567.6,606.7 L568.0,606.7 L568.4,606.7 L568.8,606.7 L569.1,606.7 L569.5,606.7 L569.9,606.7 L570.3,606.7 L570.7,606.7 L571.1,606.7 L571.5,606.7 L571.9,606.7 L572.3,606.7 L572.7,606.7 L573.1,606.7 L573.5,606.7 L573.8,606.7 L574.2,606.6 L574.6,606.6 L575.0,606.5 L575.4,606.4 L575.8,606.2 L576.2,606.1 L576.6,606.0 L577.0,605.8 L577.4,605.6 L577.8,605.4 L578.2,605.1 L578.5,604.9 L578.9,604.6 L579.3,604.0 L579.7,603.2 L580.1,602.1 L580.5,601.0 L580.9,599.6 L581.3,598.2 L581.7,596.7 L582.1,594.9 L582.5,592.5 L582.9,589.7 L583.3,586.8 L583.6,584.2 L584.0,582.0 L584.4,579.8 L584.8,577.7 L585.2,575.7 L585.6,573.6 L586.0,571.6 L586.4,569.6 L586.8,567.6 L587.2,565.6 L587.6,563.6 L588.0,561.8 L588.3,559.9 L588.7,558.1 L589.1,556.4 L589.5,554.6 L589.9,552.9 L590.3,551.2 L590.7,549.4 L591.1,547.7 L591.5,545.9 L591.9,544.1 L592.3,542.4 L592.7,540.8 L593.0,539.3 L593.4,537.9 L593.8,536.6 L594.2,535.3 L594.6,534.1 L595.0,532.9 L595.4,531.8 L595.8,530.7 L596.2,529.7 L596.6,528.7 L597.0,527.7 L597.4,526.8 L597.7,525.8 L598.1,524.9 L598.5,524.1 L598.9,523.3 L599.3,522.6 L599.7,522.1 L600.1,521.6 L600.5,521.1 L600.9,520.6 L601.3,520.3 L601.7,520.0 L602.1,519.9 L602.4,519.9 L602.8,519.9 L603.2,519.9 L603.6,519.9 L604.0,519.9 L604.4,519.9 L604.8,519.9 L605.2,519.9 L605.6,519.9 L606.0,519.9 L606.4,519.9 L606.8,519.9 L607.2,519.9 L607.5,519.9 L607.9,519.9 L608.3,519.9 L608.7,519.9 L609.1,519.9 L609.5,519.9 L609.9,519.9 L610.3,520.0 L610.7,520.0 L611.1,520.1 L611.5,520.1 L611.9,520.2 L612.2,520.2 L612.6,520.3 L613.0,520.3 L613.4,520.4 L613.8,520.4 L614.2,520.4 L614.6,520.5 L615.0,520.5 L615.4,520.5 L615.8,520.5 L616.2,520.5 L616.6,520.5 L616.9,520.6 L617.3,520.6 L617.7,520.6 L618.1,520.6 L618.5,520.6 L618.9,520.6 L619.3,520.6 L619.7,520.6 L620.1,520.6 L620.5,520.7 L620.9,520.7 L621.3,520.7 L621.6,520.7 L622.0,520.7 L622.4,520.7 L622.8,520.7 L623.2,520.7 L623.6,520.7 L624.0,520.7" fill="none" stroke="#c0392e" stroke-width="1.5" stroke-dasharray="5.2 3.6"/>
<path d="M389.3,520.7 L389.7,520.6 L390.1,520.5 L390.5,520.5 L390.9,520.4 L391.3,520.3 L391.7,520.3 L392.0,520.2 L392.4,520.2 L392.8,520.1 L393.2,520.1 L393.6,520.1 L394.0,520.0 L394.4,520.0 L394.8,520.0 L395.2,519.9 L395.6,519.9 L396.0,519.9 L396.4,519.9 L396.7,519.9 L397.1,520.0 L397.5,520.1 L397.9,520.3 L398.3,520.4 L398.7,520.6 L399.1,520.8 L399.5,521.0 L399.9,521.3 L400.3,521.5 L400.7,521.8 L401.1,522.1 L401.4,522.4 L401.8,522.8 L402.2,523.2 L402.6,523.6 L403.0,524.1 L403.4,524.5 L403.8,525.0 L404.2,525.5 L404.6,526.0 L405.0,526.5 L405.4,527.0 L405.8,527.6 L406.1,528.1 L406.5,528.7 L406.9,529.3 L407.3,529.9 L407.7,530.5 L408.1,531.2 L408.5,531.9 L408.9,532.6 L409.3,533.3 L409.7,534.1 L410.1,534.9 L410.5,535.8 L410.9,536.6 L411.2,537.5 L411.6,538.5 L412.0,539.4 L412.4,540.3 L412.8,541.3 L413.2,542.3 L413.6,543.4 L414.0,544.4 L414.4,545.6 L414.8,546.7 L415.2,547.8 L415.6,548.9 L415.9,550.0 L416.3,551.1 L416.7,552.1 L417.1,553.1 L417.5,554.1 L417.9,555.1 L418.3,556.1 L418.7,557.1 L419.1,558.0 L419.5,559.0 L419.9,560.0 L420.3,561.1 L420.6,562.1 L421.0,563.2 L421.4,564.3 L421.8,565.4 L422.2,566.5 L422.6,567.6 L423.0,568.7 L423.4,569.8 L423.8,570.8 L424.2,571.9 L424.6,572.9 L425.0,574.0 L425.3,575.0 L425.7,576.0 L426.1,577.0 L426.5,578.1 L426.9,579.1 L427.3,580.0 L427.7,581.0 L428.1,581.9 L428.5,582.8 L428.9,583.7 L429.3,584.5 L429.7,585.4 L430.0,586.2 L430.4,587.0 L430.8,587.8 L431.2,588.5 L431.6,589.2 L432.0,589.9 L432.4,590.5 L432.8,591.1 L433.2,591.7 L433.6,592.3 L434.0,592.8 L434.4,593.3 L434.8,593.8 L435.1,594.3 L435.5,594.7 L435.9,595.1 L436.3,595.5 L436.7,595.8 L437.1,596.1 L437.5,596.4 L437.9,596.7 L438.3,597.0 L438.7,597.2 L439.1,597.4 L439.5,597.7 L439.8,597.9 L440.2,598.1 L440.6,598.3 L441.0,598.5 L441.4,598.7 L441.8,598.8 L442.2,599.0 L442.6,599.1 L443.0,599.1 L443.4,599.1 L443.8,599.0 L444.2,598.9 L444.5,598.9 L444.9,598.8 L445.3,598.6 L445.7,598.5 L446.1,598.4 L446.5,598.2 L446.9,598.1 L447.3,598.0 L447.7,597.8 L448.1,597.7 L448.5,597.6 L448.9,597.5 L449.2,597.3 L449.6,597.1 L450.0,597.0 L450.4,596.8 L450.8,596.6 L451.2,596.5 L451.6,596.3 L452.0,596.2 L452.4,596.0 L452.8,595.9 L453.2,595.8 L453.6,595.7 L454.0,595.6 L454.3,595.6 L454.7,595.5 L455.1,595.5 L455.5,595.5 L455.9,595.4 L456.3,595.4 L456.7,595.4 L457.1,595.4 L457.5,595.3 L457.9,595.3 L458.3,595.3 L458.7,595.2 L459.0,595.2 L459.4,595.2 L459.8,595.1 L460.2,595.0 L460.6,594.9 L461.0,594.8 L461.4,594.7 L461.8,594.6 L462.2,594.4 L462.6,594.3 L463.0,594.2 L463.4,594.1 L463.7,594.1 L464.1,594.1 L464.5,594.1 L464.9,594.2 L465.3,594.3 L465.7,594.4 L466.1,594.5 L466.5,594.7 L466.9,594.9 L467.3,595.0 L467.7,595.2 L468.1,595.4 L468.4,595.6 L468.8,595.8 L469.2,596.1 L469.6,596.4 L470.0,596.7 L470.4,596.9 L470.8,597.2 L471.2,597.4 L471.6,597.6 L472.0,597.7 L472.4,597.9 L472.8,598.1 L473.1,598.3 L473.5,598.4 L473.9,598.6 L474.3,598.7 L474.7,598.8 L475.1,598.8 L475.5,598.8 L475.9,598.8 L476.3,598.7 L476.7,598.6 L477.1,598.5 L477.5,598.4 L477.9,598.3 L478.2,598.1 L478.6,598.0 L479.0,597.8 L479.4,597.7 L479.8,597.6 L480.2,597.4 L480.6,597.2 L481.0,597.1 L481.4,596.9 L481.8,596.7 L482.2,596.5 L482.6,596.3 L482.9,596.1 L483.3,596.0 L483.7,595.8 L484.1,595.7 L484.5,595.5 L484.9,595.4 L485.3,595.4 L485.7,595.3 L486.1,595.2 L486.5,595.1 L486.9,595.1 L487.3,595.0 L487.6,595.0 L488.0,594.9 L488.4,594.9 L488.8,594.9 L489.2,594.9 L489.6,594.9 L490.0,594.9 L490.4,594.9 L490.8,595.0 L491.2,595.0 L491.6,595.1 L492.0,595.1 L492.3,595.2 L492.7,595.2 L493.1,595.3 L493.5,595.4 L493.9,595.5 L494.3,595.5 L494.7,595.6 L495.1,595.7 L495.5,595.8 L495.9,595.9 L496.3,596.0 L496.7,596.2 L497.1,596.3 L497.4,596.5 L497.8,596.7 L498.2,596.8 L498.6,597.0 L499.0,597.2 L499.4,597.3 L499.8,597.5 L500.2,597.6 L500.6,597.7 L501.0,597.8 L501.4,597.9 L501.8,598.0 L502.1,598.1 L502.5,598.2 L502.9,598.3 L503.3,598.4 L503.7,598.5 L504.1,598.5 L504.5,598.6 L504.9,598.7 L505.3,598.7 L505.7,598.8 L506.1,598.8 L506.5,598.8 L506.8,598.8 L507.2,598.8 L507.6,598.7 L508.0,598.6 L508.4,598.5 L508.8,598.4 L509.2,598.3 L509.6,598.2 L510.0,598.0 L510.4,597.8 L510.8,597.7 L511.2,597.5 L511.5,597.3 L511.9,597.2 L512.3,597.0 L512.7,596.9 L513.1,596.7 L513.5,596.5 L513.9,596.3 L514.3,596.1 L514.7,595.9 L515.1,595.7 L515.5,595.4 L515.9,595.2 L516.2,595.0 L516.6,594.8 L517.0,594.6 L517.4,594.4 L517.8,594.3 L518.2,594.2 L518.6,594.1 L519.0,594.1 L519.4,594.1 L519.8,594.1 L520.2,594.1 L520.6,594.2 L521.0,594.2 L521.3,594.3 L521.7,594.3 L522.1,594.4 L522.5,594.5 L522.9,594.6 L523.3,594.6 L523.7,594.7 L524.1,594.8 L524.5,594.9 L524.9,595.0 L525.3,595.1 L525.7,595.2 L526.0,595.3 L526.4,595.5 L526.8,595.6 L527.2,595.7 L527.6,595.9 L528.0,596.1 L528.4,596.2 L528.8,596.4 L529.2,596.6 L529.6,596.8 L530.0,597.0 L530.4,597.1 L530.7,597.3 L531.1,597.5 L531.5,597.6 L531.9,597.7 L532.3,597.8 L532.7,597.9 L533.1,598.0 L533.5,598.1 L533.9,598.2 L534.3,598.3 L534.7,598.4 L535.1,598.5 L535.4,598.6 L535.8,598.6 L536.2,598.7 L536.6,598.7 L537.0,598.8 L537.4,598.8 L537.8,598.8 L538.2,598.8 L538.6,598.8 L539.0,598.7 L539.4,598.6 L539.8,598.5 L540.2,598.4 L540.5,598.3 L540.9,598.2 L541.3,598.0 L541.7,597.8 L542.1,597.7 L542.5,597.5 L542.9,597.3 L543.3,597.2 L543.7,597.0 L544.1,596.9 L544.5,596.7 L544.9,596.5 L545.2,596.2 L545.6,596.0 L546.0,595.7 L546.4,595.4 L546.8,595.2 L547.2,594.9 L547.6,594.6 L548.0,594.4 L548.4,594.2 L548.8,594.0 L549.2,593.8 L549.6,593.7 L549.9,593.6 L550.3,593.6 L550.7,593.6 L551.1,593.6 L551.5,593.6 L551.9,593.7 L552.3,593.7 L552.7,593.8 L553.1,593.9 L553.5,594.0 L553.9,594.1 L554.3,594.2 L554.6,594.3 L555.0,594.4 L555.4,594.5 L555.8,594.6 L556.2,594.8 L556.6,594.9 L557.0,595.0 L557.4,595.1 L557.8,595.2 L558.2,595.3 L558.6,595.5 L559.0,595.6 L559.3,595.7 L559.7,595.9 L560.1,596.1 L560.5,596.2 L560.9,596.4 L561.3,596.5 L561.7,596.7 L562.1,596.9 L562.5,597.0 L562.9,597.2 L563.3,597.3 L563.7,597.5 L564.1,597.6 L564.4,597.8 L564.8,597.9 L565.2,598.0 L565.6,598.1 L566.0,598.2 L566.4,598.3 L566.8,598.4 L567.2,598.5 L567.6,598.6 L568.0,598.7 L568.4,598.8 L568.8,598.9 L569.1,599.0 L569.5,599.0 L569.9,599.1 L570.3,599.1 L570.7,599.1 L571.1,599.0 L571.5,598.9 L571.9,598.8 L572.3,598.7 L572.7,598.5 L573.1,598.3 L573.5,598.2 L573.8,598.0 L574.2,597.7 L574.6,597.5 L575.0,597.3 L575.4,597.1 L575.8,596.8 L576.2,596.4 L576.6,596.1 L577.0,595.7 L577.4,595.3 L577.8,594.8 L578.2,594.4 L578.5,593.9 L578.9,593.4 L579.3,592.9 L579.7,592.3 L580.1,591.6 L580.5,590.9 L580.9,590.2 L581.3,589.5 L581.7,588.7 L582.1,587.9 L582.5,587.1 L582.9,586.2 L583.3,585.3 L583.6,584.3 L584.0,583.3 L584.4,582.3 L584.8,581.2 L585.2,580.2 L585.6,579.2 L586.0,578.3 L586.4,577.3 L586.8,576.3 L587.2,575.3 L587.6,574.3 L588.0,573.3 L588.3,572.3 L588.7,571.4 L589.1,570.4 L589.5,569.5 L589.9,568.6 L590.3,567.7 L590.7,566.9 L591.1,566.1 L591.5,565.3 L591.9,564.5 L592.3,563.7 L592.7,562.9 L593.0,562.0 L593.4,561.2 L593.8,560.3 L594.2,559.3 L594.6,558.4 L595.0,557.4 L595.4,556.4 L595.8,555.4 L596.2,554.3 L596.6,553.3 L597.0,552.3 L597.4,551.3 L597.7,550.3 L598.1,549.3 L598.5,548.3 L598.9,547.3 L599.3,546.3 L599.7,545.3 L600.1,544.3 L600.5,543.3 L600.9,542.4 L601.3,541.4 L601.7,540.5 L602.1,539.6 L602.4,538.7 L602.8,537.8 L603.2,536.9 L603.6,536.0 L604.0,535.2 L604.4,534.4 L604.8,533.6 L605.2,532.8 L605.6,532.1 L606.0,531.4 L606.4,530.7 L606.8,530.0 L607.2,529.4 L607.5,528.8 L607.9,528.2 L608.3,527.6 L608.7,527.0 L609.1,526.5 L609.5,526.0 L609.9,525.5 L610.3,525.0 L610.7,524.5 L611.1,524.1 L611.5,523.6 L611.9,523.2 L612.2,522.8 L612.6,522.4 L613.0,522.1 L613.4,521.8 L613.8,521.5 L614.2,521.3 L614.6,521.0 L615.0,520.8 L615.4,520.5 L615.8,520.3 L616.2,520.2 L616.6,520.0 L616.9,519.9 L617.3,519.9 L617.7,519.9 L618.1,519.9 L618.5,520.0 L618.9,520.0 L619.3,520.0 L619.7,520.1 L620.1,520.1 L620.5,520.1 L620.9,520.2 L621.3,520.2 L621.6,520.3 L622.0,520.3 L622.4,520.4 L622.8,520.5 L623.2,520.5 L623.6,520.6 L624.0,520.7" fill="none" stroke="#1d4a86" stroke-width="1.5"/>
<text x="508.5" y="652.4" font-size="9.8" text-anchor="middle" fill="#1e1e1e" stroke="#1e1e1e" stroke-width="0.22">Width (mm)</text>
<text x="508.5" y="669.9" font-size="9.8" text-anchor="middle" fill="#1e1e1e" stroke="#1e1e1e" stroke-width="0.22">(f)</text>
<text x="354.5" y="532.4" font-size="9.8" text-anchor="middle" fill="#1e1e1e" stroke="#1e1e1e" stroke-width="0.22" transform="rotate(-90 354.5 528.9)">Depth (µm)</text>
<text x="50.0" y="464.8" font-size="9.8" text-anchor="start" fill="#b5292a" stroke="#b5292a" stroke-width="0.22">Unremoved coating</text>
<line x1="165.5" y1="452" x2="186.3" y2="452" stroke="#1d4a86" stroke-width="1.35"/>
<line x1="165.5" y1="461.3" x2="186.3" y2="461.3" stroke="#c0392e" stroke-width="1.35" stroke-dasharray="4.6 3.4"/>
<text x="188.0" y="455.5" font-size="9.8" text-anchor="start" fill="#1e1e1e" stroke="#1e1e1e" stroke-width="0.22">Simulation</text>
<text x="188.0" y="464.8" font-size="9.8" text-anchor="start" fill="#1e1e1e" stroke="#1e1e1e" stroke-width="0.22">Experiment</text>
<text x="98.9" y="529.9" font-size="9.8" text-anchor="start" fill="#1e1e1e" stroke="#1e1e1e" stroke-width="0.22">Unstable pressure and varying</text>
<text x="98.9" y="540.7" font-size="9.8" text-anchor="start" fill="#1e1e1e" stroke="#1e1e1e" stroke-width="0.22">thickness</text>
<line x1="144" y1="543.5" x2="111.6" y2="587.6" stroke="#111" stroke-width="0.95"/>
<circle cx="111.4" cy="588.1" r="2.5" fill="#000"/>
<line x1="140.2" y1="584.3" x2="140.2" y2="594.6" stroke="#111" stroke-width="0.95"/>
<path d="M140.2,582.3 l-2.4,4.2 h4.8 z M140.2,596.6 l-2.4,-4.2 h4.8 z" fill="#111"/>
<text x="108.9" y="618.6" font-size="9.8" text-anchor="start" fill="#1e1e1e" stroke="#1e1e1e" stroke-width="0.22">Max error 51.0 µm</text>
<text x="400.1" y="466.8" font-size="9.8" text-anchor="start" fill="#b5292a" stroke="#b5292a" stroke-width="0.22">Fully removed coating</text>
<line x1="523.6" y1="451.3" x2="544.6" y2="451.3" stroke="#1d4a86" stroke-width="1.35"/>
<line x1="523.6" y1="460.2" x2="544.6" y2="460.2" stroke="#c0392e" stroke-width="1.35" stroke-dasharray="4.6 3.4"/>
<text x="548.6" y="454.8" font-size="9.8" text-anchor="start" fill="#1e1e1e" stroke="#1e1e1e" stroke-width="0.22">Simulation</text>
<text x="548.6" y="463.7" font-size="9.8" text-anchor="start" fill="#1e1e1e" stroke="#1e1e1e" stroke-width="0.22">Experiment</text>
<text x="561.0" y="504.4" font-size="9.8" text-anchor="middle" fill="#1e1e1e" stroke="#1e1e1e" stroke-width="0.22">Corner: not enough</text>
<text x="561.0" y="514.9" font-size="9.8" text-anchor="middle" fill="#1e1e1e" stroke="#1e1e1e" stroke-width="0.22">energy</text>
<line x1="565.4" y1="517.6" x2="590.8" y2="533.6" stroke="#111" stroke-width="0.95"/>
<circle cx="591.2" cy="533.9" r="2.5" fill="#000"/>
<text x="479.0" y="554.7" font-size="9.8" text-anchor="middle" fill="#1e1e1e" stroke="#1e1e1e" stroke-width="0.22">Uneven distribution of</text>
<text x="479.7" y="565.7" font-size="9.8" text-anchor="middle" fill="#1e1e1e" stroke="#1e1e1e" stroke-width="0.22">abrasives</text>
<line x1="475" y1="566.5" x2="500" y2="601.6" stroke="#111" stroke-width="0.95"/>
<circle cx="500.3" cy="602.1" r="2.5" fill="#000"/>
<line x1="475.2" y1="600.6" x2="475.2" y2="607.2" stroke="#111" stroke-width="0.95"/>
<path d="M475.2,598.6 l-2.4,4.2 h4.8 z M475.2,609.2 l-2.4,-4.2 h4.8 z" fill="#111"/>
<text x="445.7" y="621.6" font-size="9.8" text-anchor="start" fill="#1e1e1e" stroke="#1e1e1e" stroke-width="0.22">Max error 32.7 µm</text>
<rect x="268.2" y="3.8" width="8.699999999999989" height="188.5" fill="url(#jet)" stroke="#55504c" stroke-width="0.5"/>
<text x="280.6" y="8.8" font-size="10.0" text-anchor="start" fill="#1e1e1e" stroke="#1e1e1e" stroke-width="0.22">0</text>
<line x1="274.7" y1="5.2" x2="276.9" y2="5.2" stroke="#333" stroke-width="0.5"/>
<text x="280.6" y="39.7" font-size="10.0" text-anchor="start" fill="#1e1e1e" stroke="#1e1e1e" stroke-width="0.22">−50</text>
<line x1="274.7" y1="36.1" x2="276.9" y2="36.1" stroke="#333" stroke-width="0.5"/>
<text x="280.6" y="70.7" font-size="10.0" text-anchor="start" fill="#1e1e1e" stroke="#1e1e1e" stroke-width="0.22">−100</text>
<line x1="274.7" y1="67.1" x2="276.9" y2="67.1" stroke="#333" stroke-width="0.5"/>
<text x="280.6" y="101.6" font-size="10.0" text-anchor="start" fill="#1e1e1e" stroke="#1e1e1e" stroke-width="0.22">−150</text>
<line x1="274.7" y1="98.0" x2="276.9" y2="98.0" stroke="#333" stroke-width="0.5"/>
<text x="280.6" y="132.6" font-size="10.0" text-anchor="start" fill="#1e1e1e" stroke="#1e1e1e" stroke-width="0.22">−200</text>
<line x1="274.7" y1="129.0" x2="276.9" y2="129.0" stroke="#333" stroke-width="0.5"/>
<text x="280.6" y="163.5" font-size="10.0" text-anchor="start" fill="#1e1e1e" stroke="#1e1e1e" stroke-width="0.22">−250</text>
<line x1="274.7" y1="159.9" x2="276.9" y2="159.9" stroke="#333" stroke-width="0.5"/>
<text x="280.6" y="194.5" font-size="10.0" text-anchor="start" fill="#1e1e1e" stroke="#1e1e1e" stroke-width="0.22">−300</text>
<line x1="274.7" y1="190.9" x2="276.9" y2="190.9" stroke="#333" stroke-width="0.5"/>
<rect x="604.1" y="3.8" width="8.899999999999977" height="188.5" fill="url(#jet)" stroke="#55504c" stroke-width="0.5"/>
<text x="616.6" y="8.8" font-size="10.0" text-anchor="start" fill="#1e1e1e" stroke="#1e1e1e" stroke-width="0.22">0</text>
<line x1="610.8" y1="5.2" x2="613.0" y2="5.2" stroke="#333" stroke-width="0.5"/>
<text x="616.6" y="39.7" font-size="10.0" text-anchor="start" fill="#1e1e1e" stroke="#1e1e1e" stroke-width="0.22">−50</text>
<line x1="610.8" y1="36.1" x2="613.0" y2="36.1" stroke="#333" stroke-width="0.5"/>
<text x="616.6" y="70.7" font-size="10.0" text-anchor="start" fill="#1e1e1e" stroke="#1e1e1e" stroke-width="0.22">−100</text>
<line x1="610.8" y1="67.1" x2="613.0" y2="67.1" stroke="#333" stroke-width="0.5"/>
<text x="616.6" y="101.6" font-size="10.0" text-anchor="start" fill="#1e1e1e" stroke="#1e1e1e" stroke-width="0.22">−150</text>
<line x1="610.8" y1="98.0" x2="613.0" y2="98.0" stroke="#333" stroke-width="0.5"/>
<text x="616.6" y="132.6" font-size="10.0" text-anchor="start" fill="#1e1e1e" stroke="#1e1e1e" stroke-width="0.22">−200</text>
<line x1="610.8" y1="129.0" x2="613.0" y2="129.0" stroke="#333" stroke-width="0.5"/>
<text x="616.6" y="163.5" font-size="10.0" text-anchor="start" fill="#1e1e1e" stroke="#1e1e1e" stroke-width="0.22">−250</text>
<line x1="610.8" y1="159.9" x2="613.0" y2="159.9" stroke="#333" stroke-width="0.5"/>
<text x="616.6" y="194.5" font-size="10.0" text-anchor="start" fill="#1e1e1e" stroke="#1e1e1e" stroke-width="0.22">−300</text>
<line x1="610.8" y1="190.9" x2="613.0" y2="190.9" stroke="#333" stroke-width="0.5"/>
<rect x="265.1" y="232.0" width="7.5" height="166.2" fill="url(#hot)" stroke="#55504c" stroke-width="0.5"/>
<text x="276.4" y="236.6" font-size="9.5" text-anchor="start" fill="#1e1e1e" stroke="#1e1e1e" stroke-width="0.22">0</text>
<line x1="270.40000000000003" y1="233.2" x2="272.6" y2="233.2" stroke="#333" stroke-width="0.5"/>
<text x="276.4" y="255.0" font-size="9.5" text-anchor="start" fill="#1e1e1e" stroke="#1e1e1e" stroke-width="0.22">50</text>
<line x1="270.40000000000003" y1="251.6" x2="272.6" y2="251.6" stroke="#333" stroke-width="0.5"/>
<text x="276.4" y="273.4" font-size="9.5" text-anchor="start" fill="#1e1e1e" stroke="#1e1e1e" stroke-width="0.22">100</text>
<line x1="270.40000000000003" y1="270.0" x2="272.6" y2="270.0" stroke="#333" stroke-width="0.5"/>
<text x="276.4" y="291.8" font-size="9.5" text-anchor="start" fill="#1e1e1e" stroke="#1e1e1e" stroke-width="0.22">150</text>
<line x1="270.40000000000003" y1="288.4" x2="272.6" y2="288.4" stroke="#333" stroke-width="0.5"/>
<text x="276.4" y="310.2" font-size="9.5" text-anchor="start" fill="#1e1e1e" stroke="#1e1e1e" stroke-width="0.22">200</text>
<line x1="270.40000000000003" y1="306.8" x2="272.6" y2="306.8" stroke="#333" stroke-width="0.5"/>
<text x="276.4" y="328.7" font-size="9.5" text-anchor="start" fill="#1e1e1e" stroke="#1e1e1e" stroke-width="0.22">250</text>
<line x1="270.40000000000003" y1="325.2" x2="272.6" y2="325.2" stroke="#333" stroke-width="0.5"/>
<text x="276.4" y="347.1" font-size="9.5" text-anchor="start" fill="#1e1e1e" stroke="#1e1e1e" stroke-width="0.22">300</text>
<line x1="270.40000000000003" y1="343.7" x2="272.6" y2="343.7" stroke="#333" stroke-width="0.5"/>
<text x="276.4" y="365.5" font-size="9.5" text-anchor="start" fill="#1e1e1e" stroke="#1e1e1e" stroke-width="0.22">350</text>
<line x1="270.40000000000003" y1="362.1" x2="272.6" y2="362.1" stroke="#333" stroke-width="0.5"/>
<text x="276.4" y="383.9" font-size="9.5" text-anchor="start" fill="#1e1e1e" stroke="#1e1e1e" stroke-width="0.22">400</text>
<line x1="270.40000000000003" y1="380.5" x2="272.6" y2="380.5" stroke="#333" stroke-width="0.5"/>
<text x="276.4" y="402.3" font-size="9.5" text-anchor="start" fill="#1e1e1e" stroke="#1e1e1e" stroke-width="0.22">450</text>
<line x1="270.40000000000003" y1="398.9" x2="272.6" y2="398.9" stroke="#333" stroke-width="0.5"/>
<text x="277.4" y="412.7" font-size="9.5" text-anchor="start" fill="#1e1e1e" stroke="#1e1e1e" stroke-width="0.22">µm</text>
<rect x="608.3" y="234.6" width="6.300000000000068" height="159.9" fill="url(#hot)" stroke="#55504c" stroke-width="0.5"/>
<text x="621.3" y="239.3" font-size="10.0" text-anchor="start" fill="#1e1e1e" stroke="#1e1e1e" stroke-width="0.22">0</text>
<line x1="612.4" y1="235.7" x2="614.6" y2="235.7" stroke="#333" stroke-width="0.5"/>
<text x="621.3" y="257.0" font-size="10.0" text-anchor="start" fill="#1e1e1e" stroke="#1e1e1e" stroke-width="0.22">50</text>
<line x1="612.4" y1="253.4" x2="614.6" y2="253.4" stroke="#333" stroke-width="0.5"/>
<text x="621.3" y="274.7" font-size="10.0" text-anchor="start" fill="#1e1e1e" stroke="#1e1e1e" stroke-width="0.22">100</text>
<line x1="612.4" y1="271.1" x2="614.6" y2="271.1" stroke="#333" stroke-width="0.5"/>
<text x="621.3" y="292.4" font-size="10.0" text-anchor="start" fill="#1e1e1e" stroke="#1e1e1e" stroke-width="0.22">150</text>
<line x1="612.4" y1="288.8" x2="614.6" y2="288.8" stroke="#333" stroke-width="0.5"/>
<text x="621.3" y="310.1" font-size="10.0" text-anchor="start" fill="#1e1e1e" stroke="#1e1e1e" stroke-width="0.22">200</text>
<line x1="612.4" y1="306.5" x2="614.6" y2="306.5" stroke="#333" stroke-width="0.5"/>
<text x="621.3" y="327.8" font-size="10.0" text-anchor="start" fill="#1e1e1e" stroke="#1e1e1e" stroke-width="0.22">250</text>
<line x1="612.4" y1="324.2" x2="614.6" y2="324.2" stroke="#333" stroke-width="0.5"/>
<text x="621.3" y="345.5" font-size="10.0" text-anchor="start" fill="#1e1e1e" stroke="#1e1e1e" stroke-width="0.22">300</text>
<line x1="612.4" y1="342.0" x2="614.6" y2="342.0" stroke="#333" stroke-width="0.5"/>
<text x="621.3" y="363.2" font-size="10.0" text-anchor="start" fill="#1e1e1e" stroke="#1e1e1e" stroke-width="0.22">350</text>
<line x1="612.4" y1="359.7" x2="614.6" y2="359.7" stroke="#333" stroke-width="0.5"/>
<text x="621.3" y="381.0" font-size="10.0" text-anchor="start" fill="#1e1e1e" stroke="#1e1e1e" stroke-width="0.22">400</text>
<line x1="612.4" y1="377.4" x2="614.6" y2="377.4" stroke="#333" stroke-width="0.5"/>
<text x="621.3" y="398.7" font-size="10.0" text-anchor="start" fill="#1e1e1e" stroke="#1e1e1e" stroke-width="0.22">450</text>
<line x1="612.4" y1="395.1" x2="614.6" y2="395.1" stroke="#333" stroke-width="0.5"/>
<text x="622.8" y="409.9" font-size="10.0" text-anchor="start" fill="#1e1e1e" stroke="#1e1e1e" stroke-width="0.22">µm</text>
</g>
</svg>
</body></html>
